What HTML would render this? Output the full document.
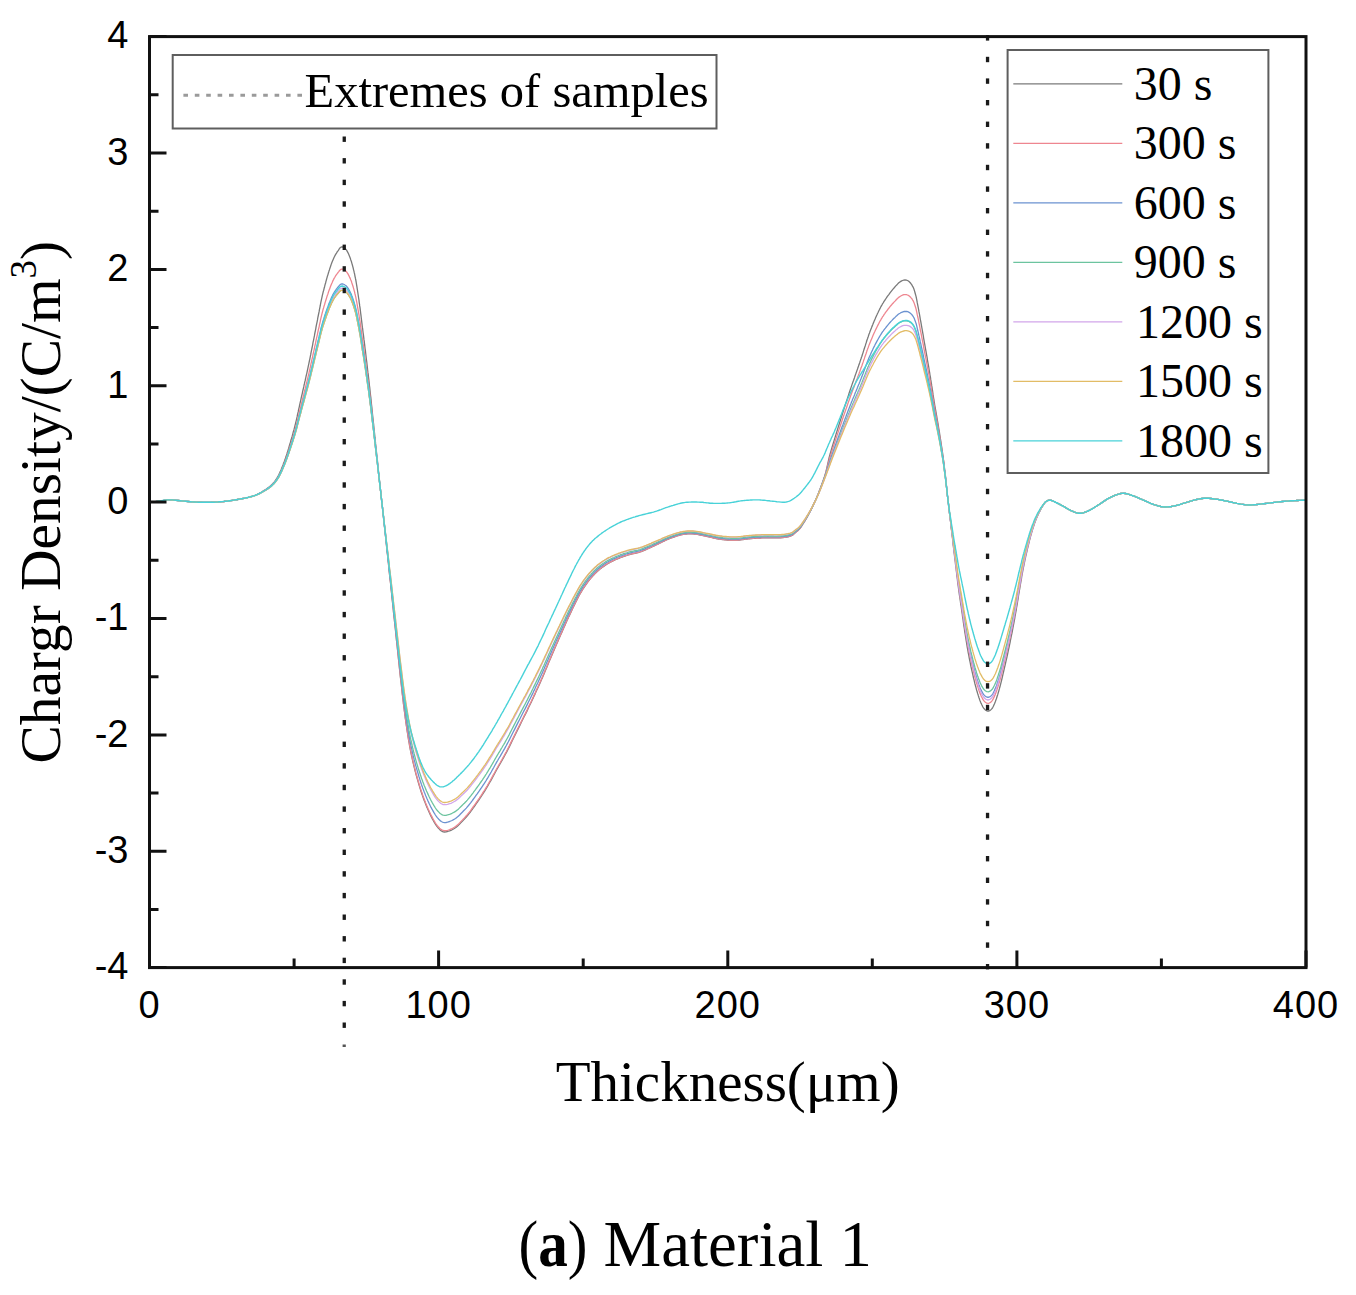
<!DOCTYPE html>
<html><head><meta charset="utf-8"><title>Charge density chart</title>
<style>html,body{margin:0;padding:0;background:#fff;width:1356px;height:1295px;overflow:hidden}
body{position:relative;font-family:"Liberation Serif",serif}</style></head>
<body>
<svg width="1356" height="1295" viewBox="0 0 1356 1295" style="position:absolute;left:0;top:0"><g fill="none" stroke-linejoin="round" stroke-linecap="round"><path d="M150.5 502.4L152.1 502.2L153.7 501.9L155.3 501.7L156.9 501.4L158.4 501.2L160.0 501.0L161.4 500.8L162.9 500.6L164.2 500.3L165.7 500.1L167.1 500.0L168.6 499.9L170.4 499.9L172.3 500.0L174.2 500.1L176.1 500.3L178.1 500.5L180.0 500.7L182.0 500.9L184.0 501.1L186.1 501.3L188.1 501.5L190.1 501.7L192.2 501.9L194.3 502.0L196.5 502.1L198.6 502.2L200.8 502.2L202.9 502.3L205.0 502.3L206.8 502.3L208.6 502.3L210.4 502.3L212.2 502.2L214.0 502.2L215.8 502.1L217.8 502.0L219.8 501.8L221.9 501.7L223.9 501.5L226.0 501.2L228.0 501.0L229.9 500.7L231.8 500.4L233.8 500.1L235.7 499.8L237.5 499.5L239.4 499.1L241.2 498.8L243.0 498.4L244.9 498.1L246.6 497.7L248.4 497.3L250.0 496.8L251.3 496.5L252.5 496.1L253.7 495.7L254.9 495.3L256.0 494.9L257.1 494.4L258.1 493.9L259.1 493.4L260.1 492.8L261.1 492.3L262.1 491.7L263.0 491.1L263.9 490.6L264.7 490.1L265.6 489.5L266.4 489.0L267.2 488.4L268.0 487.9L268.7 487.3L269.4 486.8L270.1 486.2L270.7 485.7L271.4 485.1L272.0 484.4L272.7 483.7L273.4 482.9L274.1 482.1L274.7 481.3L275.4 480.4L276.0 479.5L276.6 478.6L277.2 477.7L277.8 476.7L278.3 475.7L278.9 474.6L279.5 473.4L279.9 472.4L280.4 471.4L280.8 470.4L281.3 469.3L281.8 468.1L282.2 466.9L282.7 465.7L283.2 464.5L283.6 463.2L284.1 462.0L284.6 460.7L285.0 459.5L285.5 458.1L285.9 456.8L286.4 455.4L286.9 454.0L287.3 452.5L287.8 451.1L288.2 449.7L288.7 448.2L289.1 446.7L289.5 445.3L290.0 443.8L290.4 442.3L290.8 440.8L291.3 439.3L291.7 437.7L292.2 436.2L292.6 434.6L293.0 433.1L293.4 431.5L293.9 429.9L294.3 428.4L294.7 426.8L295.1 425.2L295.5 423.6L295.9 421.9L296.3 420.3L296.7 418.6L297.1 416.9L297.4 415.2L297.8 413.5L298.2 411.9L298.5 410.2L298.9 408.5L299.3 406.8L299.6 405.1L300.0 403.4L300.4 401.7L300.8 400.1L301.1 398.4L301.5 396.7L301.9 395.0L302.3 393.3L302.6 391.7L303.0 390.0L303.4 388.3L303.8 386.7L304.1 385.0L304.5 383.4L304.8 381.9L305.2 380.5L305.5 379.0L305.8 377.6L306.1 376.2L306.4 374.8L306.8 373.3L307.1 371.9L307.4 370.5L307.7 369.1L308.0 367.7L308.3 366.2L308.6 364.8L308.9 363.4L309.2 361.9L309.5 360.5L309.8 359.1L310.1 357.6L310.4 356.2L310.7 354.7L310.9 353.3L311.2 351.8L311.5 350.4L311.8 349.0L312.1 347.5L312.4 346.1L312.7 344.6L312.9 343.2L313.2 341.7L313.5 340.3L313.8 338.8L314.1 337.4L314.4 335.9L314.6 334.5L314.9 333.0L315.2 331.5L315.5 330.1L315.8 328.6L316.0 327.2L316.3 325.7L316.6 324.2L316.9 322.8L317.2 321.3L317.5 319.9L317.7 318.4L318.0 316.9L318.3 315.5L318.6 314.0L318.9 312.6L319.2 311.2L319.4 309.8L319.7 308.3L320.0 306.9L320.3 305.5L320.5 304.1L320.8 302.6L321.1 301.2L321.4 299.8L321.7 298.4L322.0 297.1L322.3 295.7L322.6 294.4L322.9 293.1L323.2 291.8L323.6 290.5L323.9 289.3L324.2 288.0L324.6 286.7L324.9 285.4L325.2 284.2L325.6 283.0L325.9 281.7L326.2 280.6L326.5 279.5L326.8 278.4L327.1 277.3L327.4 276.2L327.8 275.1L328.1 274.1L328.4 273.0L328.7 272.0L329.0 270.9L329.4 269.9L329.7 268.9L330.0 268.0L330.3 267.1L330.6 266.2L331.2 264.4L331.8 262.7L332.5 261.0L333.2 259.4L333.8 258.0L334.4 256.7L335.1 255.4L335.8 254.2L336.5 253.1L337.1 252.0L337.8 251.1L338.5 250.1L339.1 249.1L339.8 248.2L340.4 247.5L341.5 246.9L343.0 247.0L344.2 247.7L344.9 248.3L345.7 249.1L346.4 249.9L347.1 251.1L347.8 252.4L348.5 253.8L349.1 255.3L349.7 256.8L350.3 258.3L350.8 259.9L351.4 261.5L351.8 263.1L352.3 264.8L352.8 266.6L353.3 268.5L353.5 269.6L353.8 270.7L354.1 271.8L354.3 272.9L354.6 274.0L354.8 275.1L355.0 276.3L355.3 277.5L355.5 278.7L355.8 280.0L356.0 281.2L356.3 283.0L356.6 284.8L356.9 286.6L357.2 288.6L357.5 290.5L357.8 292.5L358.1 294.5L358.4 296.5L358.7 298.5L359.0 300.4L359.2 302.3L359.5 304.2L359.7 305.9L360.0 307.6L360.2 309.2L360.4 310.9L360.6 312.5L360.8 314.1L361.0 315.7L361.2 317.4L361.4 319.0L361.6 320.6L361.8 322.3L362.0 323.9L362.2 325.7L362.4 327.4L362.7 329.2L362.9 331.0L363.1 332.8L363.4 334.5L363.6 336.3L363.8 338.1L364.0 339.9L364.3 341.7L364.5 343.5L364.7 345.2L364.9 347.0L365.1 348.8L365.4 350.6L365.6 352.5L365.8 354.3L366.0 356.1L366.2 357.9L366.4 359.7L366.7 361.5L366.9 363.3L367.1 365.1L367.3 366.9L367.5 368.7L367.7 370.6L367.9 372.4L368.2 374.2L368.4 376.0L368.6 377.8L368.8 379.6L369.0 381.4L369.2 383.3L369.4 385.3L369.7 387.3L369.9 389.3L370.2 392.2L370.5 395.1L370.9 398.2L371.2 401.3L371.5 404.5L371.9 407.7L372.2 411.0L372.5 414.3L372.9 417.5L373.2 420.8L373.6 424.0L373.9 427.2L374.2 430.5L374.6 433.8L374.9 437.2L375.3 440.5L375.6 443.9L376.0 447.3L376.3 450.6L376.7 453.9L377.0 457.1L377.4 460.3L377.7 463.4L378.0 466.4L378.3 468.9L378.5 471.3L378.8 473.7L379.0 476.1L379.3 478.4L379.5 480.7L379.8 483.0L380.0 485.2L380.3 487.5L380.5 489.8L380.8 492.0L381.0 494.3L381.2 496.6L381.5 498.9L381.7 501.2L382.0 503.4L382.2 505.7L382.5 508.0L382.7 510.2L383.0 512.5L383.2 514.8L383.5 517.2L383.7 519.6L384.0 522.0L384.3 524.9L384.6 527.9L385.0 530.9L385.3 534.0L385.6 537.1L386.0 540.3L386.3 543.4L386.6 546.6L387.0 549.8L387.3 553.1L387.7 556.3L388.0 559.5L388.4 562.9L388.7 566.3L389.1 569.7L389.4 573.2L389.8 576.7L390.2 580.1L390.6 583.6L390.9 587.1L391.3 590.6L391.7 594.2L392.0 597.7L392.4 601.2L392.8 604.8L393.2 608.4L393.5 612.0L393.9 615.6L394.3 619.3L394.7 622.9L395.1 626.6L395.5 630.2L395.8 633.9L396.2 637.5L396.6 641.1L397.0 644.8L397.4 648.5L397.8 652.2L398.2 656.1L398.6 660.0L399.0 663.8L399.4 667.7L399.8 671.4L400.2 675.1L400.6 678.7L401.0 682.1L401.4 685.4L401.7 688.4L401.9 690.3L402.1 692.1L402.3 693.8L402.5 695.5L402.7 697.2L402.9 698.7L403.1 700.3L403.3 701.8L403.4 703.3L403.6 704.8L403.8 706.3L404.0 707.9L404.2 709.2L404.3 710.5L404.5 711.8L404.7 713.1L404.8 714.4L405.0 715.7L405.2 716.9L405.3 718.2L405.5 719.4L405.7 720.7L405.8 721.9L406.0 723.1L406.2 724.3L406.3 725.4L406.5 726.5L406.7 727.6L406.8 728.7L407.0 729.8L407.2 730.9L407.3 732.0L407.5 733.1L407.7 734.2L407.8 735.2L408.0 736.3L408.3 738.2L408.6 740.2L409.0 742.1L409.3 744.0L409.6 745.9L410.0 747.9L410.2 749.0L410.4 750.2L410.7 751.4L410.9 752.5L411.2 753.8L411.4 755.0L411.7 756.2L412.0 757.4L412.2 758.6L412.5 759.8L412.7 760.9L413.0 762.1L413.2 763.1L413.5 764.2L413.7 765.2L414.0 766.2L414.2 767.2L414.5 768.3L414.7 769.3L415.0 770.3L415.2 771.3L415.5 772.2L415.7 773.2L416.0 774.2L416.5 776.0L417.0 777.8L417.5 779.5L418.0 781.3L418.5 783.0L419.0 784.7L419.5 786.3L419.9 787.9L420.4 789.4L420.9 791.0L421.4 792.5L422.0 794.2L422.4 795.2L422.7 796.3L423.1 797.4L423.5 798.5L423.9 799.6L424.3 800.7L424.8 801.8L425.2 802.9L425.6 804.1L426.1 805.2L426.5 806.3L427.0 807.4L427.5 808.4L427.9 809.5L428.4 810.6L428.9 811.7L429.4 812.8L429.9 813.9L430.4 815.0L430.9 816.1L431.5 817.1L432.0 818.1L432.5 819.1L433.0 820.0L433.8 821.5L434.6 822.8L435.4 824.2L436.2 825.4L437.1 826.6L438.0 827.7L438.8 828.6L439.6 829.4L440.5 830.2L441.4 830.9L442.3 831.4L443.2 831.8L444.6 832.0L446.0 831.8L447.5 831.5L448.5 831.2L449.6 830.9L450.8 830.4L452.0 829.8L453.1 829.2L454.3 828.5L455.5 827.8L456.5 827.0L457.6 826.1L458.6 825.1L459.6 824.1L460.5 823.1L461.5 822.1L462.5 821.1L463.4 820.1L464.4 819.1L465.3 818.1L466.3 817.0L467.3 815.9L468.5 814.4L469.2 813.4L470.0 812.5L470.8 811.4L471.5 810.4L472.3 809.3L473.1 808.2L473.9 807.1L474.7 806.0L475.5 804.8L476.2 803.7L477.0 802.6L477.8 801.5L478.6 800.3L479.4 799.2L480.1 798.0L480.9 796.9L481.7 795.7L482.5 794.5L483.2 793.3L484.0 792.1L484.8 790.9L485.5 789.7L486.3 788.4L487.1 787.0L487.9 785.6L488.7 784.2L489.5 782.8L490.4 781.3L491.2 779.9L492.0 778.4L492.8 776.9L493.6 775.5L494.4 774.0L495.2 772.5L496.0 771.0L496.8 769.5L497.7 768.0L498.5 766.5L499.4 765.0L500.3 763.5L501.1 762.0L502.0 760.5L502.8 759.0L503.7 757.4L504.6 755.8L505.4 754.2L506.3 752.6L507.3 750.7L508.3 748.8L509.3 746.9L510.2 744.9L511.2 742.9L512.2 740.8L513.2 738.8L514.2 736.7L515.2 734.7L516.2 732.7L517.2 730.6L518.2 728.6L519.2 726.6L520.2 724.6L521.2 722.5L522.2 720.5L523.2 718.5L524.2 716.5L525.3 714.4L526.3 712.4L527.3 710.4L528.2 708.3L529.2 706.3L530.2 704.3L531.2 702.2L532.1 700.2L533.1 698.2L534.0 696.1L535.0 694.1L535.9 692.1L536.8 690.0L537.8 688.0L538.7 685.9L539.6 683.9L540.5 681.9L541.4 679.8L542.3 677.9L543.1 675.9L544.0 673.9L544.8 671.9L545.6 670.0L546.5 668.0L547.3 666.0L548.1 664.1L548.9 662.1L549.8 660.1L550.6 658.2L551.4 656.3L552.2 654.4L553.0 652.5L553.8 650.7L554.6 648.8L555.4 647.0L556.2 645.1L557.0 643.3L557.8 641.4L558.6 639.6L559.4 637.8L560.2 636.0L561.0 634.1L561.8 632.4L562.6 630.6L563.3 628.9L564.1 627.1L564.9 625.4L565.6 623.6L566.4 621.9L567.2 620.1L568.0 618.4L568.8 616.6L569.7 614.9L570.5 613.1L571.4 611.2L572.3 609.3L573.2 607.3L574.2 605.4L575.1 603.4L576.1 601.5L577.1 599.5L578.0 597.6L579.0 595.7L580.0 593.9L581.1 592.1L582.1 590.4L583.0 589.0L583.9 587.6L584.9 586.2L585.8 584.8L586.8 583.5L587.7 582.2L588.7 580.9L589.7 579.6L590.7 578.4L591.7 577.2L592.7 576.1L593.7 575.0L594.6 574.0L595.6 573.1L596.5 572.2L597.4 571.3L598.4 570.4L599.4 569.6L600.3 568.8L601.3 568.1L602.3 567.3L603.3 566.6L604.3 565.9L605.3 565.2L606.2 564.6L607.2 564.0L608.1 563.4L609.1 562.9L610.1 562.3L611.0 561.8L612.0 561.3L613.0 560.9L614.0 560.4L614.9 559.9L615.9 559.5L616.9 559.1L617.9 558.7L618.8 558.3L619.8 557.9L620.7 557.5L621.7 557.1L622.7 556.8L623.6 556.4L624.6 556.1L625.6 555.8L626.6 555.5L627.5 555.2L628.5 554.9L629.5 554.6L631.3 554.1L633.2 553.7L635.1 553.3L637.0 552.9L638.0 552.6L639.0 552.3L640.0 552.0L641.2 551.6L642.4 551.1L643.6 550.7L644.8 550.1L646.0 549.6L647.3 549.0L648.5 548.5L649.7 547.9L651.0 547.3L652.2 546.7L653.5 546.2L654.7 545.6L655.9 545.0L657.2 544.4L658.4 543.8L659.6 543.2L660.9 542.6L662.1 542.0L663.3 541.4L664.5 540.8L665.8 540.2L667.0 539.7L668.3 539.1L669.5 538.6L670.7 538.2L672.0 537.7L673.2 537.3L674.5 536.8L675.7 536.4L677.0 536.0L678.2 535.6L679.5 535.3L680.7 534.9L681.9 534.7L683.1 534.4L684.2 534.2L686.0 534.0L687.8 533.8L689.5 533.8L691.1 533.8L692.9 533.9L694.6 534.0L696.5 534.2L698.4 534.6L700.4 535.0L701.4 535.2L702.3 535.4L703.3 535.7L704.4 535.9L705.4 536.1L706.4 536.3L707.6 536.6L708.8 536.8L710.0 537.1L711.2 537.4L712.4 537.7L713.6 538.0L714.9 538.2L716.1 538.5L717.4 538.8L718.6 539.0L719.9 539.2L721.1 539.4L722.3 539.5L723.6 539.7L724.8 539.8L726.0 539.9L727.3 540.0L728.5 540.1L729.7 540.2L731.0 540.2L732.2 540.2L733.4 540.2L734.7 540.2L735.9 540.2L737.1 540.2L738.4 540.1L739.6 540.0L740.8 539.8L742.0 539.7L743.2 539.5L744.5 539.4L745.7 539.2L746.9 539.0L748.1 538.9L749.4 538.8L750.6 538.6L751.8 538.5L753.1 538.4L754.3 538.4L755.5 538.3L756.8 538.2L758.0 538.1L759.2 538.1L760.5 538.0L761.7 537.9L762.9 537.9L764.2 537.8L765.4 537.8L766.6 537.8L767.9 537.8L769.2 537.8L770.5 537.8L771.8 537.8L773.1 537.8L774.4 537.9L775.6 537.9L776.8 537.9L779.1 537.8L780.8 537.8L782.0 537.7L783.2 537.5L784.3 537.4L785.4 537.2L786.5 537.1L787.9 536.8L789.2 536.5L790.4 536.1L791.5 535.7L792.6 535.1L793.5 534.4L794.3 533.6L795.2 532.8L796.1 532.0L797.1 531.3L798.0 530.5L798.6 529.9L799.3 529.2L799.9 528.5L800.5 527.7L801.1 526.9L801.7 526.0L802.3 525.0L802.9 524.0L803.6 523.0L804.2 522.0L804.9 520.9L805.5 519.9L806.1 518.8L806.7 517.8L807.3 516.7L808.0 515.5L808.6 514.4L809.2 513.2L809.9 512.0L810.5 510.8L811.1 509.6L811.7 508.4L812.3 507.2L812.9 506.0L813.4 504.8L814.0 503.6L814.5 502.4L815.1 501.2L815.6 500.1L816.1 498.9L816.6 497.7L817.1 496.6L817.6 495.4L818.1 494.2L818.6 493.0L819.0 491.8L819.5 490.6L820.0 489.4L820.5 488.0L821.0 486.7L821.5 485.3L822.0 483.9L822.5 482.5L823.0 481.1L823.5 479.7L824.0 478.2L824.5 476.7L825.0 475.1L825.5 473.3L826.0 471.4L826.5 469.3L827.0 467.1L827.5 464.9L828.0 462.6L828.5 460.4L829.0 458.2L829.5 456.2L830.0 454.3L830.5 452.6L831.0 450.8L831.5 449.1L832.0 447.4L832.5 445.8L833.0 444.1L833.5 442.5L834.0 440.9L834.5 439.2L835.0 437.6L835.5 436.0L836.0 434.4L836.5 432.7L837.0 431.1L837.5 429.5L838.0 427.9L838.5 426.3L839.0 424.7L839.5 423.1L840.0 421.5L840.5 420.0L841.0 418.4L841.5 416.8L842.0 415.2L842.5 413.6L843.0 412.1L843.5 410.5L844.0 408.9L844.5 407.4L845.0 405.8L845.5 404.3L846.0 402.7L846.5 401.2L847.0 399.7L847.5 398.1L848.0 396.6L848.5 395.1L849.0 393.5L849.5 392.0L850.0 390.5L850.5 389.0L851.0 387.6L851.5 386.1L852.0 384.6L852.5 383.2L853.0 381.7L853.6 380.3L854.1 378.8L854.6 377.4L855.0 376.0L855.5 374.6L856.0 373.3L856.4 372.1L856.8 371.0L857.2 369.9L857.6 368.8L857.9 367.8L858.3 366.7L858.7 365.6L859.1 364.6L859.4 363.5L859.8 362.5L860.1 361.4L860.5 360.3L860.8 359.3L861.2 358.3L861.5 357.3L861.9 356.2L862.2 355.2L862.5 354.2L862.9 353.1L863.2 352.1L863.5 351.1L863.8 350.1L864.2 349.1L864.5 348.0L864.8 347.0L865.2 346.0L865.5 344.9L865.8 343.9L866.2 342.8L866.5 341.8L866.8 340.8L867.1 339.7L867.5 338.7L867.8 337.7L868.2 336.7L868.5 335.7L868.8 334.8L869.1 333.9L869.5 333.0L869.8 332.1L870.1 331.2L870.8 329.5L871.5 327.8L871.8 326.9L872.2 326.1L872.5 325.2L872.9 324.3L873.2 323.4L873.6 322.6L873.9 321.7L874.3 320.8L874.7 319.9L875.1 319.0L875.4 318.2L875.8 317.3L876.2 316.4L876.6 315.5L877.0 314.7L877.4 313.8L877.8 313.0L878.2 312.2L878.6 311.3L879.0 310.5L879.4 309.7L879.8 308.9L880.2 308.1L880.6 307.2L881.1 306.4L881.5 305.6L882.0 304.8L882.5 303.9L883.1 303.0L883.6 302.1L884.2 301.2L884.8 300.3L885.4 299.4L886.0 298.5L886.6 297.6L887.2 296.7L887.8 295.9L888.4 295.1L889.0 294.3L890.0 292.9L891.0 291.6L892.0 290.3L893.0 289.1L894.0 288.0L895.0 286.8L895.8 285.9L896.7 285.0L897.5 284.1L898.3 283.3L899.1 282.6L900.0 281.9L900.8 281.4L901.7 280.9L902.5 280.5L903.8 280.1L905.0 279.9L906.4 280.1L907.4 280.5L908.4 281.0L909.3 281.8L910.0 282.5L910.7 283.3L911.3 284.1L912.0 285.1L912.5 286.1L913.1 287.1L913.6 288.3L914.1 289.6L914.5 290.9L914.9 292.3L915.3 293.7L915.7 295.1L916.1 296.6L916.4 298.0L916.7 299.6L917.0 301.2L917.3 302.9L917.8 305.3L918.1 306.8L918.4 308.5L918.7 310.2L919.0 311.9L919.4 313.8L919.7 315.6L920.0 317.4L920.3 319.3L920.7 321.1L921.0 322.9L921.3 324.7L921.6 326.4L921.9 328.0L922.2 329.7L922.5 331.4L922.8 333.1L923.1 334.7L923.4 336.4L923.6 338.1L923.9 339.7L924.2 341.4L924.5 343.1L924.8 344.7L925.1 346.4L925.4 348.1L925.7 349.8L926.0 351.4L926.3 353.1L926.6 354.8L926.9 356.4L927.2 358.1L927.4 359.8L927.7 361.4L928.0 363.1L928.3 364.7L928.6 366.4L928.9 368.0L929.1 369.6L929.4 371.3L929.7 372.9L929.9 374.5L930.2 376.1L930.5 377.7L930.7 379.4L931.0 381.0L931.2 382.6L931.5 384.2L931.7 385.7L932.0 387.3L932.2 388.8L932.5 390.3L932.7 391.9L932.9 393.4L933.1 394.9L933.4 396.5L933.6 398.0L933.9 399.6L934.1 401.3L934.4 402.9L934.7 405.0L935.1 407.2L935.5 409.4L935.9 411.6L936.3 413.9L936.7 416.2L937.1 418.5L937.5 420.8L937.9 423.1L938.3 425.4L938.6 427.6L939.0 429.8L939.4 432.1L939.7 434.3L940.1 436.5L940.4 438.7L940.8 441.0L941.1 443.2L941.4 445.4L941.8 447.6L942.1 449.7L942.4 451.9L942.7 454.0L943.0 456.1L943.3 458.0L943.5 459.9L943.8 461.7L944.0 463.6L944.2 465.4L944.4 467.2L944.6 469.0L944.9 470.9L945.1 472.7L945.3 474.5L945.5 476.3L945.7 478.2L945.9 480.1L946.1 482.1L946.3 484.0L946.5 486.0L946.7 488.0L946.9 489.9L947.1 491.9L947.3 493.9L947.5 495.9L947.8 497.9L948.0 499.9L948.2 502.0L948.5 504.2L948.7 506.5L949.0 508.8L949.3 511.2L949.5 513.5L949.8 515.9L950.1 518.3L950.4 520.6L950.7 523.0L950.9 525.4L951.2 527.8L951.5 530.2L951.8 532.6L952.1 535.1L952.4 537.6L952.7 540.0L953.0 542.5L953.2 545.0L953.5 547.5L953.8 549.9L954.1 552.4L954.4 554.8L954.7 557.3L955.0 559.7L955.3 561.9L955.5 564.1L955.8 566.3L956.1 568.5L956.3 570.7L956.6 572.9L956.8 575.1L957.1 577.2L957.4 579.4L957.6 581.6L957.9 583.8L958.2 586.0L958.5 588.2L958.8 590.4L959.1 592.6L959.4 594.9L959.8 597.1L960.1 599.3L960.4 601.5L960.7 603.8L961.1 606.0L961.4 608.1L961.7 610.3L962.0 612.4L962.3 614.3L962.5 616.2L962.8 618.1L963.1 619.9L963.3 621.8L963.6 623.6L963.8 625.4L964.1 627.2L964.4 629.0L964.6 630.8L964.9 632.7L965.2 634.5L965.5 636.4L965.8 638.2L966.1 640.1L966.4 642.0L966.7 643.8L967.0 645.7L967.3 647.6L967.7 649.4L968.0 651.3L968.3 653.1L968.7 654.9L969.0 656.7L969.3 658.3L969.6 660.0L970.0 661.6L970.3 663.2L970.6 664.8L970.9 666.4L971.3 668.0L971.6 669.5L972.0 671.1L972.3 672.6L972.7 674.1L973.0 675.6L973.3 677.0L973.6 678.4L974.0 679.7L974.3 681.1L974.6 682.4L974.9 683.7L975.3 685.0L975.6 686.3L976.0 687.6L976.3 688.8L976.6 690.1L977.0 691.3L977.3 692.3L977.6 693.4L978.0 694.4L978.3 695.5L978.6 696.5L978.9 697.5L979.3 698.5L979.6 699.5L979.9 700.4L980.3 701.3L980.6 702.2L981.3 703.6L981.8 704.8L982.4 705.9L982.9 707.0L983.5 707.9L984.2 708.8L984.8 709.4L985.6 710.1L986.5 710.7L987.4 711.1L988.9 711.0L989.8 710.6L990.7 709.9L991.5 709.1L992.2 708.3L992.8 707.3L993.4 706.2L993.9 705.0L994.5 703.7L995.0 702.4L995.4 701.5L995.7 700.6L996.0 699.7L996.4 698.8L996.7 697.8L997.0 696.8L997.3 695.8L997.7 694.7L998.0 693.6L998.3 692.5L998.7 691.3L999.0 690.1L999.5 688.4L1000.0 686.5L1000.5 684.6L1001.0 682.6L1001.5 680.6L1002.0 678.5L1002.5 676.3L1003.0 674.2L1003.5 672.0L1004.0 669.8L1004.5 667.7L1005.0 665.6L1005.5 663.3L1006.0 661.0L1006.6 658.7L1007.1 656.4L1007.6 654.0L1008.1 651.7L1008.6 649.3L1009.1 647.0L1009.6 644.6L1010.1 642.3L1010.5 640.0L1011.0 637.7L1011.4 635.5L1011.9 633.4L1012.3 631.3L1012.7 629.1L1013.1 627.0L1013.5 624.9L1013.9 622.8L1014.3 620.7L1014.7 618.6L1015.0 616.4L1015.4 614.3L1015.8 612.2L1016.2 610.1L1016.5 607.9L1016.9 605.8L1017.3 603.6L1017.6 601.5L1018.0 599.3L1018.3 597.2L1018.6 595.1L1019.0 593.0L1019.3 590.9L1019.7 588.9L1020.0 586.9L1020.3 585.1L1020.6 583.4L1020.9 581.7L1021.2 580.0L1021.5 578.3L1021.7 576.7L1022.0 575.0L1022.3 573.4L1022.6 571.8L1022.9 570.2L1023.2 568.7L1023.5 567.1L1023.8 565.8L1024.0 564.4L1024.3 563.1L1024.6 561.9L1024.8 560.6L1025.1 559.4L1025.4 558.1L1025.6 556.9L1025.9 555.6L1026.2 554.3L1026.5 553.1L1026.8 551.8L1027.1 550.4L1027.4 549.0L1027.8 547.6L1028.1 546.1L1028.5 544.7L1028.8 543.3L1029.2 541.8L1029.5 540.4L1029.9 539.0L1030.3 537.6L1030.6 536.2L1031.0 534.9L1031.4 533.6L1031.7 532.4L1032.1 531.2L1032.4 530.0L1032.8 528.8L1033.2 527.6L1033.6 526.4L1033.9 525.2L1034.3 524.1L1034.7 523.0L1035.1 521.9L1035.5 520.8L1035.8 519.9L1036.2 519.0L1036.5 518.2L1036.9 517.3L1037.6 515.7L1038.3 514.1L1039.1 512.5L1039.8 511.1L1040.4 509.9L1041.0 508.7L1041.6 507.6L1042.3 506.6L1042.9 505.6L1043.5 504.6L1044.2 503.6L1044.9 502.6L1045.7 501.8L1046.5 501.2L1047.4 500.7L1048.3 500.4L1049.6 500.2L1051.2 500.3L1052.1 500.6L1053.1 501.1L1054.0 501.5L1055.0 502.0L1056.0 502.5L1057.1 503.0L1058.3 503.6L1059.4 504.2L1060.6 504.8L1061.8 505.5L1063.0 506.1L1064.3 506.8L1065.6 507.6L1066.9 508.4L1068.3 509.2L1069.6 509.9L1071.0 510.6L1072.4 511.2L1073.8 511.8L1075.3 512.4L1076.7 512.8L1078.2 513.2L1079.6 513.3L1081.0 513.2L1082.4 513.0L1083.8 512.6L1085.2 512.1L1086.6 511.6L1088.0 511.0L1089.7 510.2L1090.5 509.8L1091.3 509.3L1092.1 508.8L1093.0 508.3L1093.8 507.8L1094.7 507.3L1095.5 506.7L1096.4 506.2L1097.2 505.6L1098.1 505.1L1099.1 504.5L1100.0 503.9L1101.0 503.2L1102.0 502.6L1102.9 501.9L1103.9 501.2L1104.9 500.6L1105.9 499.9L1106.9 499.3L1107.9 498.7L1109.0 498.1L1110.0 497.6L1111.0 497.1L1112.1 496.6L1113.2 496.1L1114.3 495.7L1115.4 495.2L1116.5 494.8L1117.6 494.4L1118.7 494.1L1119.7 493.8L1120.8 493.5L1121.9 493.4L1123.8 493.3L1125.5 493.5L1127.2 493.8L1128.8 494.3L1130.5 494.9L1132.2 495.5L1133.9 496.1L1134.8 496.4L1135.7 496.8L1136.5 497.1L1137.4 497.5L1138.3 497.9L1139.2 498.3L1140.1 498.7L1141.0 499.1L1141.8 499.4L1142.7 499.8L1143.6 500.2L1144.5 500.6L1145.3 501.0L1146.2 501.3L1147.1 501.7L1147.9 502.1L1148.8 502.5L1149.7 502.9L1150.5 503.3L1151.4 503.6L1152.3 504.0L1154.0 504.6L1155.7 505.1L1157.4 505.7L1159.1 506.1L1160.8 506.5L1162.5 506.8L1164.2 507.0L1166.0 507.0L1167.8 506.9L1169.6 506.7L1171.4 506.5L1173.2 506.1L1175.0 505.8L1176.7 505.4L1178.3 505.0L1180.0 504.5L1181.6 503.9L1183.3 503.4L1184.9 502.9L1186.6 502.4L1188.2 501.9L1189.9 501.3L1191.6 500.8L1193.3 500.3L1195.0 499.9L1196.7 499.5L1198.5 499.1L1200.2 498.8L1202.0 498.5L1203.7 498.3L1205.5 498.2L1207.2 498.2L1209.0 498.3L1210.8 498.5L1212.5 498.7L1214.3 499.0L1216.0 499.2L1217.7 499.4L1219.4 499.7L1221.1 500.0L1222.8 500.3L1224.5 500.7L1226.2 501.0L1228.0 501.4L1229.8 501.8L1231.5 502.2L1233.3 502.6L1235.2 503.0L1237.0 503.4L1238.9 503.7L1240.9 504.1L1242.8 504.4L1244.8 504.7L1246.8 504.9L1248.9 505.0L1251.2 505.0L1252.3 504.9L1253.5 504.8L1254.7 504.7L1255.9 504.6L1257.0 504.5L1258.2 504.4L1259.4 504.2L1260.6 504.1L1261.8 503.9L1263.0 503.8L1264.2 503.7L1265.5 503.5L1266.7 503.4L1267.9 503.2L1269.2 503.1L1270.4 502.9L1271.7 502.7L1272.9 502.6L1274.2 502.4L1275.4 502.3L1276.6 502.1L1277.8 502.0L1278.9 501.9L1280.0 501.8L1281.1 501.7L1282.2 501.5L1284.4 501.3L1286.6 501.1L1288.8 501.0L1291.0 500.8L1292.2 500.7L1293.3 500.7L1294.5 500.6L1295.6 500.6L1296.8 500.5L1298.0 500.5L1299.1 500.4L1300.3 500.4L1301.5 500.3L1302.7 500.3L1303.8 500.2L1305.0 500.2" stroke="#7a7a7a" stroke-width="1.3"/><path d="M150.5 502.4L152.1 502.2L153.7 501.9L155.3 501.7L156.9 501.4L158.4 501.2L160.0 501.0L161.4 500.8L162.9 500.6L164.2 500.3L165.7 500.1L167.1 500.0L168.6 499.9L170.4 499.9L172.3 500.0L174.2 500.1L176.1 500.3L178.1 500.5L180.0 500.7L182.0 500.9L184.0 501.1L186.1 501.3L188.1 501.5L190.1 501.7L192.2 501.9L194.3 502.0L196.5 502.1L198.6 502.2L200.8 502.2L202.9 502.3L205.0 502.3L206.8 502.3L208.6 502.3L210.4 502.3L212.2 502.2L214.0 502.2L215.8 502.1L217.8 502.0L219.8 501.8L221.9 501.7L223.9 501.5L226.0 501.2L228.0 501.0L229.9 500.7L231.8 500.5L233.8 500.2L235.7 499.8L237.5 499.5L239.4 499.2L241.2 498.8L243.0 498.5L244.9 498.1L246.6 497.7L248.4 497.3L250.0 496.9L251.3 496.6L252.5 496.2L253.7 495.8L254.9 495.4L256.0 495.0L257.1 494.5L258.1 494.1L259.1 493.6L260.1 493.1L261.1 492.5L262.1 492.0L263.0 491.4L263.9 490.9L264.7 490.4L265.6 489.9L266.4 489.4L267.2 488.8L268.0 488.3L268.7 487.8L269.7 487.0L270.7 486.2L271.4 485.6L272.0 485.0L272.7 484.3L273.4 483.6L274.1 482.8L274.7 482.0L275.4 481.2L276.0 480.4L276.6 479.5L277.2 478.6L277.8 477.7L278.3 476.7L278.9 475.7L279.5 474.6L279.9 473.7L280.4 472.7L280.8 471.7L281.3 470.7L281.8 469.6L282.2 468.5L282.7 467.3L283.2 466.2L283.6 465.0L284.1 463.8L284.6 462.7L285.0 461.5L285.5 460.2L285.9 458.9L286.4 457.6L286.9 456.3L287.3 455.0L287.8 453.7L288.2 452.3L288.7 451.0L289.1 449.6L289.5 448.2L290.0 446.9L290.4 445.5L290.8 444.1L291.3 442.7L291.7 441.2L292.2 439.8L292.6 438.4L293.0 436.9L293.4 435.5L293.9 434.0L294.3 432.6L294.7 431.1L295.1 429.6L295.5 428.1L295.9 426.6L296.3 425.1L296.7 423.6L297.1 422.0L297.4 420.5L297.8 418.9L298.2 417.4L298.5 415.8L298.9 414.2L299.3 412.7L299.6 411.1L300.0 409.6L300.4 408.1L300.8 406.5L301.1 405.0L301.5 403.5L301.9 401.9L302.3 400.4L302.6 398.9L303.0 397.4L303.4 395.9L303.8 394.4L304.1 392.9L304.5 391.4L304.8 390.1L305.2 388.7L305.5 387.4L305.8 386.1L306.1 384.8L306.4 383.6L306.8 382.3L307.1 381.0L307.4 379.7L307.7 378.4L308.0 377.1L308.3 375.8L308.6 374.6L308.9 373.3L309.2 372.0L309.5 370.7L309.8 369.4L310.1 368.1L310.4 366.8L310.7 365.5L310.9 364.2L311.2 362.9L311.5 361.5L311.8 360.2L312.1 358.9L312.4 357.6L312.7 356.3L312.9 355.0L313.2 353.7L313.5 352.4L313.8 351.1L314.1 349.8L314.4 348.5L314.6 347.2L314.9 345.9L315.2 344.6L315.5 343.3L315.8 342.0L316.0 340.7L316.3 339.3L316.6 338.0L316.9 336.7L317.2 335.4L317.5 334.1L317.7 332.8L318.0 331.5L318.3 330.2L318.6 328.9L318.9 327.6L319.2 326.3L319.4 325.0L319.7 323.8L320.0 322.5L320.3 321.2L320.5 319.9L320.8 318.7L321.1 317.4L321.4 316.2L321.7 314.9L322.0 313.7L322.3 312.5L322.6 311.3L322.9 310.2L323.2 309.0L323.6 307.9L323.9 306.7L324.2 305.6L324.6 304.5L324.9 303.3L325.2 302.2L325.6 301.1L325.9 300.0L326.2 299.1L326.5 298.1L326.8 297.1L327.1 296.1L327.4 295.2L327.8 294.2L328.1 293.3L328.4 292.3L328.7 291.4L329.0 290.5L329.4 289.6L329.7 288.7L330.3 287.1L330.9 285.5L331.5 283.9L332.2 282.4L332.8 280.9L333.5 279.6L334.1 278.4L334.8 277.3L335.4 276.2L336.1 275.2L336.8 274.2L337.5 273.3L338.1 272.4L338.8 271.6L339.4 270.7L340.1 270.0L340.8 269.4L341.9 269.1L343.0 269.2L344.2 269.8L344.9 270.3L345.7 270.9L346.4 271.6L347.1 272.6L347.8 273.7L348.5 274.9L349.1 276.1L349.7 277.4L350.3 278.6L350.8 280.0L351.4 281.3L351.8 282.7L352.3 284.2L352.8 285.7L353.3 287.3L353.8 289.2L354.3 291.1L354.6 292.0L354.8 293.0L355.0 294.0L355.3 295.0L355.5 296.1L355.8 297.2L356.0 298.3L356.3 299.8L356.6 301.3L356.9 303.0L357.2 304.7L357.5 306.4L357.8 308.1L358.1 309.9L358.4 311.6L358.7 313.4L359.0 315.1L359.2 316.8L359.5 318.4L359.7 319.9L360.0 321.4L360.2 322.9L360.4 324.4L360.6 325.8L360.8 327.3L361.0 328.7L361.2 330.1L361.4 331.6L361.6 333.0L361.8 334.5L362.0 336.0L362.2 337.6L362.4 339.1L362.7 340.7L362.9 342.3L363.1 343.9L363.4 345.5L363.6 347.1L363.8 348.7L364.0 350.3L364.3 351.9L364.5 353.5L364.7 355.1L364.9 356.7L365.1 358.4L365.4 360.0L365.6 361.6L365.8 363.3L366.0 364.9L366.2 366.5L366.4 368.2L366.7 369.8L366.9 371.4L367.1 373.1L367.3 374.7L367.5 376.4L367.7 378.1L367.9 379.7L368.2 381.4L368.4 383.0L368.6 384.7L368.8 386.3L369.0 388.0L369.2 389.8L369.4 391.6L369.7 393.4L369.9 395.3L370.2 397.9L370.5 400.7L370.9 403.5L371.2 406.4L371.5 409.3L371.9 412.3L372.2 415.4L372.5 418.4L372.9 421.5L373.2 424.6L373.6 427.6L373.9 430.6L374.2 433.7L374.6 436.8L374.9 440.0L375.3 443.2L375.6 446.3L376.0 449.5L376.3 452.7L376.7 455.8L377.0 458.9L377.4 461.9L377.7 464.9L378.0 467.7L378.3 470.1L378.5 472.5L378.8 474.8L379.0 477.0L379.3 479.2L379.5 481.4L379.8 483.6L380.0 485.8L380.3 488.0L380.5 490.1L380.8 492.3L381.0 494.5L381.2 496.8L381.5 499.0L381.7 501.2L382.0 503.4L382.2 505.6L382.5 507.9L382.7 510.1L383.0 512.4L383.2 514.7L383.5 517.0L383.7 519.4L384.0 521.9L384.3 524.8L384.6 527.8L385.0 530.8L385.3 533.9L385.6 537.0L386.0 540.1L386.3 543.3L386.6 546.5L387.0 549.7L387.3 552.9L387.7 556.1L388.0 559.3L388.4 562.7L388.7 566.1L389.1 569.5L389.4 572.9L389.8 576.4L390.2 579.8L390.6 583.3L390.9 586.8L391.3 590.3L391.7 593.8L392.0 597.3L392.4 600.8L392.8 604.4L393.2 608.0L393.5 611.6L393.9 615.2L394.3 618.8L394.7 622.5L395.1 626.1L395.5 629.7L395.8 633.4L396.2 637.0L396.6 640.6L397.0 644.2L397.4 647.9L397.8 651.7L398.2 655.5L398.6 659.4L399.0 663.2L399.4 667.0L399.8 670.8L400.2 674.5L400.6 678.0L401.0 681.4L401.4 684.7L401.7 687.7L401.9 689.6L402.1 691.4L402.3 693.1L402.5 694.8L402.7 696.4L402.9 698.0L403.1 699.5L403.3 701.1L403.4 702.6L403.6 704.1L403.8 705.6L404.0 707.1L404.2 708.4L404.3 709.7L404.5 711.0L404.7 712.3L404.8 713.6L405.0 714.9L405.2 716.1L405.3 717.4L405.5 718.6L405.7 719.8L405.8 721.1L406.0 722.3L406.2 723.4L406.3 724.5L406.5 725.7L406.7 726.8L406.8 727.9L407.0 729.0L407.2 730.0L407.3 731.1L407.5 732.2L407.7 733.3L407.8 734.3L408.0 735.4L408.3 737.4L408.6 739.3L409.0 741.1L409.3 743.0L409.6 745.0L410.0 746.9L410.2 748.1L410.4 749.2L410.7 750.4L410.9 751.6L411.2 752.8L411.4 754.0L411.7 755.2L412.0 756.4L412.2 757.6L412.5 758.8L412.7 760.0L413.0 761.1L413.2 762.1L413.5 763.2L413.7 764.2L414.0 765.2L414.2 766.2L414.5 767.3L414.7 768.3L415.0 769.2L415.2 770.2L415.5 771.2L415.7 772.2L416.0 773.2L416.5 775.0L417.0 776.7L417.5 778.5L418.0 780.2L418.5 781.9L419.0 783.7L419.5 785.2L419.9 786.8L420.4 788.3L420.9 789.9L421.4 791.4L422.0 793.1L422.4 794.1L422.7 795.2L423.1 796.2L423.5 797.3L423.9 798.4L424.3 799.6L424.8 800.7L425.2 801.8L425.6 802.9L426.1 804.0L426.5 805.1L427.0 806.2L427.5 807.3L427.9 808.4L428.4 809.5L428.9 810.6L429.4 811.7L429.9 812.7L430.4 813.8L430.9 814.9L431.5 815.9L432.0 816.9L432.5 817.9L433.0 818.8L433.8 820.2L434.6 821.6L435.4 823.0L436.2 824.2L437.1 825.4L438.0 826.5L438.8 827.3L439.6 828.2L440.5 829.0L441.4 829.6L442.3 830.2L443.2 830.5L444.6 830.7L446.0 830.6L447.5 830.3L448.5 830.0L449.6 829.6L450.8 829.1L452.0 828.6L453.1 828.0L454.3 827.3L455.5 826.5L456.5 825.7L457.6 824.8L458.6 823.9L459.6 822.9L460.5 821.9L461.5 820.9L462.5 819.9L463.4 818.9L464.4 817.9L465.3 816.9L466.3 815.8L467.3 814.7L468.5 813.2L469.2 812.3L470.0 811.3L470.8 810.3L471.5 809.2L472.3 808.1L473.1 807.0L473.9 805.9L474.7 804.8L475.5 803.7L476.2 802.6L477.0 801.5L477.8 800.3L478.6 799.2L479.4 798.1L480.1 796.9L480.9 795.8L481.7 794.6L482.5 793.4L483.2 792.2L484.0 791.0L484.8 789.8L485.5 788.6L486.3 787.3L487.1 786.0L487.9 784.6L488.7 783.2L489.5 781.7L490.4 780.3L491.2 778.8L492.0 777.4L492.8 775.9L493.6 774.4L494.4 773.0L495.2 771.5L496.0 770.0L496.8 768.5L497.7 767.0L498.5 765.5L499.4 764.0L500.3 762.5L501.1 761.0L502.0 759.5L502.8 758.0L503.7 756.5L504.6 754.9L505.4 753.3L506.3 751.7L507.3 749.8L508.3 747.9L509.3 745.9L510.2 743.9L511.2 741.9L512.2 739.9L513.2 737.9L514.2 735.9L515.2 733.8L516.2 731.8L517.2 729.7L518.2 727.7L519.2 725.7L520.2 723.7L521.2 721.7L522.2 719.7L523.2 717.7L524.2 715.6L525.3 713.6L526.3 711.6L527.3 709.6L528.2 707.6L529.2 705.5L530.2 703.5L531.2 701.5L532.1 699.5L533.1 697.4L534.0 695.4L535.0 693.4L535.9 691.3L536.8 689.3L537.8 687.3L538.7 685.2L539.6 683.2L540.5 681.2L541.4 679.2L542.3 677.2L543.1 675.2L544.0 673.3L544.8 671.3L545.6 669.3L546.5 667.4L547.3 665.4L548.1 663.4L548.9 661.5L549.8 659.5L550.6 657.6L551.4 655.7L552.2 653.8L553.0 652.0L553.8 650.1L554.6 648.3L555.4 646.4L556.2 644.6L557.0 642.7L557.8 640.9L558.6 639.1L559.4 637.3L560.2 635.5L561.0 633.6L561.8 631.9L562.6 630.1L563.3 628.4L564.1 626.6L564.9 624.9L565.6 623.1L566.4 621.4L567.2 619.7L568.0 617.9L568.8 616.2L569.7 614.4L570.5 612.7L571.4 610.8L572.3 608.9L573.2 606.9L574.2 605.0L575.1 603.0L576.1 601.1L577.1 599.2L578.0 597.3L579.0 595.4L580.0 593.6L581.1 591.8L582.1 590.1L583.0 588.7L583.9 587.3L584.9 585.9L585.8 584.5L586.8 583.2L587.7 581.9L588.7 580.6L589.7 579.3L590.7 578.1L591.7 576.9L592.7 575.8L593.7 574.7L594.6 573.7L595.6 572.8L596.5 571.9L597.4 571.0L598.4 570.2L599.4 569.4L600.3 568.6L601.3 567.8L602.3 567.1L603.3 566.3L604.3 565.6L605.3 564.9L606.2 564.3L607.2 563.7L608.1 563.2L609.1 562.6L610.1 562.1L611.0 561.6L612.0 561.1L613.0 560.6L614.0 560.2L614.9 559.7L615.9 559.3L616.9 558.9L617.9 558.4L618.8 558.0L619.8 557.7L620.7 557.3L621.7 556.9L622.7 556.6L623.6 556.2L624.6 555.9L625.6 555.6L626.6 555.3L627.5 555.0L628.5 554.7L629.5 554.4L631.3 553.9L633.2 553.5L635.1 553.1L637.0 552.7L638.0 552.4L639.0 552.1L640.0 551.8L641.2 551.4L642.4 551.0L643.6 550.5L644.8 550.0L646.0 549.4L647.3 548.9L648.5 548.3L649.7 547.7L651.0 547.1L652.2 546.6L653.5 546.0L654.7 545.4L655.9 544.9L657.2 544.3L658.4 543.7L659.6 543.1L660.9 542.4L662.1 541.8L663.3 541.2L664.5 540.6L665.8 540.1L667.0 539.5L668.3 539.0L669.5 538.5L670.7 538.0L672.0 537.6L673.2 537.1L674.5 536.7L675.7 536.3L677.0 535.9L678.2 535.5L679.5 535.1L680.7 534.8L681.9 534.5L683.1 534.3L684.2 534.1L686.0 533.9L687.8 533.7L689.5 533.7L691.1 533.7L692.9 533.8L694.6 533.9L696.5 534.1L698.4 534.4L700.4 534.9L701.4 535.1L702.3 535.3L703.3 535.5L704.4 535.8L705.4 536.0L706.4 536.2L707.6 536.4L708.8 536.7L710.0 537.0L711.2 537.3L712.4 537.5L713.6 537.8L714.9 538.1L716.1 538.4L717.4 538.6L718.6 538.8L719.9 539.1L721.1 539.2L722.3 539.4L723.6 539.5L724.8 539.7L726.0 539.8L727.3 539.9L728.5 539.9L729.7 540.0L731.0 540.1L732.2 540.1L733.4 540.1L734.7 540.1L735.9 540.1L737.1 540.0L738.4 539.9L739.6 539.8L740.8 539.7L742.0 539.6L743.2 539.4L744.5 539.2L745.7 539.1L746.9 538.9L748.1 538.7L749.4 538.6L750.6 538.5L751.8 538.4L753.1 538.3L754.3 538.2L755.5 538.1L756.8 538.1L758.0 538.0L759.2 537.9L760.5 537.9L761.7 537.8L762.9 537.7L764.2 537.7L765.4 537.7L766.6 537.6L767.9 537.6L769.2 537.6L770.5 537.7L771.8 537.7L773.1 537.7L774.4 537.7L775.6 537.7L776.8 537.7L779.1 537.7L780.8 537.6L782.0 537.5L783.2 537.4L784.3 537.3L785.4 537.1L786.5 536.9L787.9 536.6L789.2 536.3L790.4 536.0L791.5 535.5L792.6 535.0L793.5 534.2L794.3 533.5L795.2 532.7L796.1 531.9L797.1 531.2L798.0 530.4L798.6 529.8L799.3 529.1L799.9 528.4L800.5 527.6L801.1 526.8L801.7 525.9L802.3 524.9L802.9 524.0L803.6 522.9L804.2 521.9L804.9 520.9L805.5 519.8L806.1 518.8L806.7 517.7L807.3 516.6L808.0 515.5L808.6 514.3L809.2 513.2L809.9 512.0L810.5 510.8L811.1 509.6L811.7 508.4L812.3 507.2L812.9 506.0L813.4 504.8L814.0 503.6L814.5 502.4L815.1 501.2L815.6 500.1L816.1 498.9L816.6 497.8L817.1 496.6L817.6 495.4L818.1 494.2L818.6 493.1L819.0 491.9L819.5 490.6L820.0 489.4L820.5 488.1L821.0 486.7L821.5 485.3L822.0 484.0L822.5 482.6L823.0 481.2L823.5 479.7L824.0 478.3L824.5 476.9L825.0 475.3L825.5 473.7L826.0 472.0L826.5 470.2L827.0 468.3L827.5 466.5L828.0 464.5L828.5 462.6L829.0 460.8L829.5 459.0L830.0 457.3L830.5 455.7L831.0 454.1L831.5 452.5L832.0 450.9L832.5 449.3L833.0 447.8L833.5 446.2L834.0 444.7L834.5 443.2L835.0 441.7L835.5 440.2L836.0 438.6L836.5 437.1L837.0 435.6L837.5 434.1L838.0 432.6L838.5 431.1L839.0 429.6L839.5 428.1L840.0 426.7L840.5 425.2L841.0 423.7L841.5 422.2L842.0 420.7L842.5 419.3L843.0 417.8L843.5 416.3L844.0 414.9L844.5 413.4L845.0 412.0L845.5 410.5L846.0 409.1L846.5 407.7L847.0 406.2L847.5 404.8L848.0 403.3L848.5 401.9L849.0 400.5L849.5 399.1L850.0 397.7L850.5 396.3L851.0 394.9L851.5 393.6L852.0 392.2L852.5 390.8L853.0 389.5L853.6 388.1L854.1 386.8L854.6 385.4L855.0 384.1L855.5 382.9L856.0 381.6L856.4 380.5L856.8 379.5L857.2 378.5L857.6 377.4L857.9 376.4L858.3 375.5L858.7 374.5L859.1 373.5L859.4 372.5L859.8 371.5L860.1 370.5L860.5 369.5L860.8 368.6L861.2 367.6L861.5 366.7L861.9 365.7L862.2 364.7L862.5 363.8L862.9 362.8L863.2 361.9L863.5 360.9L863.8 360.0L864.2 359.0L864.5 358.1L864.8 357.1L865.2 356.1L865.5 355.2L865.8 354.2L866.2 353.2L866.5 352.2L866.8 351.3L867.1 350.3L867.5 349.4L867.8 348.4L868.2 347.5L868.5 346.6L869.1 344.9L869.8 343.2L870.5 341.6L871.1 340.0L871.8 338.4L872.5 336.8L873.2 335.1L873.9 333.5L874.7 331.8L875.4 330.2L876.2 328.6L877.0 327.0L877.8 325.4L878.6 323.9L879.4 322.3L880.2 320.8L881.1 319.3L881.5 318.5L882.0 317.8L882.5 316.9L883.1 316.1L883.6 315.3L884.2 314.4L884.8 313.6L885.4 312.7L886.0 311.9L886.6 311.1L887.2 310.3L887.8 309.5L888.4 308.7L889.0 308.0L890.0 306.7L891.0 305.5L892.0 304.3L893.0 303.2L894.0 302.1L895.0 301.1L895.8 300.2L896.7 299.3L897.5 298.5L898.3 297.8L899.1 297.1L900.0 296.5L900.8 296.0L901.7 295.5L902.5 295.2L903.8 294.7L905.0 294.6L906.4 294.7L907.4 295.0L908.4 295.4L909.3 296.1L910.0 296.7L910.7 297.3L911.3 298.1L912.0 298.9L912.5 299.8L913.1 300.7L913.6 301.8L914.1 302.9L914.5 304.1L914.9 305.3L915.3 306.5L915.7 307.8L916.1 309.1L916.4 310.5L916.7 311.8L917.0 313.3L917.3 314.9L917.8 317.0L918.1 318.4L918.4 319.9L918.7 321.5L919.0 323.1L919.4 324.8L919.7 326.4L920.0 328.1L920.3 329.8L920.7 331.5L921.0 333.1L921.3 334.7L921.6 336.3L921.9 337.8L922.2 339.3L922.5 340.9L922.8 342.4L923.1 343.9L923.4 345.4L923.6 347.0L923.9 348.5L924.2 350.0L924.5 351.5L924.8 353.1L925.1 354.6L925.4 356.1L925.7 357.7L926.0 359.2L926.3 360.8L926.6 362.3L926.9 363.8L927.2 365.3L927.4 366.9L927.7 368.4L928.0 369.9L928.3 371.4L928.6 373.0L928.9 374.5L929.1 376.0L929.4 377.5L929.7 379.0L929.9 380.5L930.2 382.0L930.5 383.5L930.7 385.0L931.0 386.5L931.2 388.0L931.5 389.5L931.7 390.9L932.0 392.4L932.2 393.8L932.5 395.2L932.7 396.7L932.9 398.1L933.1 399.5L933.4 401.0L933.6 402.4L933.9 403.9L934.1 405.5L934.4 407.0L934.7 409.0L935.1 411.0L935.5 413.1L935.9 415.2L936.3 417.3L936.7 419.5L937.1 421.7L937.5 423.8L937.9 426.0L938.3 428.2L938.6 430.3L939.0 432.4L939.4 434.5L939.7 436.6L940.1 438.8L940.4 440.9L940.8 443.0L941.1 445.1L941.4 447.2L941.8 449.3L942.1 451.4L942.4 453.4L942.7 455.5L943.0 457.5L943.3 459.3L943.5 461.1L943.8 462.9L944.0 464.7L944.2 466.5L944.4 468.2L944.6 470.0L944.9 471.7L945.1 473.5L945.3 475.3L945.5 477.0L945.7 478.8L945.9 480.7L946.1 482.6L946.3 484.5L946.5 486.4L946.7 488.3L946.9 490.3L947.1 492.2L947.3 494.1L947.5 496.1L947.8 498.0L948.0 500.0L948.2 502.0L948.5 504.2L948.7 506.4L949.0 508.6L949.3 510.9L949.5 513.2L949.8 515.5L950.1 517.8L950.4 520.1L950.7 522.4L950.9 524.7L951.2 527.0L951.5 529.3L951.8 531.7L952.1 534.0L952.4 536.4L952.7 538.8L953.0 541.2L953.2 543.6L953.5 546.0L953.8 548.4L954.1 550.8L954.4 553.1L954.7 555.5L955.0 557.8L955.3 560.0L955.5 562.1L955.8 564.2L956.1 566.4L956.3 568.5L956.6 570.6L956.8 572.7L957.1 574.8L957.4 576.9L957.6 578.9L957.9 581.1L958.2 583.2L958.5 585.3L958.8 587.4L959.1 589.6L959.4 591.7L959.8 593.9L960.1 596.0L960.4 598.2L960.7 600.3L961.1 602.4L961.4 604.5L961.7 606.6L962.0 608.6L962.3 610.5L962.5 612.3L962.8 614.1L963.1 615.9L963.3 617.6L963.6 619.4L963.8 621.1L964.1 622.9L964.4 624.6L964.6 626.4L964.9 628.1L965.2 629.9L965.5 631.7L965.8 633.5L966.1 635.3L966.4 637.1L966.7 638.9L967.0 640.6L967.3 642.4L967.7 644.2L968.0 646.0L968.3 647.7L968.7 649.5L969.0 651.2L969.3 652.8L969.6 654.3L970.0 655.9L970.3 657.4L970.6 659.0L970.9 660.5L971.3 662.0L971.6 663.5L972.0 665.0L972.3 666.5L972.7 667.9L973.0 669.4L973.3 670.7L973.6 672.0L974.0 673.3L974.3 674.5L974.6 675.8L974.9 677.1L975.3 678.3L975.6 679.6L976.0 680.8L976.3 682.0L976.6 683.2L977.0 684.3L977.3 685.3L977.6 686.3L978.0 687.4L978.3 688.4L978.6 689.3L978.9 690.3L979.3 691.3L979.6 692.2L979.9 693.1L980.3 693.9L981.0 695.6L981.5 696.7L982.1 697.8L982.7 698.9L983.2 699.9L983.8 700.7L984.5 701.4L985.3 702.2L986.2 702.8L987.1 703.2L988.3 703.4L989.5 703.0L990.4 702.4L991.2 701.7L991.8 701.1L992.5 700.2L993.1 699.2L993.6 698.1L994.2 696.9L994.7 695.6L995.4 694.2L995.7 693.3L996.0 692.4L996.4 691.5L996.7 690.6L997.0 689.6L997.3 688.6L997.7 687.6L998.0 686.6L998.3 685.5L998.7 684.4L999.0 683.2L999.5 681.6L1000.0 679.8L1000.5 678.0L1001.0 676.1L1001.5 674.1L1002.0 672.1L1002.5 670.0L1003.0 668.0L1003.5 665.9L1004.0 663.8L1004.5 661.7L1005.0 659.7L1005.5 657.5L1006.0 655.3L1006.6 653.1L1007.1 650.9L1007.6 648.6L1008.1 646.4L1008.6 644.1L1009.1 641.9L1009.6 639.6L1010.1 637.4L1010.5 635.2L1011.0 633.0L1011.4 630.9L1011.9 628.9L1012.3 626.8L1012.7 624.8L1013.1 622.7L1013.5 620.7L1013.9 618.7L1014.3 616.6L1014.7 614.6L1015.0 612.6L1015.4 610.5L1015.8 608.5L1016.2 606.5L1016.5 604.4L1016.9 602.3L1017.3 600.3L1017.6 598.2L1018.0 596.1L1018.3 594.1L1018.6 592.0L1019.0 590.0L1019.3 588.0L1019.7 586.0L1020.0 584.1L1020.3 582.4L1020.6 580.8L1020.9 579.1L1021.2 577.5L1021.5 575.9L1021.7 574.3L1022.0 572.7L1022.3 571.1L1022.6 569.6L1022.9 568.1L1023.2 566.5L1023.5 565.1L1023.8 563.8L1024.0 562.5L1024.3 561.2L1024.6 560.0L1024.8 558.8L1025.1 557.6L1025.4 556.4L1025.6 555.2L1025.9 554.0L1026.2 552.7L1026.5 551.5L1026.8 550.3L1027.1 548.9L1027.4 547.6L1027.8 546.2L1028.1 544.8L1028.5 543.4L1028.8 542.0L1029.2 540.7L1029.5 539.3L1029.9 537.9L1030.3 536.6L1030.6 535.2L1031.0 533.9L1031.4 532.7L1031.7 531.5L1032.1 530.3L1032.4 529.2L1032.8 528.0L1033.2 526.8L1033.6 525.7L1033.9 524.6L1034.3 523.5L1034.7 522.4L1035.1 521.3L1035.5 520.3L1035.8 519.4L1036.5 517.7L1037.3 516.1L1038.0 514.5L1038.7 513.0L1039.4 511.6L1040.1 510.3L1040.7 509.1L1041.3 508.0L1041.9 507.0L1042.6 506.0L1043.2 505.0L1043.7 504.2L1044.5 503.2L1045.2 502.3L1045.9 501.6L1046.8 501.0L1047.7 500.6L1048.6 500.3L1050.0 500.2L1051.2 500.3L1052.1 500.6L1053.1 501.1L1054.0 501.5L1055.0 502.0L1056.0 502.5L1057.1 503.0L1058.3 503.6L1059.4 504.2L1060.6 504.8L1061.8 505.5L1063.0 506.1L1064.3 506.8L1065.6 507.6L1066.9 508.4L1068.3 509.2L1069.6 509.9L1071.0 510.6L1072.4 511.2L1073.8 511.8L1075.3 512.4L1076.7 512.8L1078.2 513.2L1079.6 513.3L1081.0 513.2L1082.4 513.0L1083.8 512.6L1085.2 512.1L1086.6 511.6L1088.0 511.0L1089.7 510.2L1090.5 509.8L1091.3 509.3L1092.1 508.8L1093.0 508.3L1093.8 507.8L1094.7 507.3L1095.5 506.7L1096.4 506.2L1097.2 505.6L1098.1 505.1L1099.1 504.5L1100.0 503.9L1101.0 503.2L1102.0 502.6L1102.9 501.9L1103.9 501.2L1104.9 500.6L1105.9 499.9L1106.9 499.3L1107.9 498.7L1109.0 498.1L1110.0 497.6L1111.0 497.1L1112.1 496.6L1113.2 496.1L1114.3 495.7L1115.4 495.2L1116.5 494.8L1117.6 494.4L1118.7 494.1L1119.7 493.8L1120.8 493.5L1121.9 493.4L1123.8 493.3L1125.5 493.5L1127.2 493.8L1128.8 494.3L1130.5 494.9L1132.2 495.5L1133.9 496.1L1134.8 496.4L1135.7 496.8L1136.5 497.1L1137.4 497.5L1138.3 497.9L1139.2 498.3L1140.1 498.7L1141.0 499.1L1141.8 499.4L1142.7 499.8L1143.6 500.2L1144.5 500.6L1145.3 501.0L1146.2 501.3L1147.1 501.7L1147.9 502.1L1148.8 502.5L1149.7 502.9L1150.5 503.3L1151.4 503.6L1152.3 504.0L1154.0 504.6L1155.7 505.1L1157.4 505.7L1159.1 506.1L1160.8 506.5L1162.5 506.8L1164.2 507.0L1166.0 507.0L1167.8 506.9L1169.6 506.7L1171.4 506.5L1173.2 506.1L1175.0 505.8L1176.7 505.4L1178.3 505.0L1180.0 504.5L1181.6 503.9L1183.3 503.4L1184.9 502.9L1186.6 502.4L1188.2 501.9L1189.9 501.3L1191.6 500.8L1193.3 500.3L1195.0 499.9L1196.7 499.5L1198.5 499.1L1200.2 498.8L1202.0 498.5L1203.7 498.3L1205.5 498.2L1207.2 498.2L1209.0 498.3L1210.8 498.5L1212.5 498.7L1214.3 499.0L1216.0 499.2L1217.7 499.4L1219.4 499.7L1221.1 500.0L1222.8 500.3L1224.5 500.7L1226.2 501.0L1228.0 501.4L1229.8 501.8L1231.5 502.2L1233.3 502.6L1235.2 503.0L1237.0 503.4L1238.9 503.7L1240.9 504.1L1242.8 504.4L1244.8 504.7L1246.8 504.9L1248.9 505.0L1251.2 505.0L1252.3 504.9L1253.5 504.8L1254.7 504.7L1255.9 504.6L1257.0 504.5L1258.2 504.4L1259.4 504.2L1260.6 504.1L1261.8 503.9L1263.0 503.8L1264.2 503.7L1265.5 503.5L1266.7 503.4L1267.9 503.2L1269.2 503.1L1270.4 502.9L1271.7 502.7L1272.9 502.6L1274.2 502.4L1275.4 502.3L1276.6 502.1L1277.8 502.0L1278.9 501.9L1280.0 501.8L1281.1 501.7L1282.2 501.5L1284.4 501.3L1286.6 501.1L1288.8 501.0L1291.0 500.8L1292.2 500.7L1293.3 500.7L1294.5 500.6L1295.6 500.6L1296.8 500.5L1298.0 500.5L1299.1 500.4L1300.3 500.4L1301.5 500.3L1302.7 500.3L1303.8 500.2L1305.0 500.2" stroke="#ee8690" stroke-width="1.3"/><path d="M150.5 502.4L152.1 502.2L153.7 501.9L155.3 501.7L156.9 501.4L158.4 501.2L160.0 501.0L161.4 500.8L162.9 500.6L164.2 500.3L165.7 500.1L167.1 500.0L168.6 499.9L170.4 499.9L172.3 500.0L174.2 500.1L176.1 500.3L178.1 500.5L180.0 500.7L182.0 500.9L184.0 501.1L186.1 501.3L188.1 501.5L190.1 501.7L192.2 501.9L194.3 502.0L196.5 502.1L198.6 502.2L200.8 502.2L202.9 502.3L205.0 502.3L206.8 502.3L208.6 502.3L210.4 502.3L212.2 502.2L214.0 502.2L215.8 502.1L217.8 502.0L219.8 501.8L221.9 501.7L223.9 501.5L226.0 501.2L228.0 501.0L229.9 500.7L231.8 500.5L233.8 500.2L235.7 499.9L237.5 499.5L239.4 499.2L241.2 498.9L243.0 498.5L244.9 498.2L246.6 497.8L248.4 497.4L250.0 497.0L251.3 496.6L252.5 496.3L253.7 495.9L254.9 495.5L256.0 495.1L257.1 494.7L258.1 494.2L259.1 493.7L260.1 493.2L261.1 492.7L262.1 492.1L263.0 491.6L263.9 491.1L264.7 490.6L265.6 490.1L266.4 489.6L267.2 489.1L268.0 488.6L268.7 488.1L269.7 487.3L270.7 486.6L271.7 485.7L272.3 485.1L273.0 484.4L273.7 483.7L274.4 482.9L275.1 482.2L275.7 481.4L276.3 480.5L276.9 479.7L277.5 478.8L278.1 477.9L278.6 477.0L279.2 475.9L279.9 474.5L280.4 473.6L280.8 472.6L281.3 471.6L281.8 470.6L282.2 469.5L282.7 468.4L283.2 467.3L283.6 466.2L284.1 465.1L284.6 463.9L285.0 462.8L285.5 461.6L285.9 460.4L286.4 459.2L286.9 457.9L287.3 456.6L287.8 455.4L288.2 454.1L288.7 452.8L289.1 451.5L289.5 450.2L290.0 448.9L290.4 447.6L290.8 446.3L291.3 444.9L291.7 443.6L292.2 442.2L292.6 440.8L293.0 439.5L293.4 438.1L293.9 436.7L294.3 435.4L294.7 434.0L295.1 432.6L295.5 431.2L295.9 429.8L296.3 428.3L296.7 426.9L297.1 425.4L297.4 424.0L297.8 422.5L298.2 421.0L298.5 419.6L298.9 418.1L299.3 416.6L299.6 415.2L300.0 413.7L300.4 412.3L300.8 410.9L301.1 409.4L301.5 408.0L301.9 406.6L302.3 405.1L302.6 403.7L303.0 402.3L303.4 400.9L303.8 399.5L304.1 398.1L304.5 396.7L304.8 395.5L305.2 394.2L305.5 393.0L305.8 391.8L306.1 390.6L306.4 389.4L306.8 388.2L307.1 387.0L307.4 385.8L307.7 384.7L308.0 383.5L308.3 382.3L308.6 381.0L308.9 379.8L309.2 378.6L309.5 377.4L309.8 376.2L310.1 375.0L310.4 373.8L310.7 372.6L310.9 371.4L311.2 370.2L311.5 369.0L311.8 367.8L312.1 366.6L312.4 365.4L312.7 364.2L312.9 362.9L313.2 361.7L313.5 360.5L313.8 359.3L314.1 358.1L314.4 356.9L314.6 355.7L314.9 354.5L315.2 353.3L315.5 352.1L315.8 350.9L316.0 349.6L316.3 348.4L316.6 347.2L316.9 346.0L317.2 344.8L317.5 343.6L317.7 342.4L318.0 341.2L318.3 340.0L318.6 338.8L318.9 337.6L319.2 336.4L319.4 335.2L319.7 334.0L320.0 332.9L320.3 331.7L320.5 330.5L320.8 329.3L321.1 328.2L321.4 327.0L321.7 325.9L322.0 324.8L322.3 323.7L322.6 322.6L322.9 321.5L323.2 320.5L323.6 319.4L323.9 318.4L324.2 317.3L324.6 316.3L324.9 315.3L325.2 314.3L325.6 313.3L325.9 312.3L326.2 311.4L326.5 310.5L326.8 309.6L327.1 308.7L327.8 306.9L328.4 305.2L329.0 303.5L329.7 301.9L330.3 300.4L330.9 298.9L331.5 297.5L332.2 296.1L332.8 294.8L333.5 293.5L334.1 292.5L334.8 291.4L335.4 290.5L336.1 289.5L336.8 288.6L337.5 287.8L338.1 287.0L338.8 286.2L339.4 285.4L340.1 284.7L340.8 284.2L341.9 283.9L343.0 284.0L344.2 284.5L344.9 285.0L345.7 285.5L346.4 286.1L347.1 286.9L347.8 287.9L348.5 288.9L349.1 290.0L349.7 291.1L350.3 292.2L350.8 293.4L351.4 294.6L351.8 295.8L352.3 297.1L352.8 298.4L353.3 299.9L353.8 301.5L354.3 303.2L354.8 304.9L355.3 306.7L355.8 308.6L356.0 309.6L356.3 311.0L356.6 312.4L356.9 313.9L357.2 315.4L357.5 317.0L357.8 318.5L358.1 320.1L358.4 321.7L358.7 323.3L359.0 324.9L359.2 326.4L359.5 327.9L359.7 329.3L360.0 330.7L360.2 332.0L360.4 333.4L360.6 334.7L360.8 336.0L361.0 337.3L361.2 338.7L361.4 340.0L361.6 341.3L361.8 342.7L362.0 344.0L362.2 345.5L362.4 346.9L362.7 348.4L362.9 349.9L363.1 351.3L363.4 352.8L363.6 354.3L363.8 355.8L364.0 357.2L364.3 358.7L364.5 360.2L364.7 361.7L364.9 363.2L365.1 364.7L365.4 366.2L365.6 367.7L365.8 369.3L366.0 370.8L366.2 372.3L366.4 373.8L366.7 375.3L366.9 376.9L367.1 378.4L367.3 380.0L367.5 381.5L367.7 383.1L367.9 384.6L368.2 386.2L368.4 387.7L368.6 389.3L368.8 390.8L369.0 392.4L369.2 394.1L369.4 395.8L369.7 397.5L369.9 399.3L370.2 401.8L370.5 404.3L370.9 407.0L371.2 409.8L371.5 412.6L371.9 415.4L372.2 418.3L372.5 421.2L372.9 424.2L373.2 427.1L373.6 430.0L373.9 432.8L374.2 435.8L374.6 438.8L374.9 441.8L375.3 444.9L375.6 448.0L376.0 451.0L376.3 454.1L376.7 457.1L377.0 460.1L377.4 463.0L377.7 465.8L378.0 468.6L378.3 470.9L378.5 473.2L378.8 475.4L379.0 477.6L379.3 479.8L379.5 481.9L379.8 484.0L380.0 486.2L380.3 488.3L380.5 490.4L380.8 492.5L381.0 494.7L381.2 496.9L381.5 499.1L381.7 501.2L382.0 503.4L382.2 505.6L382.5 507.7L382.7 509.9L383.0 512.1L383.2 514.4L383.5 516.7L383.7 519.0L384.0 521.4L384.3 524.2L384.6 527.1L385.0 530.1L385.3 533.1L385.6 536.1L386.0 539.2L386.3 542.3L386.6 545.4L387.0 548.5L387.3 551.6L387.7 554.7L388.0 557.9L388.4 561.2L388.7 564.5L389.1 567.8L389.4 571.2L389.8 574.5L390.2 577.9L390.6 581.3L390.9 584.7L391.3 588.1L391.7 591.5L392.0 595.0L392.4 598.4L392.8 601.9L393.2 605.4L393.5 608.9L393.9 612.4L394.3 615.9L394.7 619.5L395.1 623.0L395.5 626.6L395.8 630.1L396.2 633.6L396.6 637.2L397.0 640.7L397.4 644.3L397.8 648.0L398.2 651.7L398.6 655.5L399.0 659.2L399.4 662.9L399.8 666.6L400.2 670.2L400.6 673.7L401.0 677.0L401.4 680.1L401.7 683.1L401.9 684.9L402.1 686.7L402.3 688.4L402.5 690.0L402.7 691.6L402.9 693.1L403.1 694.7L403.3 696.1L403.4 697.6L403.6 699.1L403.8 700.5L404.0 702.0L404.2 703.3L404.3 704.6L404.5 705.9L404.7 707.1L404.8 708.4L405.0 709.6L405.2 710.8L405.3 712.0L405.5 713.2L405.7 714.4L405.8 715.6L406.0 716.8L406.2 717.9L406.3 719.0L406.5 720.1L406.7 721.2L406.8 722.3L407.0 723.3L407.2 724.4L407.3 725.5L407.5 726.5L407.7 727.5L407.8 728.6L408.0 729.6L408.3 731.5L408.6 733.4L409.0 735.2L409.3 737.1L409.6 738.9L410.0 740.9L410.2 742.0L410.4 743.1L410.7 744.3L410.9 745.4L411.2 746.6L411.4 747.8L411.7 748.9L412.0 750.1L412.2 751.3L412.5 752.4L412.7 753.6L413.0 754.7L413.2 755.7L413.5 756.7L413.7 757.7L414.0 758.7L414.2 759.7L414.5 760.7L414.7 761.7L415.0 762.6L415.2 763.6L415.5 764.5L415.7 765.5L416.0 766.4L416.5 768.2L417.0 769.9L417.5 771.6L418.0 773.3L418.5 775.0L419.0 776.7L419.5 778.2L419.9 779.7L420.4 781.2L420.9 782.7L421.4 784.3L422.0 785.9L422.4 786.9L422.7 787.9L423.1 788.9L423.5 790.0L423.9 791.1L424.3 792.2L424.8 793.3L425.2 794.4L425.6 795.5L426.1 796.5L426.5 797.6L427.0 798.7L427.5 799.7L427.9 800.8L428.4 801.9L428.9 802.9L429.4 804.0L429.9 805.0L430.4 806.1L430.9 807.1L431.5 808.1L432.0 809.1L432.5 810.0L433.0 810.9L433.8 812.4L434.6 813.7L435.4 815.0L436.2 816.2L437.1 817.4L438.0 818.4L438.8 819.3L439.6 820.1L440.5 820.9L441.4 821.5L442.3 822.0L443.2 822.4L444.6 822.6L446.0 822.5L447.5 822.1L448.5 821.8L449.6 821.5L450.8 821.0L452.0 820.5L453.1 819.9L454.3 819.2L455.5 818.5L456.5 817.7L457.6 816.8L458.6 815.9L459.6 815.0L460.5 814.0L461.5 813.0L462.5 812.0L463.4 811.0L464.4 810.1L465.3 809.1L466.3 808.1L467.3 806.9L468.5 805.5L469.2 804.6L470.0 803.6L470.8 802.6L471.5 801.6L472.3 800.6L473.1 799.5L473.9 798.4L474.7 797.3L475.5 796.2L476.2 795.1L477.0 794.1L477.8 793.0L478.6 791.8L479.4 790.7L480.1 789.6L480.9 788.5L481.7 787.3L482.5 786.2L483.2 785.0L484.0 783.9L484.8 782.7L485.5 781.5L486.3 780.3L487.1 778.9L487.9 777.6L488.7 776.2L489.5 774.8L490.4 773.4L491.2 772.0L492.0 770.5L492.8 769.1L493.6 767.7L494.4 766.2L495.2 764.8L496.0 763.4L496.8 761.9L497.7 760.5L498.5 759.0L499.4 757.5L500.3 756.1L501.1 754.6L502.0 753.1L502.8 751.7L503.7 750.1L504.6 748.6L505.4 747.1L506.3 745.5L507.3 743.6L508.3 741.8L509.3 739.9L510.2 738.0L511.2 736.0L512.2 734.0L513.2 732.0L514.2 730.1L515.2 728.1L516.2 726.1L517.2 724.1L518.2 722.1L519.2 720.2L520.2 718.2L521.2 716.3L522.2 714.3L523.2 712.3L524.2 710.4L525.3 708.4L526.3 706.4L527.3 704.4L528.2 702.5L529.2 700.5L530.2 698.5L531.2 696.5L532.1 694.6L533.1 692.6L534.0 690.6L535.0 688.6L535.9 686.6L536.8 684.7L537.8 682.7L538.7 680.7L539.6 678.7L540.5 676.8L541.4 674.8L542.3 672.9L543.1 670.9L544.0 669.0L544.8 667.1L545.6 665.2L546.5 663.3L547.3 661.3L548.1 659.4L548.9 657.5L549.8 655.6L550.6 653.7L551.4 651.9L552.2 650.0L553.0 648.2L553.8 646.4L554.6 644.6L555.4 642.8L556.2 641.0L557.0 639.3L557.8 637.5L558.6 635.7L559.4 633.9L560.2 632.2L561.0 630.4L561.8 628.7L562.6 626.9L563.3 625.2L564.1 623.5L564.9 621.8L565.6 620.1L566.4 618.5L567.2 616.8L568.0 615.1L568.8 613.4L569.7 611.6L570.5 609.9L571.4 608.1L572.3 606.2L573.2 604.3L574.2 602.4L575.1 600.5L576.1 598.6L577.1 596.8L578.0 594.9L579.0 593.1L580.0 591.3L581.1 589.6L582.1 587.9L583.0 586.5L583.9 585.1L584.9 583.8L585.8 582.5L586.8 581.2L587.7 579.9L588.7 578.6L589.7 577.4L590.7 576.2L591.7 575.1L592.7 574.0L593.7 572.9L594.6 572.0L595.6 571.1L596.5 570.2L597.4 569.3L598.4 568.5L599.4 567.7L600.3 566.9L601.3 566.2L602.3 565.4L603.3 564.7L604.3 564.0L605.3 563.4L606.2 562.8L607.2 562.2L608.1 561.7L609.1 561.1L610.1 560.6L611.0 560.1L612.0 559.6L613.0 559.2L614.0 558.7L614.9 558.3L615.9 557.9L616.9 557.4L617.9 557.0L618.8 556.7L619.8 556.3L620.7 555.9L621.7 555.6L622.7 555.2L623.6 554.9L624.6 554.6L625.6 554.2L626.6 553.9L627.5 553.6L628.5 553.4L629.5 553.1L631.3 552.6L633.2 552.2L635.1 551.8L637.0 551.4L638.0 551.2L639.0 550.9L640.0 550.6L641.2 550.2L642.4 549.7L643.6 549.3L644.8 548.8L646.0 548.2L647.3 547.7L648.5 547.1L649.7 546.6L651.0 546.0L652.2 545.5L653.5 544.9L654.7 544.3L655.9 543.8L657.2 543.2L658.4 542.6L659.6 542.0L660.9 541.4L662.1 540.9L663.3 540.3L664.5 539.7L665.8 539.1L667.0 538.6L668.3 538.1L669.5 537.6L670.7 537.1L672.0 536.7L673.2 536.3L674.5 535.8L675.7 535.4L677.0 535.0L678.2 534.7L679.5 534.3L680.7 534.0L681.9 533.7L683.1 533.5L684.2 533.3L686.0 533.1L687.8 532.9L689.5 532.9L691.1 532.9L692.9 533.0L694.6 533.1L696.5 533.3L698.4 533.6L700.4 534.0L702.3 534.5L703.3 534.7L704.4 534.9L705.4 535.1L706.4 535.3L707.6 535.6L708.8 535.8L710.0 536.1L711.2 536.4L712.4 536.7L713.6 536.9L714.9 537.2L716.1 537.5L717.4 537.7L718.6 537.9L719.9 538.1L721.1 538.3L722.3 538.5L723.6 538.6L724.8 538.7L726.0 538.8L727.3 538.9L728.5 539.0L729.7 539.1L731.0 539.1L732.2 539.1L733.4 539.2L734.7 539.2L735.9 539.1L737.1 539.1L738.4 539.0L739.6 538.9L740.8 538.8L742.0 538.6L743.2 538.5L744.5 538.3L745.7 538.1L746.9 538.0L748.1 537.8L749.4 537.7L750.6 537.6L751.8 537.5L753.1 537.4L754.3 537.3L755.5 537.2L756.8 537.2L758.0 537.1L759.2 537.0L760.5 537.0L761.7 536.9L762.9 536.9L764.2 536.8L765.4 536.8L766.6 536.8L767.9 536.7L769.2 536.8L770.5 536.8L771.8 536.8L773.1 536.8L774.4 536.8L775.6 536.9L776.8 536.9L779.1 536.8L780.8 536.7L782.0 536.6L783.2 536.5L784.3 536.4L785.4 536.2L786.5 536.1L787.9 535.8L789.2 535.5L790.4 535.2L791.5 534.7L792.6 534.1L793.5 533.5L794.3 532.7L795.2 531.9L796.1 531.2L797.1 530.5L798.0 529.7L798.6 529.1L799.3 528.4L799.9 527.7L800.5 527.0L801.1 526.2L801.7 525.3L802.3 524.4L802.9 523.4L803.6 522.4L804.2 521.4L804.9 520.4L805.5 519.4L806.1 518.3L806.7 517.3L807.3 516.3L808.0 515.2L808.6 514.0L809.2 512.9L809.9 511.7L810.5 510.6L811.1 509.4L811.7 508.2L812.3 507.0L812.9 505.9L813.4 504.7L814.0 503.5L814.5 502.4L815.1 501.3L815.6 500.1L816.1 499.0L816.6 497.9L817.1 496.7L817.6 495.6L818.1 494.4L818.6 493.3L819.0 492.1L819.5 490.9L820.0 489.7L820.5 488.4L821.0 487.1L821.5 485.8L822.0 484.4L822.5 483.0L823.0 481.7L823.5 480.3L824.0 478.9L824.5 477.5L825.0 476.1L825.5 474.6L826.0 473.2L826.5 471.6L827.0 470.1L827.5 468.5L828.0 466.9L828.5 465.4L829.0 463.8L829.5 462.2L830.0 460.7L830.5 459.2L831.0 457.7L831.5 456.3L832.0 454.8L832.5 453.4L833.0 452.0L833.5 450.5L834.0 449.1L834.5 447.7L835.0 446.3L835.5 444.9L836.0 443.5L836.5 442.2L837.0 440.8L837.5 439.4L838.0 438.0L838.5 436.6L839.0 435.3L839.5 433.9L840.0 432.5L840.5 431.2L841.0 429.8L841.5 428.4L842.0 427.1L842.5 425.7L843.0 424.4L843.5 423.0L844.0 421.7L844.5 420.4L845.0 419.0L845.5 417.7L846.0 416.4L846.5 415.1L847.0 413.7L847.5 412.4L848.0 411.1L848.5 409.8L849.0 408.5L849.5 407.2L850.0 405.9L850.5 404.6L851.0 403.4L851.5 402.1L852.0 400.9L852.5 399.6L853.0 398.4L853.6 397.1L854.1 395.9L854.6 394.7L855.0 393.5L855.5 392.3L856.0 391.2L856.4 390.2L856.8 389.2L857.2 388.3L857.6 387.3L857.9 386.4L858.3 385.5L858.7 384.6L859.1 383.7L859.4 382.8L859.8 381.9L860.1 381.0L860.5 380.1L860.8 379.2L861.2 378.3L861.5 377.4L861.9 376.6L862.2 375.7L862.5 374.8L862.9 373.9L863.2 373.1L863.5 372.2L863.8 371.3L864.2 370.4L864.5 369.6L864.8 368.7L865.2 367.8L865.5 366.9L865.8 366.0L866.2 365.1L866.5 364.2L866.8 363.3L867.1 362.5L867.5 361.6L867.8 360.7L868.5 359.0L869.1 357.5L869.8 356.0L870.5 354.5L871.1 353.0L871.8 351.5L872.5 350.1L873.2 348.6L873.9 347.1L874.7 345.6L875.4 344.1L876.2 342.6L877.0 341.1L877.8 339.7L878.6 338.3L879.4 336.9L880.2 335.5L881.1 334.1L882.0 332.7L882.5 331.9L883.1 331.1L883.6 330.4L884.2 329.6L884.8 328.8L885.4 328.1L886.0 327.3L886.6 326.5L887.2 325.8L887.8 325.1L888.4 324.4L889.0 323.7L890.0 322.5L891.0 321.4L892.0 320.4L893.0 319.3L894.0 318.3L895.0 317.4L895.8 316.6L896.7 315.8L897.5 315.0L898.3 314.3L899.1 313.7L900.0 313.2L900.8 312.7L901.7 312.3L902.9 311.8L904.2 311.5L905.3 311.4L906.7 311.5L907.7 311.7L908.7 312.1L909.7 312.7L910.7 313.5L911.3 314.1L912.0 314.8L912.5 315.5L913.1 316.3L913.6 317.2L914.1 318.1L914.5 319.1L914.9 320.2L915.3 321.3L915.7 322.4L916.1 323.5L916.4 324.7L916.7 325.9L917.0 327.2L917.3 328.6L917.8 330.5L918.1 331.8L918.4 333.1L918.7 334.5L919.0 335.9L919.4 337.4L919.7 338.9L920.0 340.4L920.3 341.9L920.7 343.4L921.0 344.8L921.3 346.3L921.6 347.6L921.9 349.0L922.2 350.4L922.5 351.7L922.8 353.1L923.1 354.5L923.4 355.8L923.6 357.2L923.9 358.5L924.2 359.9L924.5 361.3L924.8 362.6L925.1 364.0L925.4 365.4L925.7 366.8L926.0 368.2L926.3 369.5L926.6 370.9L926.9 372.3L927.2 373.7L927.4 375.1L927.7 376.4L928.0 377.8L928.3 379.2L928.6 380.5L928.9 381.9L929.1 383.3L929.4 384.7L929.7 386.0L929.9 387.4L930.2 388.8L930.5 390.1L930.7 391.5L931.0 392.9L931.2 394.2L931.5 395.6L931.7 396.9L932.0 398.3L932.2 399.6L932.5 400.9L932.7 402.2L932.9 403.5L933.1 404.8L933.4 406.2L933.6 407.5L933.9 408.9L934.1 410.3L934.4 411.8L934.7 413.6L935.1 415.4L935.5 417.4L935.9 419.3L936.3 421.3L936.7 423.3L937.1 425.3L937.5 427.3L937.9 429.4L938.3 431.4L938.6 433.4L939.0 435.4L939.4 437.3L939.7 439.3L940.1 441.3L940.4 443.3L940.8 445.3L941.1 447.3L941.4 449.3L941.8 451.3L942.1 453.3L942.4 455.2L942.7 457.2L943.0 459.1L943.3 460.9L943.5 462.6L943.8 464.3L944.0 466.0L944.2 467.7L944.4 469.4L944.6 471.1L944.9 472.7L945.1 474.4L945.3 476.1L945.5 477.8L945.7 479.6L945.9 481.4L946.1 483.2L946.3 485.1L946.5 486.9L946.7 488.8L946.9 490.6L947.1 492.5L947.3 494.3L947.5 496.2L947.8 498.1L948.0 500.1L948.2 502.0L948.5 504.1L948.7 506.3L949.0 508.5L949.3 510.7L949.5 512.9L949.8 515.1L950.1 517.4L950.4 519.6L950.7 521.9L950.9 524.1L951.2 526.4L951.5 528.6L951.8 530.9L952.1 533.2L952.4 535.5L952.7 537.9L953.0 540.2L953.2 542.5L953.5 544.9L953.8 547.2L954.1 549.5L954.4 551.8L954.7 554.1L955.0 556.3L955.3 558.4L955.5 560.5L955.8 562.6L956.1 564.6L956.3 566.7L956.6 568.7L956.8 570.8L957.1 572.8L957.4 574.8L957.6 576.9L957.9 578.9L958.2 581.0L958.5 583.0L958.8 585.1L959.1 587.2L959.4 589.3L959.8 591.4L960.1 593.5L960.4 595.5L960.7 597.6L961.1 599.7L961.4 601.7L961.7 603.7L962.0 605.7L962.3 607.5L962.5 609.2L962.8 611.0L963.1 612.7L963.3 614.4L963.6 616.1L963.8 617.8L964.1 619.5L964.4 621.2L964.6 622.9L964.9 624.6L965.2 626.3L965.5 628.0L965.8 629.7L966.1 631.5L966.4 633.2L966.7 635.0L967.0 636.7L967.3 638.4L967.7 640.2L968.0 641.9L968.3 643.6L968.7 645.2L969.0 646.9L969.3 648.4L969.6 649.9L970.0 651.4L970.3 652.9L970.6 654.4L970.9 655.9L971.3 657.3L971.6 658.8L972.0 660.2L972.3 661.6L972.7 663.1L973.0 664.4L973.3 665.7L973.6 667.0L974.0 668.2L974.3 669.5L974.6 670.7L974.9 671.9L975.3 673.1L975.6 674.3L976.0 675.5L976.3 676.6L976.6 677.8L977.0 678.9L977.3 679.9L977.6 680.9L978.0 681.8L978.3 682.8L978.6 683.7L978.9 684.7L979.3 685.6L979.6 686.5L979.9 687.4L980.6 689.0L981.3 690.3L981.8 691.4L982.4 692.5L982.9 693.4L983.5 694.3L984.2 695.1L985.0 695.9L985.9 696.6L986.8 697.0L988.0 697.3L989.2 697.0L990.1 696.6L991.0 695.9L991.8 695.1L992.5 694.2L993.1 693.3L993.6 692.2L994.2 691.0L994.7 689.8L995.4 688.4L996.0 686.8L996.4 685.9L996.7 685.0L997.0 684.0L997.3 683.1L997.7 682.1L998.0 681.1L998.3 680.0L998.7 679.0L999.0 677.9L999.5 676.3L1000.0 674.6L1000.5 672.8L1001.0 670.9L1001.5 669.0L1002.0 667.1L1002.5 665.1L1003.0 663.1L1003.5 661.1L1004.0 659.1L1004.5 657.1L1005.0 655.1L1005.5 653.0L1006.0 650.9L1006.6 648.8L1007.1 646.6L1007.6 644.5L1008.1 642.3L1008.6 640.1L1009.1 637.9L1009.6 635.7L1010.1 633.6L1010.5 631.4L1011.0 629.3L1011.4 627.3L1011.9 625.3L1012.3 623.3L1012.7 621.4L1013.1 619.4L1013.5 617.4L1013.9 615.5L1014.3 613.5L1014.7 611.5L1015.0 609.6L1015.4 607.6L1015.8 605.6L1016.2 603.6L1016.5 601.6L1016.9 599.6L1017.3 597.6L1017.6 595.6L1018.0 593.6L1018.3 591.6L1018.6 589.6L1019.0 587.7L1019.3 585.7L1019.7 583.8L1020.0 582.0L1020.3 580.3L1020.6 578.7L1020.9 577.1L1021.2 575.5L1021.5 574.0L1021.7 572.4L1022.0 570.9L1022.3 569.4L1022.6 567.9L1022.9 566.4L1023.2 564.9L1023.5 563.5L1023.8 562.2L1024.0 561.0L1024.3 559.7L1024.6 558.5L1024.8 557.4L1025.1 556.2L1025.4 555.0L1025.6 553.8L1025.9 552.7L1026.2 551.5L1026.5 550.3L1026.8 549.1L1027.1 547.8L1027.4 546.4L1027.8 545.1L1028.1 543.8L1028.5 542.4L1028.8 541.1L1029.2 539.7L1029.5 538.4L1029.9 537.1L1030.3 535.7L1030.6 534.4L1031.0 533.2L1031.4 532.0L1031.7 530.8L1032.1 529.7L1032.4 528.5L1032.8 527.4L1033.2 526.3L1033.6 525.2L1033.9 524.1L1034.3 523.0L1034.7 521.9L1035.1 520.9L1035.5 519.9L1036.2 518.2L1036.9 516.6L1037.6 515.0L1038.3 513.5L1039.1 512.1L1039.8 510.7L1040.4 509.5L1041.0 508.4L1041.6 507.4L1042.3 506.4L1042.9 505.4L1043.5 504.5L1044.2 503.5L1044.9 502.6L1045.7 501.8L1046.5 501.2L1047.4 500.7L1048.3 500.4L1049.6 500.2L1051.2 500.3L1052.1 500.6L1053.1 501.1L1054.0 501.5L1055.0 502.0L1056.0 502.5L1057.1 503.0L1058.3 503.6L1059.4 504.2L1060.6 504.8L1061.8 505.5L1063.0 506.1L1064.3 506.8L1065.6 507.6L1066.9 508.4L1068.3 509.2L1069.6 509.9L1071.0 510.6L1072.4 511.2L1073.8 511.8L1075.3 512.4L1076.7 512.8L1078.2 513.2L1079.6 513.3L1081.0 513.2L1082.4 513.0L1083.8 512.6L1085.2 512.1L1086.6 511.6L1088.0 511.0L1089.7 510.2L1090.5 509.8L1091.3 509.3L1092.1 508.8L1093.0 508.3L1093.8 507.8L1094.7 507.3L1095.5 506.7L1096.4 506.2L1097.2 505.6L1098.1 505.1L1099.1 504.5L1100.0 503.9L1101.0 503.2L1102.0 502.6L1102.9 501.9L1103.9 501.2L1104.9 500.6L1105.9 499.9L1106.9 499.3L1107.9 498.7L1109.0 498.1L1110.0 497.6L1111.0 497.1L1112.1 496.6L1113.2 496.1L1114.3 495.7L1115.4 495.2L1116.5 494.8L1117.6 494.4L1118.7 494.1L1119.7 493.8L1120.8 493.5L1121.9 493.4L1123.8 493.3L1125.5 493.5L1127.2 493.8L1128.8 494.3L1130.5 494.9L1132.2 495.5L1133.9 496.1L1134.8 496.4L1135.7 496.8L1136.5 497.1L1137.4 497.5L1138.3 497.9L1139.2 498.3L1140.1 498.7L1141.0 499.1L1141.8 499.4L1142.7 499.8L1143.6 500.2L1144.5 500.6L1145.3 501.0L1146.2 501.3L1147.1 501.7L1147.9 502.1L1148.8 502.5L1149.7 502.9L1150.5 503.3L1151.4 503.6L1152.3 504.0L1154.0 504.6L1155.7 505.1L1157.4 505.7L1159.1 506.1L1160.8 506.5L1162.5 506.8L1164.2 507.0L1166.0 507.0L1167.8 506.9L1169.6 506.7L1171.4 506.5L1173.2 506.1L1175.0 505.8L1176.7 505.4L1178.3 505.0L1180.0 504.5L1181.6 503.9L1183.3 503.4L1184.9 502.9L1186.6 502.4L1188.2 501.9L1189.9 501.3L1191.6 500.8L1193.3 500.3L1195.0 499.9L1196.7 499.5L1198.5 499.1L1200.2 498.8L1202.0 498.5L1203.7 498.3L1205.5 498.2L1207.2 498.2L1209.0 498.3L1210.8 498.5L1212.5 498.7L1214.3 499.0L1216.0 499.2L1217.7 499.4L1219.4 499.7L1221.1 500.0L1222.8 500.3L1224.5 500.7L1226.2 501.0L1228.0 501.4L1229.8 501.8L1231.5 502.2L1233.3 502.6L1235.2 503.0L1237.0 503.4L1238.9 503.7L1240.9 504.1L1242.8 504.4L1244.8 504.7L1246.8 504.9L1248.9 505.0L1251.2 505.0L1252.3 504.9L1253.5 504.8L1254.7 504.7L1255.9 504.6L1257.0 504.5L1258.2 504.4L1259.4 504.2L1260.6 504.1L1261.8 503.9L1263.0 503.8L1264.2 503.7L1265.5 503.5L1266.7 503.4L1267.9 503.2L1269.2 503.1L1270.4 502.9L1271.7 502.7L1272.9 502.6L1274.2 502.4L1275.4 502.3L1276.6 502.1L1277.8 502.0L1278.9 501.9L1280.0 501.8L1281.1 501.7L1282.2 501.5L1284.4 501.3L1286.6 501.1L1288.8 501.0L1291.0 500.8L1292.2 500.7L1293.3 500.7L1294.5 500.6L1295.6 500.6L1296.8 500.5L1298.0 500.5L1299.1 500.4L1300.3 500.4L1301.5 500.3L1302.7 500.3L1303.8 500.2L1305.0 500.2" stroke="#6b92d0" stroke-width="1.3"/><path d="M150.5 502.4L152.1 502.2L153.7 501.9L155.3 501.7L156.9 501.4L158.4 501.2L160.0 501.0L161.4 500.8L162.9 500.6L164.2 500.3L165.7 500.1L167.1 500.0L168.6 499.9L170.4 499.9L172.3 500.0L174.2 500.1L176.1 500.3L178.1 500.5L180.0 500.7L182.0 500.9L184.0 501.1L186.1 501.3L188.1 501.5L190.1 501.7L192.2 501.9L194.3 502.0L196.5 502.1L198.6 502.2L200.8 502.2L202.9 502.3L205.0 502.3L206.8 502.3L208.6 502.3L210.4 502.3L212.2 502.2L214.0 502.2L215.8 502.1L217.8 502.0L219.8 501.8L221.9 501.7L223.9 501.5L226.0 501.2L228.0 501.0L229.9 500.7L231.8 500.5L233.8 500.2L235.7 499.9L237.5 499.5L239.4 499.2L241.2 498.9L243.0 498.5L244.9 498.2L246.6 497.8L248.4 497.4L250.0 497.0L251.3 496.7L252.5 496.3L253.7 495.9L254.9 495.6L256.0 495.1L257.1 494.7L258.1 494.2L259.1 493.8L260.1 493.3L261.1 492.7L262.1 492.2L263.0 491.7L263.9 491.2L264.7 490.7L265.6 490.2L266.4 489.7L267.2 489.2L268.0 488.7L269.1 488.0L270.1 487.2L271.0 486.4L272.0 485.6L272.7 484.9L273.4 484.2L274.1 483.5L274.7 482.8L275.4 482.0L276.0 481.2L276.6 480.4L277.2 479.5L277.8 478.7L278.3 477.8L278.9 476.8L279.5 475.7L279.9 474.9L280.4 474.0L280.8 473.0L281.3 472.0L281.8 471.0L282.2 470.0L282.7 468.9L283.2 467.8L283.6 466.7L284.1 465.6L284.6 464.5L285.0 463.4L285.5 462.2L285.9 461.0L286.4 459.8L286.9 458.6L287.3 457.3L287.8 456.1L288.2 454.8L288.7 453.6L289.1 452.3L289.5 451.0L290.0 449.8L290.4 448.5L290.8 447.2L291.3 445.9L291.7 444.6L292.2 443.2L292.6 441.9L293.0 440.6L293.4 439.2L293.9 437.9L294.3 436.6L294.7 435.2L295.1 433.9L295.5 432.5L295.9 431.1L296.3 429.7L296.7 428.3L297.1 426.9L297.4 425.4L297.8 424.0L298.2 422.6L298.5 421.2L298.9 419.7L299.3 418.3L299.6 416.9L300.0 415.5L300.4 414.1L300.8 412.7L301.1 411.3L301.5 409.9L301.9 408.5L302.3 407.1L302.6 405.8L303.0 404.4L303.4 403.0L303.8 401.7L304.1 400.3L304.5 399.0L304.8 397.8L305.2 396.6L305.5 395.4L305.8 394.2L306.1 393.1L306.4 391.9L306.8 390.8L307.1 389.6L307.4 388.5L307.7 387.3L308.0 386.2L308.3 385.0L308.6 383.8L308.9 382.7L309.2 381.5L309.5 380.3L309.8 379.2L310.1 378.0L310.4 376.8L310.7 375.7L310.9 374.5L311.2 373.3L311.5 372.2L311.8 371.0L312.1 369.8L312.4 368.7L312.7 367.5L312.9 366.3L313.2 365.2L313.5 364.0L313.8 362.8L314.1 361.7L314.4 360.5L314.6 359.3L314.9 358.2L315.2 357.0L315.5 355.8L315.8 354.7L316.0 353.5L316.3 352.3L316.6 351.2L316.9 350.0L317.2 348.8L317.5 347.6L317.7 346.5L318.0 345.3L318.3 344.2L318.6 343.0L318.9 341.9L319.2 340.7L319.4 339.6L319.7 338.4L320.0 337.3L320.3 336.2L320.5 335.0L320.8 333.9L321.1 332.8L321.4 331.7L321.7 330.6L322.0 329.5L322.3 328.5L322.6 327.4L322.9 326.4L323.2 325.4L323.6 324.4L323.9 323.4L324.2 322.4L324.6 321.4L324.9 320.4L325.2 319.4L325.6 318.5L325.9 317.5L326.5 315.8L327.1 314.0L327.8 312.4L328.4 310.7L329.0 309.1L329.7 307.5L330.3 306.1L330.9 304.7L331.5 303.3L332.2 302.0L332.8 300.7L333.5 299.5L334.1 298.5L334.8 297.5L335.4 296.6L336.1 295.7L336.8 294.8L337.5 294.0L338.1 293.3L338.8 292.5L339.4 291.7L340.1 291.1L341.1 290.4L342.2 290.3L343.4 290.5L344.6 291.0L345.3 291.5L346.4 292.3L347.1 293.1L347.8 294.0L348.5 294.9L349.1 296.0L349.7 297.0L350.3 298.0L350.8 299.1L351.4 300.3L351.8 301.4L352.3 302.6L352.8 303.9L353.3 305.3L353.8 306.8L354.3 308.4L354.8 310.0L355.3 311.7L355.8 313.6L356.3 315.8L356.6 317.1L356.9 318.5L357.2 320.0L357.5 321.5L357.8 323.0L358.1 324.5L358.4 326.1L358.7 327.6L359.0 329.1L359.2 330.6L359.5 332.0L359.7 333.3L360.0 334.6L360.2 335.9L360.4 337.2L360.6 338.5L360.8 339.8L361.0 341.0L361.2 342.3L361.4 343.6L361.6 344.9L361.8 346.2L362.0 347.5L362.2 348.9L362.4 350.3L362.7 351.7L362.9 353.1L363.1 354.5L363.4 355.9L363.6 357.4L363.8 358.8L364.0 360.2L364.3 361.6L364.5 363.1L364.7 364.5L364.9 366.0L365.1 367.4L365.4 368.9L365.6 370.4L365.8 371.8L366.0 373.3L366.2 374.8L366.4 376.2L366.7 377.7L366.9 379.2L367.1 380.7L367.3 382.2L367.5 383.7L367.7 385.2L367.9 386.7L368.2 388.2L368.4 389.7L368.6 391.2L368.8 392.8L369.0 394.3L369.2 395.9L369.4 397.6L369.7 399.2L369.9 401.0L370.2 403.4L370.5 405.9L370.9 408.5L371.2 411.2L371.5 414.0L371.9 416.8L372.2 419.6L372.5 422.4L372.9 425.3L373.2 428.2L373.6 431.0L373.9 433.8L374.2 436.7L374.6 439.7L374.9 442.6L375.3 445.6L375.6 448.7L376.0 451.7L376.3 454.7L376.7 457.6L377.0 460.6L377.4 463.4L377.7 466.3L378.0 469.0L378.3 471.3L378.5 473.5L378.8 475.7L379.0 477.9L379.3 480.0L379.5 482.1L379.8 484.2L380.0 486.3L380.3 488.4L380.5 490.5L380.8 492.7L381.0 494.8L381.2 497.0L381.5 499.1L381.7 501.2L382.0 503.4L382.2 505.5L382.5 507.6L382.7 509.8L383.0 512.0L383.2 514.2L383.5 516.4L383.7 518.7L384.0 521.0L384.3 523.8L384.6 526.6L385.0 529.5L385.3 532.4L385.6 535.4L386.0 538.3L386.3 541.4L386.6 544.4L387.0 547.4L387.3 550.5L387.7 553.5L388.0 556.6L388.4 559.8L388.7 563.1L389.1 566.3L389.4 569.6L389.8 572.9L390.2 576.2L390.6 579.5L390.9 582.9L391.3 586.2L391.7 589.5L392.0 592.9L392.4 596.2L392.8 599.6L393.2 603.0L393.5 606.5L393.9 609.9L394.3 613.4L394.7 616.8L395.1 620.3L395.5 623.8L395.8 627.2L396.2 630.7L396.6 634.1L397.0 637.6L397.4 641.1L397.8 644.7L398.2 648.3L398.6 652.0L399.0 655.7L399.4 659.3L399.8 662.9L400.2 666.4L400.6 669.8L401.0 673.1L401.4 676.1L401.7 679.0L401.9 680.8L402.1 682.5L402.3 684.2L402.5 685.8L402.7 687.3L402.9 688.9L403.1 690.3L403.3 691.8L403.4 693.2L403.6 694.6L403.8 696.1L404.0 697.5L404.2 698.8L404.3 700.0L404.5 701.3L404.7 702.5L404.8 703.7L405.0 704.9L405.2 706.1L405.3 707.3L405.5 708.5L405.7 709.7L405.8 710.8L406.0 712.0L406.2 713.1L406.3 714.1L406.5 715.2L406.7 716.3L406.8 717.3L407.0 718.4L407.2 719.4L407.5 721.5L407.8 723.5L408.2 725.4L408.5 727.3L408.8 729.1L409.1 730.9L409.5 732.7L409.8 734.5L410.2 736.6L410.4 737.7L410.7 738.8L410.9 739.9L411.2 741.1L411.4 742.2L411.7 743.4L412.0 744.5L412.2 745.7L412.5 746.8L412.7 747.9L413.0 749.0L413.2 750.0L413.5 751.0L413.7 752.0L414.0 752.9L414.2 753.9L414.5 754.9L414.7 755.8L415.2 757.7L415.7 759.6L416.2 761.4L416.7 763.1L417.2 764.7L417.7 766.4L418.2 768.1L418.7 769.7L419.2 771.3L419.7 772.8L420.2 774.2L420.7 775.7L421.2 777.2L421.7 778.7L422.4 780.5L422.7 781.5L423.1 782.5L423.5 783.5L423.9 784.6L424.3 785.7L424.8 786.7L425.2 787.8L425.6 788.9L426.1 789.9L426.5 791.0L427.0 792.0L427.5 793.0L427.9 794.1L428.4 795.1L428.9 796.2L429.4 797.2L429.9 798.2L430.4 799.3L430.9 800.3L431.5 801.2L432.0 802.2L432.5 803.1L433.0 804.0L433.8 805.4L434.6 806.7L435.4 808.0L436.2 809.2L437.1 810.3L438.0 811.3L438.8 812.1L439.6 812.9L440.5 813.7L441.4 814.3L442.3 814.9L443.2 815.2L444.6 815.4L446.0 815.3L447.5 814.9L448.5 814.6L449.6 814.3L450.8 813.9L452.0 813.3L453.1 812.7L454.3 812.1L455.5 811.4L456.5 810.6L457.6 809.8L458.6 808.9L459.6 807.9L460.5 807.0L461.5 806.0L462.5 805.0L463.4 804.1L464.4 803.2L465.3 802.2L466.3 801.2L467.3 800.1L468.5 798.7L469.2 797.8L470.0 796.8L470.8 795.9L471.5 794.9L472.3 793.8L473.1 792.8L473.9 791.7L474.7 790.7L475.5 789.6L476.2 788.5L477.0 787.5L477.8 786.4L478.6 785.3L479.4 784.2L480.1 783.1L480.9 782.0L481.7 780.9L482.5 779.8L483.2 778.7L484.0 777.5L484.8 776.4L485.5 775.2L486.3 774.0L487.1 772.7L487.9 771.4L488.7 770.0L489.5 768.7L490.4 767.3L491.2 765.9L492.0 764.5L492.8 763.1L493.6 761.7L494.4 760.3L495.2 758.9L496.0 757.5L496.8 756.1L497.7 754.6L498.5 753.2L499.4 751.8L500.3 750.4L501.1 748.9L502.0 747.5L502.8 746.0L503.7 744.6L504.6 743.1L505.4 741.6L506.3 740.0L507.3 738.2L508.3 736.4L509.3 734.5L510.2 732.6L511.2 730.7L512.2 728.8L513.2 726.9L514.2 724.9L515.2 723.0L516.2 721.0L517.2 719.1L518.2 717.2L519.2 715.3L520.2 713.4L521.2 711.4L522.2 709.5L523.2 707.6L524.2 705.7L525.3 703.7L526.3 701.8L527.3 699.9L528.2 698.0L529.2 696.0L530.2 694.1L531.2 692.2L532.1 690.2L533.1 688.3L534.0 686.4L535.0 684.4L535.9 682.5L536.8 680.6L537.8 678.6L538.7 676.7L539.6 674.8L540.5 672.8L541.4 670.9L542.3 669.0L543.1 667.1L544.0 665.3L544.8 663.4L545.6 661.5L546.5 659.6L547.3 657.8L548.1 655.9L548.9 654.0L549.8 652.2L550.6 650.3L551.4 648.5L552.2 646.7L553.0 645.0L553.8 643.2L554.6 641.4L555.4 639.7L556.2 637.9L557.0 636.2L557.8 634.4L558.6 632.7L559.4 631.0L560.2 629.2L561.0 627.5L561.8 625.8L562.6 624.1L563.3 622.5L564.1 620.8L564.9 619.2L565.6 617.5L566.4 615.8L567.2 614.2L568.0 612.5L568.8 610.9L569.7 609.2L570.5 607.5L571.4 605.7L572.3 603.9L573.2 602.0L574.2 600.2L575.1 598.3L576.1 596.5L577.1 594.6L578.0 592.8L579.0 591.0L580.0 589.3L581.1 587.6L582.1 586.0L583.0 584.6L583.9 583.3L584.9 581.9L585.8 580.6L586.8 579.4L587.7 578.1L588.7 576.9L589.7 575.7L590.7 574.6L591.7 573.4L592.7 572.4L593.7 571.3L594.6 570.4L595.6 569.5L596.5 568.6L597.4 567.8L598.4 567.0L599.4 566.2L600.3 565.5L601.3 564.7L602.3 564.0L603.3 563.3L604.3 562.7L605.3 562.0L606.2 561.4L607.2 560.9L608.1 560.3L609.1 559.8L610.1 559.3L611.0 558.8L612.0 558.4L613.0 557.9L614.0 557.5L614.9 557.0L615.9 556.6L616.9 556.2L617.9 555.8L618.8 555.4L619.8 555.1L620.7 554.7L621.7 554.4L622.7 554.0L623.6 553.7L624.6 553.4L625.6 553.1L626.6 552.8L627.5 552.5L628.5 552.2L629.5 551.9L631.3 551.5L633.2 551.1L635.1 550.7L637.0 550.3L638.0 550.1L639.0 549.8L640.0 549.5L641.2 549.1L642.4 548.7L643.6 548.2L644.8 547.7L646.0 547.2L647.3 546.7L648.5 546.1L649.7 545.6L651.0 545.0L652.2 544.5L653.5 543.9L654.7 543.4L655.9 542.9L657.2 542.3L658.4 541.7L659.6 541.1L660.9 540.6L662.1 540.0L663.3 539.4L664.5 538.8L665.8 538.3L667.0 537.8L668.3 537.3L669.5 536.8L670.7 536.4L672.0 535.9L673.2 535.5L674.5 535.1L675.7 534.7L677.0 534.3L678.2 533.9L679.5 533.6L680.7 533.3L681.9 533.0L683.1 532.8L684.2 532.6L686.0 532.4L687.8 532.2L689.5 532.2L691.1 532.2L692.9 532.3L694.6 532.4L696.5 532.6L698.4 532.9L700.4 533.3L702.3 533.7L703.3 534.0L704.4 534.2L705.4 534.4L706.4 534.6L707.6 534.8L708.8 535.1L710.0 535.3L711.2 535.6L712.4 535.9L713.6 536.2L714.9 536.4L716.1 536.7L717.4 536.9L718.6 537.1L719.9 537.3L721.1 537.5L722.3 537.6L723.6 537.8L724.8 537.9L726.0 538.0L727.3 538.1L728.5 538.2L729.7 538.2L731.0 538.3L732.2 538.3L733.4 538.3L734.7 538.3L735.9 538.3L737.1 538.3L738.4 538.2L739.6 538.1L740.8 537.9L742.0 537.8L743.2 537.6L744.5 537.5L745.7 537.3L746.9 537.2L748.1 537.0L749.4 536.9L750.6 536.8L751.8 536.7L753.1 536.6L754.3 536.5L755.5 536.5L756.8 536.4L758.0 536.3L759.2 536.2L760.5 536.2L761.7 536.1L762.9 536.1L764.2 536.0L765.4 536.0L766.6 536.0L767.9 536.0L769.2 536.0L770.5 536.0L771.8 536.0L773.1 536.0L774.4 536.1L775.6 536.1L776.8 536.1L779.1 536.0L780.8 536.0L782.0 535.9L783.2 535.8L784.3 535.6L785.4 535.5L786.5 535.3L787.9 535.0L789.2 534.7L790.4 534.4L791.5 534.0L792.6 533.4L793.5 532.7L794.3 532.0L795.2 531.2L796.1 530.5L797.1 529.8L798.0 529.1L798.6 528.5L799.3 527.8L799.9 527.1L800.5 526.4L801.1 525.6L801.7 524.8L802.3 523.9L802.9 522.9L803.6 522.0L804.2 521.0L804.9 520.0L805.5 519.0L806.1 518.0L806.7 517.0L807.3 515.9L808.0 514.9L808.6 513.8L809.2 512.6L809.9 511.5L810.5 510.4L811.1 509.2L811.7 508.1L812.3 506.9L812.9 505.8L813.4 504.6L814.0 503.5L814.5 502.4L815.1 501.3L815.6 500.2L816.1 499.1L816.6 498.0L817.1 496.8L817.6 495.7L818.1 494.6L818.6 493.5L819.0 492.3L819.5 491.2L820.0 490.0L820.5 488.7L821.0 487.4L821.5 486.1L822.0 484.8L822.5 483.5L823.0 482.1L823.5 480.8L824.0 479.4L824.5 478.1L825.0 476.7L825.5 475.4L826.0 474.0L826.5 472.6L827.0 471.2L827.5 469.8L828.0 468.4L828.5 466.9L829.0 465.5L829.5 464.1L830.0 462.6L830.5 461.2L831.0 459.8L831.5 458.4L832.0 457.0L832.5 455.6L833.0 454.3L833.5 453.0L834.0 451.6L834.5 450.3L835.0 448.9L835.5 447.6L836.0 446.3L836.5 445.0L837.0 443.6L837.5 442.3L838.0 441.0L838.5 439.7L839.0 438.4L839.5 437.1L840.0 435.8L840.5 434.5L841.0 433.2L841.5 431.9L842.0 430.6L842.5 429.3L843.0 428.1L843.5 426.8L844.0 425.5L844.5 424.2L845.0 423.0L845.5 421.7L846.0 420.5L846.5 419.2L847.0 417.9L847.5 416.7L848.0 415.4L848.5 414.2L849.0 413.0L849.5 411.7L850.0 410.5L850.5 409.3L851.0 408.1L851.5 406.9L852.0 405.7L852.5 404.5L853.0 403.3L853.6 402.2L854.1 401.0L854.6 399.8L855.0 398.7L855.5 397.6L856.0 396.5L856.4 395.6L856.8 394.7L857.2 393.8L857.6 392.9L857.9 392.0L858.3 391.1L858.7 390.3L859.1 389.4L859.4 388.6L859.8 387.7L860.1 386.9L860.5 386.0L861.2 384.3L861.9 382.7L862.5 381.0L863.2 379.3L863.8 377.7L864.5 376.0L865.2 374.3L865.8 372.6L866.5 370.9L867.1 369.3L867.8 367.6L868.5 366.0L869.1 364.5L869.8 363.1L870.5 361.7L871.1 360.3L871.8 358.9L872.5 357.5L873.2 356.1L873.9 354.6L874.7 353.2L875.4 351.8L876.2 350.4L877.0 349.0L877.8 347.6L878.6 346.3L879.4 345.0L880.2 343.6L881.1 342.3L882.0 341.0L882.5 340.3L883.1 339.6L883.6 338.8L884.2 338.1L884.8 337.4L885.4 336.6L886.0 335.9L886.6 335.2L887.2 334.5L887.8 333.8L888.4 333.1L889.0 332.5L890.0 331.4L891.0 330.3L892.0 329.3L893.0 328.3L894.0 327.4L895.0 326.5L895.8 325.7L896.7 325.0L897.5 324.3L898.3 323.6L899.1 323.0L900.0 322.5L900.8 322.1L901.7 321.7L902.9 321.2L904.2 320.9L905.3 320.8L906.7 320.8L908.0 321.1L909.0 321.5L910.0 322.1L911.0 322.8L912.0 323.7L912.5 324.3L913.1 325.0L913.6 325.8L914.1 326.7L914.5 327.6L914.9 328.5L915.3 329.5L915.7 330.5L916.1 331.6L916.4 332.7L916.7 333.8L917.0 335.0L917.3 336.3L917.8 338.1L918.1 339.3L918.4 340.5L918.7 341.8L919.0 343.1L919.4 344.5L919.7 345.9L920.0 347.2L920.3 348.6L920.7 350.0L921.0 351.4L921.3 352.7L921.6 354.0L921.9 355.3L922.2 356.5L922.5 357.8L922.8 359.1L923.1 360.4L923.4 361.6L923.6 362.9L923.9 364.2L924.2 365.4L924.5 366.7L924.8 368.0L925.1 369.3L925.4 370.6L925.7 371.9L926.0 373.2L926.3 374.4L926.6 375.7L926.9 377.0L927.2 378.3L927.4 379.6L927.7 380.9L928.0 382.2L928.3 383.5L928.6 384.8L928.9 386.1L929.1 387.4L929.4 388.7L929.7 390.0L929.9 391.2L930.2 392.5L930.5 393.8L930.7 395.1L931.0 396.4L931.2 397.7L931.5 399.0L931.7 400.3L932.0 401.5L932.2 402.8L932.5 404.0L932.7 405.3L932.9 406.5L933.1 407.8L933.4 409.1L933.6 410.3L933.9 411.7L934.1 413.0L934.4 414.4L934.7 416.1L935.1 417.9L935.5 419.7L935.9 421.6L936.3 423.5L936.7 425.4L937.1 427.3L937.5 429.3L937.9 431.2L938.3 433.2L938.6 435.1L939.0 437.0L939.4 438.9L939.7 440.8L940.1 442.8L940.4 444.7L940.8 446.6L941.1 448.6L941.4 450.5L941.8 452.4L942.1 454.4L942.4 456.3L942.7 458.1L943.0 460.0L943.3 461.7L943.5 463.4L943.8 465.1L944.0 466.7L944.2 468.4L944.4 470.0L944.6 471.7L944.9 473.3L945.1 475.0L945.3 476.6L945.5 478.3L945.7 480.0L945.9 481.8L946.1 483.6L946.3 485.4L946.5 487.2L946.7 489.0L946.9 490.8L947.1 492.7L947.3 494.5L947.5 496.3L947.8 498.2L948.0 500.1L948.2 502.0L948.5 504.1L948.7 506.2L949.0 508.3L949.3 510.5L949.5 512.7L949.8 514.8L950.1 517.0L950.4 519.2L950.7 521.4L950.9 523.6L951.2 525.8L951.5 528.0L951.8 530.2L952.1 532.5L952.4 534.8L952.7 537.0L953.0 539.3L953.2 541.6L953.5 543.8L953.8 546.1L954.1 548.4L954.4 550.6L954.7 552.8L955.0 555.0L955.3 557.0L955.5 559.1L955.8 561.1L956.1 563.1L956.3 565.1L956.6 567.1L956.8 569.1L957.1 571.1L957.4 573.0L957.6 575.0L957.9 577.0L958.2 579.0L958.5 581.0L958.8 583.0L959.1 585.1L959.4 587.1L959.8 589.1L960.1 591.1L960.4 593.2L960.7 595.2L961.1 597.2L961.4 599.1L961.7 601.1L962.0 603.0L962.3 604.7L962.5 606.4L962.8 608.1L963.1 609.8L963.3 611.5L963.6 613.1L963.8 614.8L964.1 616.4L964.4 618.0L964.6 619.7L964.9 621.3L965.2 623.0L965.5 624.7L965.8 626.4L966.1 628.0L966.4 629.7L966.7 631.4L967.0 633.1L967.3 634.8L967.7 636.5L968.0 638.1L968.3 639.8L968.7 641.4L969.0 643.0L969.3 644.5L969.6 645.9L970.0 647.4L970.3 648.8L970.6 650.3L970.9 651.7L971.3 653.1L971.6 654.5L972.0 655.9L972.3 657.3L972.7 658.6L973.0 660.0L973.3 661.2L973.6 662.4L974.0 663.7L974.3 664.9L974.6 666.0L974.9 667.2L975.3 668.4L975.6 669.5L976.0 670.7L976.3 671.8L976.6 672.9L977.0 674.0L977.3 674.9L977.6 675.9L978.0 676.8L978.3 677.8L978.6 678.7L978.9 679.6L979.3 680.5L979.6 681.3L980.3 683.0L981.0 684.5L981.5 685.6L982.1 686.6L982.7 687.6L983.2 688.5L983.8 689.3L984.5 690.0L985.3 690.7L986.2 691.3L987.1 691.7L988.3 691.8L989.5 691.4L990.4 690.9L991.2 690.2L992.2 689.3L992.8 688.4L993.4 687.4L993.9 686.3L994.5 685.2L995.0 684.0L995.7 682.4L996.4 680.7L996.7 679.9L997.0 679.0L997.3 678.0L997.7 677.1L998.0 676.1L998.3 675.1L998.7 674.1L999.0 673.0L999.5 671.4L1000.0 669.8L1000.5 668.1L1001.0 666.3L1001.5 664.5L1002.0 662.6L1002.5 660.7L1003.0 658.7L1003.5 656.8L1004.0 654.8L1004.5 652.9L1005.0 651.0L1005.5 649.0L1006.0 646.9L1006.6 644.8L1007.1 642.8L1007.6 640.7L1008.1 638.5L1008.6 636.4L1009.1 634.3L1009.6 632.2L1010.1 630.1L1010.5 628.1L1011.0 626.0L1011.4 624.1L1011.9 622.1L1012.3 620.2L1012.7 618.3L1013.1 616.4L1013.5 614.4L1013.9 612.5L1014.3 610.6L1014.7 608.7L1015.0 606.8L1015.4 604.9L1015.8 603.0L1016.2 601.1L1016.5 599.1L1016.9 597.2L1017.3 595.2L1017.6 593.3L1018.0 591.3L1018.3 589.4L1018.6 587.5L1019.0 585.6L1019.3 583.7L1019.7 581.8L1020.0 580.0L1020.3 578.4L1020.6 576.8L1020.9 575.3L1021.2 573.7L1021.5 572.2L1021.7 570.7L1022.0 569.2L1022.3 567.7L1022.6 566.3L1022.9 564.8L1023.2 563.4L1023.5 562.0L1023.8 560.8L1024.0 559.6L1024.3 558.4L1024.6 557.2L1024.8 556.1L1025.1 554.9L1025.4 553.8L1025.6 552.6L1025.9 551.5L1026.2 550.3L1026.5 549.2L1026.8 548.0L1027.1 546.7L1027.4 545.4L1027.8 544.1L1028.1 542.8L1028.5 541.5L1028.8 540.2L1029.2 538.9L1029.5 537.6L1029.9 536.3L1030.3 535.0L1030.6 533.7L1031.0 532.5L1031.4 531.4L1031.7 530.2L1032.1 529.1L1032.4 528.0L1032.8 526.9L1033.2 525.8L1033.6 524.7L1033.9 523.6L1034.3 522.5L1034.7 521.5L1035.1 520.5L1035.5 519.5L1036.2 517.9L1036.9 516.3L1037.6 514.8L1038.3 513.3L1039.1 511.9L1039.8 510.5L1040.4 509.4L1041.0 508.3L1041.6 507.3L1042.3 506.3L1042.9 505.4L1043.5 504.5L1044.2 503.5L1044.9 502.6L1045.7 501.8L1046.5 501.2L1047.4 500.7L1048.3 500.4L1049.6 500.2L1051.2 500.3L1052.1 500.6L1053.1 501.1L1054.0 501.5L1055.0 502.0L1056.0 502.5L1057.1 503.0L1058.3 503.6L1059.4 504.2L1060.6 504.8L1061.8 505.5L1063.0 506.1L1064.3 506.8L1065.6 507.6L1066.9 508.4L1068.3 509.2L1069.6 509.9L1071.0 510.6L1072.4 511.2L1073.8 511.8L1075.3 512.4L1076.7 512.8L1078.2 513.2L1079.6 513.3L1081.0 513.2L1082.4 513.0L1083.8 512.6L1085.2 512.1L1086.6 511.6L1088.0 511.0L1089.7 510.2L1090.5 509.8L1091.3 509.3L1092.1 508.8L1093.0 508.3L1093.8 507.8L1094.7 507.3L1095.5 506.7L1096.4 506.2L1097.2 505.6L1098.1 505.1L1099.1 504.5L1100.0 503.9L1101.0 503.2L1102.0 502.6L1102.9 501.9L1103.9 501.2L1104.9 500.6L1105.9 499.9L1106.9 499.3L1107.9 498.7L1109.0 498.1L1110.0 497.6L1111.0 497.1L1112.1 496.6L1113.2 496.1L1114.3 495.7L1115.4 495.2L1116.5 494.8L1117.6 494.4L1118.7 494.1L1119.7 493.8L1120.8 493.5L1121.9 493.4L1123.8 493.3L1125.5 493.5L1127.2 493.8L1128.8 494.3L1130.5 494.9L1132.2 495.5L1133.9 496.1L1134.8 496.4L1135.7 496.8L1136.5 497.1L1137.4 497.5L1138.3 497.9L1139.2 498.3L1140.1 498.7L1141.0 499.1L1141.8 499.4L1142.7 499.8L1143.6 500.2L1144.5 500.6L1145.3 501.0L1146.2 501.3L1147.1 501.7L1147.9 502.1L1148.8 502.5L1149.7 502.9L1150.5 503.3L1151.4 503.6L1152.3 504.0L1154.0 504.6L1155.7 505.1L1157.4 505.7L1159.1 506.1L1160.8 506.5L1162.5 506.8L1164.2 507.0L1166.0 507.0L1167.8 506.9L1169.6 506.7L1171.4 506.5L1173.2 506.1L1175.0 505.8L1176.7 505.4L1178.3 505.0L1180.0 504.5L1181.6 503.9L1183.3 503.4L1184.9 502.9L1186.6 502.4L1188.2 501.9L1189.9 501.3L1191.6 500.8L1193.3 500.3L1195.0 499.9L1196.7 499.5L1198.5 499.1L1200.2 498.8L1202.0 498.5L1203.7 498.3L1205.5 498.2L1207.2 498.2L1209.0 498.3L1210.8 498.5L1212.5 498.7L1214.3 499.0L1216.0 499.2L1217.7 499.4L1219.4 499.7L1221.1 500.0L1222.8 500.3L1224.5 500.7L1226.2 501.0L1228.0 501.4L1229.8 501.8L1231.5 502.2L1233.3 502.6L1235.2 503.0L1237.0 503.4L1238.9 503.7L1240.9 504.1L1242.8 504.4L1244.8 504.7L1246.8 504.9L1248.9 505.0L1251.2 505.0L1252.3 504.9L1253.5 504.8L1254.7 504.7L1255.9 504.6L1257.0 504.5L1258.2 504.4L1259.4 504.2L1260.6 504.1L1261.8 503.9L1263.0 503.8L1264.2 503.7L1265.5 503.5L1266.7 503.4L1267.9 503.2L1269.2 503.1L1270.4 502.9L1271.7 502.7L1272.9 502.6L1274.2 502.4L1275.4 502.3L1276.6 502.1L1277.8 502.0L1278.9 501.9L1280.0 501.8L1281.1 501.7L1282.2 501.5L1284.4 501.3L1286.6 501.1L1288.8 501.0L1291.0 500.8L1292.2 500.7L1293.3 500.7L1294.5 500.6L1295.6 500.6L1296.8 500.5L1298.0 500.5L1299.1 500.4L1300.3 500.4L1301.5 500.3L1302.7 500.3L1303.8 500.2L1305.0 500.2" stroke="#6cc49f" stroke-width="1.3"/><path d="M150.5 502.4L152.1 502.2L153.7 501.9L155.3 501.7L156.9 501.4L158.4 501.2L160.0 501.0L161.4 500.8L162.9 500.6L164.2 500.3L165.7 500.1L167.1 500.0L168.6 499.9L170.4 499.9L172.3 500.0L174.2 500.1L176.1 500.3L178.1 500.5L180.0 500.7L182.0 500.9L184.0 501.1L186.1 501.3L188.1 501.5L190.1 501.7L192.2 501.9L194.3 502.0L196.5 502.1L198.6 502.2L200.8 502.2L202.9 502.3L205.0 502.3L206.8 502.3L208.6 502.3L210.4 502.3L212.2 502.2L214.0 502.2L215.8 502.1L217.8 502.0L219.8 501.8L221.9 501.7L223.9 501.5L226.0 501.2L228.0 501.0L229.9 500.7L231.8 500.5L233.8 500.2L235.7 499.9L237.5 499.5L239.4 499.2L241.2 498.9L243.0 498.5L244.9 498.2L246.6 497.8L248.4 497.4L250.0 497.0L251.3 496.6L252.5 496.3L253.7 495.9L254.9 495.5L256.0 495.1L257.1 494.7L258.1 494.2L259.1 493.7L260.1 493.2L261.1 492.7L262.1 492.2L263.0 491.7L263.9 491.2L264.7 490.7L265.6 490.2L266.4 489.7L267.2 489.2L268.0 488.7L269.1 487.9L270.1 487.2L271.0 486.4L271.7 485.8L272.3 485.2L273.0 484.5L273.7 483.8L274.4 483.1L275.1 482.3L275.7 481.5L276.3 480.7L276.9 479.9L277.5 479.0L278.1 478.1L278.6 477.2L279.2 476.1L279.9 474.7L280.4 473.8L280.8 472.9L281.3 471.9L281.8 470.9L282.2 469.8L282.7 468.7L283.2 467.6L283.6 466.5L284.1 465.4L284.6 464.3L285.0 463.2L285.5 462.0L285.9 460.8L286.4 459.6L286.9 458.4L287.3 457.1L287.8 455.8L288.2 454.6L288.7 453.3L289.1 452.0L289.5 450.8L290.0 449.5L290.4 448.2L290.8 446.9L291.3 445.6L291.7 444.2L292.2 442.9L292.6 441.6L293.0 440.2L293.4 438.9L293.9 437.5L294.3 436.2L294.7 434.8L295.1 433.4L295.5 432.1L295.9 430.7L296.3 429.2L296.7 427.8L297.1 426.4L297.4 424.9L297.8 423.5L298.2 422.1L298.5 420.6L298.9 419.2L299.3 417.8L299.6 416.3L300.0 414.9L300.4 413.5L300.8 412.1L301.1 410.7L301.5 409.3L301.9 407.9L302.3 406.5L302.6 405.1L303.0 403.7L303.4 402.3L303.8 400.9L304.1 399.6L304.5 398.2L304.8 397.0L305.2 395.8L305.5 394.6L305.8 393.4L306.1 392.3L306.4 391.1L306.8 389.9L307.1 388.8L307.4 387.6L307.7 386.4L308.0 385.3L308.3 384.1L308.6 382.9L308.9 381.7L309.2 380.5L309.5 379.4L309.8 378.2L310.1 377.0L310.4 375.8L310.7 374.6L310.9 373.5L311.2 372.3L311.5 371.1L311.8 369.9L312.1 368.7L312.4 367.6L312.7 366.4L312.9 365.2L313.2 364.0L313.5 362.8L313.8 361.7L314.1 360.5L314.4 359.3L314.6 358.1L314.9 356.9L315.2 355.8L315.5 354.6L315.8 353.4L316.0 352.2L316.3 351.0L316.6 349.8L316.9 348.7L317.2 347.5L317.5 346.3L317.7 345.1L318.0 343.9L318.3 342.8L318.6 341.6L318.9 340.4L319.2 339.3L319.4 338.1L319.7 337.0L320.0 335.8L320.3 334.7L320.5 333.5L320.8 332.4L321.1 331.3L321.4 330.1L321.7 329.0L322.0 327.9L322.3 326.9L322.6 325.8L322.9 324.8L323.2 323.8L323.6 322.7L323.9 321.7L324.2 320.7L324.6 319.7L324.9 318.7L325.2 317.7L325.6 316.7L325.9 315.8L326.5 314.0L327.1 312.3L327.8 310.5L328.4 308.9L329.0 307.2L329.7 305.6L330.3 304.2L330.9 302.8L331.5 301.4L332.2 300.0L332.8 298.7L333.5 297.5L334.1 296.5L334.8 295.5L335.4 294.5L336.1 293.6L336.8 292.8L337.5 291.9L338.1 291.2L338.8 290.4L339.4 289.6L340.1 289.0L341.1 288.3L342.2 288.1L343.4 288.4L344.6 288.9L345.3 289.4L346.0 289.9L346.8 290.6L347.5 291.5L348.2 292.4L348.8 293.4L349.4 294.5L350.0 295.5L350.6 296.7L351.1 297.8L351.6 299.0L352.1 300.2L352.5 301.4L353.0 302.7L353.5 304.2L354.1 305.8L354.6 307.5L355.0 309.2L355.5 311.0L356.0 312.9L356.3 314.2L356.6 315.6L356.9 317.0L357.2 318.5L357.5 320.0L357.8 321.5L358.1 323.1L358.4 324.6L358.7 326.2L359.0 327.7L359.2 329.2L359.5 330.6L359.7 332.0L360.0 333.3L360.2 334.6L360.4 335.9L360.6 337.2L360.8 338.5L361.0 339.8L361.2 341.1L361.4 342.4L361.6 343.7L361.8 345.0L362.0 346.3L362.2 347.8L362.4 349.2L362.7 350.6L362.9 352.0L363.1 353.4L363.4 354.9L363.6 356.3L363.8 357.8L364.0 359.2L364.3 360.7L364.5 362.1L364.7 363.6L364.9 365.0L365.1 366.5L365.4 368.0L365.6 369.5L365.8 371.0L366.0 372.5L366.2 373.9L366.4 375.4L366.7 376.9L366.9 378.4L367.1 379.9L367.3 381.5L367.5 383.0L367.7 384.5L367.9 386.0L368.2 387.5L368.4 389.1L368.6 390.6L368.8 392.1L369.0 393.7L369.2 395.3L369.4 397.0L369.7 398.7L369.9 400.4L370.2 402.9L370.5 405.4L370.9 408.0L371.2 410.7L371.5 413.5L371.9 416.3L372.2 419.2L372.5 422.0L372.9 424.9L373.2 427.8L373.6 430.7L373.9 433.5L374.2 436.4L374.6 439.4L374.9 442.4L375.3 445.4L375.6 448.4L376.0 451.4L376.3 454.5L376.7 457.4L377.0 460.4L377.4 463.3L377.7 466.1L378.0 468.9L378.3 471.2L378.5 473.4L378.8 475.6L379.0 477.8L379.3 479.9L379.5 482.1L379.8 484.2L380.0 486.3L380.3 488.4L380.5 490.5L380.8 492.7L381.0 494.8L381.2 497.0L381.5 499.1L381.7 501.3L382.0 503.4L382.2 505.4L382.5 507.5L382.7 509.6L383.0 511.7L383.2 513.9L383.5 516.0L383.7 518.2L384.0 520.4L384.3 523.1L384.6 525.8L385.0 528.6L385.3 531.4L385.6 534.2L386.0 537.1L386.3 540.0L386.6 543.0L387.0 545.9L387.3 548.8L387.7 551.8L388.0 554.7L388.4 557.9L388.7 561.0L389.1 564.1L389.4 567.3L389.8 570.5L390.2 573.7L390.6 576.9L390.9 580.1L391.3 583.3L391.7 586.6L392.0 589.8L392.4 593.0L392.8 596.3L393.2 599.6L393.5 602.9L393.9 606.3L394.3 609.6L394.7 612.9L395.1 616.3L395.5 619.6L395.8 623.0L396.2 626.3L396.6 629.7L397.0 633.0L397.4 636.4L397.8 639.8L398.2 643.4L398.6 646.9L399.0 650.5L399.4 654.0L399.8 657.4L400.2 660.8L400.6 664.1L401.0 667.2L401.4 670.2L401.7 673.0L401.9 674.7L402.1 676.4L402.3 678.0L402.5 679.6L402.7 681.0L402.9 682.5L403.1 683.9L403.3 685.3L403.4 686.7L403.6 688.1L403.8 689.5L404.0 690.9L404.2 692.1L404.3 693.3L404.5 694.5L404.7 695.7L404.8 696.9L405.0 698.0L405.2 699.2L405.3 700.3L405.5 701.5L405.7 702.6L405.8 703.7L406.0 704.9L406.2 705.9L406.5 708.0L406.8 710.0L407.2 712.0L407.5 714.0L407.8 716.0L408.2 717.8L408.5 719.6L408.8 721.4L409.1 723.1L409.5 724.9L409.8 726.6L410.2 728.6L410.4 729.7L410.7 730.8L410.9 731.9L411.2 733.0L411.4 734.1L411.7 735.2L412.0 736.3L412.2 737.4L412.5 738.5L412.7 739.6L413.0 740.6L413.2 741.6L413.7 743.5L414.2 745.3L414.7 747.2L415.2 749.0L415.7 750.8L416.2 752.5L416.7 754.2L417.2 755.8L417.7 757.4L418.2 759.0L418.7 760.6L419.2 762.1L419.7 763.6L420.2 765.0L420.7 766.4L421.2 767.8L421.7 769.3L422.4 771.0L422.7 772.0L423.1 773.0L423.5 774.0L423.9 775.0L424.3 776.0L424.8 777.1L425.2 778.1L425.6 779.1L426.1 780.1L426.5 781.1L427.0 782.1L427.5 783.1L427.9 784.1L428.4 785.1L428.9 786.2L429.4 787.2L429.9 788.2L430.4 789.2L430.9 790.1L431.5 791.1L432.0 792.0L432.5 792.9L433.0 793.7L433.8 795.1L434.6 796.3L435.4 797.6L436.2 798.7L437.1 799.8L438.0 800.8L438.8 801.6L439.6 802.4L440.5 803.1L441.4 803.7L442.3 804.2L443.2 804.6L444.6 804.7L446.0 804.6L447.5 804.3L448.5 804.0L449.6 803.7L450.8 803.3L452.0 802.8L453.1 802.2L454.3 801.5L455.5 800.9L456.5 800.1L457.6 799.3L458.6 798.4L459.6 797.5L460.5 796.6L461.5 795.6L462.5 794.7L463.4 793.8L464.4 792.9L465.3 792.0L466.3 791.0L467.3 790.0L468.5 788.6L469.2 787.7L470.0 786.8L470.8 785.9L471.5 784.9L472.3 783.9L473.1 782.9L473.9 781.9L474.7 780.9L475.5 779.8L476.2 778.8L477.0 777.8L477.8 776.7L478.6 775.7L479.4 774.6L480.1 773.6L480.9 772.5L481.7 771.4L482.5 770.4L483.2 769.3L484.0 768.2L484.8 767.0L485.5 765.9L486.3 764.8L487.1 763.5L487.9 762.2L488.7 760.9L489.5 759.6L490.4 758.3L491.2 756.9L492.0 755.6L492.8 754.2L493.6 752.9L494.4 751.5L495.2 750.2L496.0 748.8L496.8 747.4L497.7 746.1L498.5 744.7L499.4 743.3L500.3 741.9L501.1 740.6L502.0 739.2L502.8 737.8L503.7 736.3L504.6 734.9L505.4 733.4L506.3 731.9L507.3 730.2L508.3 728.4L509.3 726.6L510.2 724.8L511.2 723.0L512.2 721.1L513.2 719.2L514.2 717.4L515.2 715.5L516.2 713.6L517.2 711.7L518.2 709.9L519.2 708.0L520.2 706.2L521.2 704.3L522.2 702.5L523.2 700.6L524.2 698.8L525.3 696.9L526.3 695.0L527.3 693.2L528.2 691.3L529.2 689.4L530.2 687.6L531.2 685.7L532.1 683.8L533.1 682.0L534.0 680.1L535.0 678.2L535.9 676.4L536.8 674.5L537.8 672.6L538.7 670.8L539.6 668.9L540.5 667.0L541.4 665.2L542.3 663.3L543.1 661.5L544.0 659.7L544.8 657.9L545.6 656.1L546.5 654.3L547.3 652.5L548.1 650.7L548.9 648.9L549.8 647.1L550.6 645.3L551.4 643.5L552.2 641.8L553.0 640.1L553.8 638.4L554.6 636.7L555.4 635.0L556.2 633.3L557.0 631.6L557.8 629.9L558.6 628.3L559.4 626.6L560.2 624.9L561.0 623.2L561.8 621.6L562.6 620.0L563.3 618.4L564.1 616.8L564.9 615.2L565.6 613.6L566.4 612.0L567.2 610.4L568.0 608.8L568.8 607.2L569.7 605.5L570.5 603.9L571.4 602.2L572.3 600.4L573.2 598.6L574.2 596.8L575.1 595.1L576.1 593.3L577.1 591.5L578.0 589.7L579.0 588.0L580.0 586.3L581.1 584.7L582.1 583.1L583.0 581.8L583.9 580.5L584.9 579.2L585.8 578.0L586.8 576.7L587.7 575.5L588.7 574.4L589.7 573.2L590.7 572.1L591.7 571.0L592.7 570.0L593.7 568.9L594.6 568.1L595.6 567.2L596.5 566.4L597.4 565.6L598.4 564.8L599.4 564.0L600.3 563.3L601.3 562.6L602.3 561.9L603.3 561.2L604.3 560.6L605.3 560.0L606.2 559.4L607.2 558.9L608.1 558.3L609.1 557.8L610.1 557.4L611.0 556.9L612.0 556.4L613.0 556.0L614.0 555.6L614.9 555.2L615.9 554.8L616.9 554.4L617.9 554.0L618.8 553.6L619.8 553.3L620.7 552.9L621.7 552.6L622.7 552.3L623.6 551.9L624.6 551.6L625.6 551.3L626.6 551.1L627.5 550.8L628.5 550.5L629.5 550.2L631.3 549.8L633.2 549.4L635.1 549.1L637.0 548.7L638.0 548.4L639.0 548.2L640.0 547.9L641.2 547.5L642.4 547.1L643.6 546.6L644.8 546.2L646.0 545.7L647.3 545.2L648.5 544.6L649.7 544.1L651.0 543.6L652.2 543.0L653.5 542.5L654.7 542.0L655.9 541.5L657.2 540.9L658.4 540.4L659.6 539.8L660.9 539.3L662.1 538.7L663.3 538.1L664.5 537.6L665.8 537.1L667.0 536.6L668.3 536.1L669.5 535.6L670.7 535.2L672.0 534.8L673.2 534.4L674.5 534.0L675.7 533.6L677.0 533.2L678.2 532.8L679.5 532.5L680.7 532.2L681.9 532.0L683.1 531.7L684.2 531.6L686.0 531.3L687.8 531.2L689.5 531.2L691.1 531.2L692.9 531.2L694.6 531.4L696.5 531.6L698.4 531.9L700.4 532.3L702.3 532.7L703.3 532.9L704.4 533.1L705.4 533.3L706.4 533.5L707.6 533.7L708.8 534.0L710.0 534.2L711.2 534.5L712.4 534.7L713.6 535.0L714.9 535.3L716.1 535.5L717.4 535.7L718.6 535.9L719.9 536.1L721.1 536.3L722.3 536.4L723.6 536.6L724.8 536.7L726.0 536.8L727.3 536.9L728.5 536.9L729.7 537.0L731.0 537.1L732.2 537.1L733.4 537.1L734.7 537.1L735.9 537.1L737.1 537.0L738.4 536.9L739.6 536.8L740.8 536.7L742.0 536.6L743.2 536.4L744.5 536.3L745.7 536.1L746.9 536.0L748.1 535.8L749.4 535.7L750.6 535.6L751.8 535.5L753.1 535.4L754.3 535.4L755.5 535.3L756.8 535.2L758.0 535.1L759.2 535.1L760.5 535.0L761.7 535.0L762.9 534.9L764.2 534.9L765.4 534.8L766.6 534.8L767.9 534.8L769.2 534.8L770.5 534.8L771.8 534.9L773.1 534.9L774.4 534.9L775.6 534.9L776.8 534.9L779.1 534.9L780.8 534.8L782.0 534.7L783.2 534.6L784.3 534.5L785.4 534.3L786.5 534.2L787.9 533.9L789.2 533.6L790.4 533.3L791.5 532.9L792.6 532.4L793.5 531.7L794.3 531.0L795.2 530.3L796.1 529.5L797.1 528.9L798.0 528.2L798.6 527.6L799.3 526.9L800.5 525.6L801.1 524.8L801.7 524.0L802.3 523.1L802.9 522.2L803.6 521.3L804.2 520.3L804.9 519.4L805.5 518.4L806.1 517.4L806.7 516.5L807.3 515.5L808.0 514.4L808.6 513.4L809.2 512.3L809.9 511.2L810.5 510.1L811.1 509.0L811.7 507.9L812.3 506.8L812.9 505.7L813.4 504.6L814.0 503.5L814.5 502.4L815.1 501.3L815.6 500.2L816.1 499.2L816.6 498.1L817.1 497.0L817.6 495.9L818.1 494.9L818.6 493.8L819.0 492.7L819.5 491.5L820.0 490.4L820.5 489.2L821.0 487.9L821.5 486.7L822.0 485.4L822.5 484.1L823.0 482.8L823.5 481.5L824.0 480.2L824.5 478.9L825.0 477.6L825.5 476.2L826.0 474.9L826.5 473.5L827.0 472.1L827.5 470.7L828.0 469.2L828.5 467.8L829.0 466.4L829.5 465.0L830.0 463.6L830.5 462.2L831.0 460.8L831.5 459.4L832.0 458.1L832.5 456.7L833.0 455.4L833.5 454.1L834.0 452.8L834.5 451.5L835.0 450.2L835.5 448.9L836.0 447.6L836.5 446.3L837.0 445.0L837.5 443.7L838.0 442.4L838.5 441.2L839.0 439.9L839.5 438.6L840.0 437.4L840.5 436.1L841.0 434.9L841.5 433.6L842.0 432.3L842.5 431.1L843.0 429.8L843.5 428.6L844.0 427.3L844.5 426.1L845.0 424.9L845.5 423.6L846.0 422.4L846.5 421.2L847.0 420.0L847.5 418.7L848.0 417.5L848.5 416.3L849.0 415.1L849.5 413.9L850.0 412.7L850.5 411.5L851.0 410.4L851.5 409.2L852.0 408.1L852.5 406.9L853.0 405.7L853.6 404.6L854.1 403.5L854.6 402.3L855.0 401.2L855.5 400.1L856.0 399.1L856.4 398.2L856.8 397.3L857.2 396.4L857.6 395.5L857.9 394.7L858.3 393.8L858.7 393.0L859.1 392.2L859.8 390.5L860.5 388.8L861.2 387.2L861.9 385.6L862.5 384.0L863.2 382.3L863.8 380.7L864.5 379.1L865.2 377.5L865.8 375.8L866.5 374.2L867.1 372.5L867.8 370.9L868.5 369.4L869.1 367.9L869.8 366.5L870.5 365.2L871.1 363.8L871.8 362.4L872.5 361.1L873.2 359.7L873.9 358.3L874.7 356.9L875.4 355.5L876.2 354.1L877.0 352.8L877.8 351.5L878.6 350.2L879.4 348.9L880.2 347.6L881.1 346.3L882.0 345.0L882.5 344.3L883.1 343.6L883.6 342.9L884.2 342.2L884.8 341.5L885.4 340.8L886.0 340.0L886.6 339.4L887.2 338.7L887.8 338.0L888.4 337.4L889.0 336.7L890.0 335.7L891.0 334.6L892.0 333.6L893.0 332.7L894.0 331.8L895.0 330.9L895.8 330.1L896.7 329.4L897.5 328.7L898.3 328.1L899.1 327.5L900.0 327.0L900.8 326.6L901.7 326.2L902.9 325.7L904.2 325.4L905.3 325.3L906.7 325.3L908.0 325.6L909.0 325.9L910.0 326.4L911.0 327.1L912.0 327.9L912.8 328.8L913.4 329.5L913.8 330.3L914.3 331.2L914.7 332.1L915.1 333.0L915.5 333.9L915.9 335.0L916.2 336.0L916.5 337.1L916.8 338.2L917.2 339.4L917.5 340.7L917.8 341.7L918.1 342.8L918.4 344.0L918.7 345.3L919.0 346.5L919.4 347.9L919.7 349.2L920.0 350.5L920.3 351.9L920.7 353.2L921.0 354.5L921.3 355.8L921.6 357.0L921.9 358.3L922.2 359.5L922.5 360.7L922.8 362.0L923.1 363.2L923.4 364.4L923.6 365.6L923.9 366.9L924.2 368.1L924.5 369.3L924.8 370.6L925.1 371.8L925.4 373.1L925.7 374.3L926.0 375.6L926.3 376.8L926.6 378.1L926.9 379.3L927.2 380.6L927.4 381.8L927.7 383.1L928.0 384.3L928.3 385.6L928.6 386.8L928.9 388.1L929.1 389.3L929.4 390.6L929.7 391.8L929.9 393.1L930.2 394.4L930.5 395.6L930.7 396.9L931.0 398.1L931.2 399.4L931.5 400.6L931.7 401.9L932.0 403.1L932.2 404.3L932.5 405.5L932.7 406.8L932.9 408.0L933.1 409.2L933.4 410.4L933.6 411.7L933.9 413.0L934.1 414.3L934.4 415.7L934.7 417.4L935.1 419.1L935.5 420.9L935.9 422.7L936.3 424.6L936.7 426.4L937.1 428.3L937.5 430.2L937.9 432.1L938.3 434.0L938.6 435.9L939.0 437.8L939.4 439.7L939.7 441.6L940.1 443.5L940.4 445.4L940.8 447.3L941.1 449.2L941.4 451.1L941.8 453.0L942.1 454.9L942.4 456.7L942.7 458.6L943.0 460.4L943.3 462.1L943.5 463.8L943.8 465.4L944.0 467.1L944.2 468.7L944.4 470.3L944.6 472.0L944.9 473.6L945.1 475.2L945.3 476.9L945.5 478.5L945.7 480.2L945.9 481.9L946.1 483.7L946.3 485.5L946.5 487.2L946.7 489.0L946.9 490.8L947.1 492.6L947.3 494.5L947.5 496.3L947.8 498.2L948.0 500.1L948.2 502.0L948.5 504.1L948.7 506.3L949.0 508.5L949.3 510.7L949.5 512.9L949.8 515.2L950.1 517.5L950.4 519.8L950.7 522.1L950.9 524.4L951.2 526.7L951.5 528.9L951.8 531.3L952.1 533.6L952.4 535.9L952.7 538.3L953.0 540.7L953.2 543.0L953.5 545.4L953.8 547.7L954.1 550.1L954.4 552.4L954.7 554.7L955.0 557.0L955.3 559.1L955.5 561.2L955.8 563.3L956.1 565.4L956.3 567.5L956.6 569.5L956.8 571.6L957.1 573.7L957.4 575.7L957.6 577.8L957.9 579.9L958.2 581.9L958.5 584.0L958.8 586.1L959.1 588.2L959.4 590.4L959.8 592.5L960.1 594.6L960.4 596.7L960.7 598.8L961.1 600.9L961.4 602.9L961.7 605.0L962.0 607.0L962.3 608.8L962.5 610.6L962.8 612.3L963.1 614.1L963.3 615.8L963.6 617.5L963.8 619.2L964.1 621.0L964.4 622.7L964.6 624.4L964.9 626.1L965.2 627.9L965.5 629.6L965.8 631.4L966.1 633.1L966.4 634.9L966.7 636.7L967.0 638.4L967.3 640.2L967.7 641.9L968.0 643.7L968.3 645.4L968.7 647.1L969.0 648.8L969.3 650.3L969.6 651.9L970.0 653.4L970.3 654.9L970.6 656.4L970.9 657.9L971.3 659.4L971.6 660.8L972.0 662.3L972.3 663.7L972.7 665.2L973.0 666.6L973.3 667.9L973.6 669.2L974.0 670.4L974.3 671.7L974.6 672.9L974.9 674.2L975.3 675.4L975.6 676.6L976.0 677.8L976.3 679.0L976.6 680.1L977.0 681.3L977.3 682.3L977.6 683.3L978.0 684.2L978.3 685.2L978.6 686.2L978.9 687.1L979.3 688.1L979.6 689.0L979.9 689.9L980.6 691.5L981.3 692.9L981.8 694.0L982.4 695.1L982.9 696.0L983.5 696.9L984.2 697.7L985.0 698.6L985.9 699.2L986.8 699.7L988.0 700.0L989.2 699.7L990.1 699.2L991.0 698.6L991.8 697.7L992.5 696.8L993.1 695.9L993.6 694.8L994.2 693.6L994.7 692.4L995.4 690.9L996.0 689.2L996.4 688.3L996.7 687.4L997.0 686.5L997.3 685.5L997.7 684.5L998.0 683.5L998.3 682.4L998.7 681.3L999.0 680.2L999.5 678.6L1000.0 676.9L1000.5 675.1L1001.0 673.2L1001.5 671.3L1002.0 669.3L1002.5 667.3L1003.0 665.2L1003.5 663.2L1004.0 661.2L1004.5 659.1L1005.0 657.1L1005.5 655.0L1006.0 652.9L1006.6 650.7L1007.1 648.5L1007.6 646.3L1008.1 644.1L1008.6 641.9L1009.1 639.7L1009.6 637.5L1010.1 635.3L1010.5 633.1L1011.0 630.9L1011.4 628.9L1011.9 626.9L1012.3 624.9L1012.7 622.8L1013.1 620.8L1013.5 618.8L1013.9 616.9L1014.3 614.9L1014.7 612.9L1015.0 610.9L1015.4 608.9L1015.8 606.9L1016.2 604.9L1016.5 602.8L1016.9 600.8L1017.3 598.8L1017.6 596.7L1018.0 594.7L1018.3 592.7L1018.6 590.7L1019.0 588.7L1019.3 586.7L1019.7 584.8L1020.0 582.9L1020.3 581.2L1020.6 579.6L1020.9 578.0L1021.2 576.4L1021.5 574.8L1021.7 573.2L1022.0 571.7L1022.3 570.1L1022.6 568.6L1022.9 567.1L1023.2 565.6L1023.5 564.2L1023.8 562.9L1024.0 561.6L1024.3 560.4L1024.6 559.2L1024.8 558.0L1025.1 556.8L1025.4 555.6L1025.6 554.4L1025.9 553.2L1026.2 552.0L1026.5 550.8L1026.8 549.6L1027.1 548.3L1027.4 546.9L1027.8 545.6L1028.1 544.2L1028.5 542.9L1028.8 541.5L1029.2 540.1L1029.5 538.8L1029.9 537.4L1030.3 536.1L1030.6 534.8L1031.0 533.5L1031.4 532.3L1031.7 531.2L1032.1 530.0L1032.4 528.8L1032.8 527.7L1033.2 526.5L1033.6 525.4L1033.9 524.3L1034.3 523.2L1034.7 522.1L1035.1 521.1L1035.5 520.0L1036.2 518.4L1036.9 516.7L1037.6 515.1L1038.3 513.6L1039.1 512.2L1039.8 510.7L1040.4 509.6L1041.0 508.5L1041.6 507.4L1042.3 506.4L1042.9 505.5L1043.5 504.6L1044.2 503.6L1044.9 502.6L1045.7 501.8L1046.5 501.2L1047.4 500.7L1048.3 500.4L1049.6 500.2L1051.2 500.3L1052.1 500.6L1053.1 501.1L1054.0 501.5L1055.0 502.0L1056.0 502.5L1057.1 503.0L1058.3 503.6L1059.4 504.2L1060.6 504.8L1061.8 505.5L1063.0 506.1L1064.3 506.8L1065.6 507.6L1066.9 508.4L1068.3 509.2L1069.6 509.9L1071.0 510.6L1072.4 511.2L1073.8 511.8L1075.3 512.4L1076.7 512.8L1078.2 513.2L1079.6 513.3L1081.0 513.2L1082.4 513.0L1083.8 512.6L1085.2 512.1L1086.6 511.6L1088.0 511.0L1089.7 510.2L1090.5 509.8L1091.3 509.3L1092.1 508.8L1093.0 508.3L1093.8 507.8L1094.7 507.3L1095.5 506.7L1096.4 506.2L1097.2 505.6L1098.1 505.1L1099.1 504.5L1100.0 503.9L1101.0 503.2L1102.0 502.6L1102.9 501.9L1103.9 501.2L1104.9 500.6L1105.9 499.9L1106.9 499.3L1107.9 498.7L1109.0 498.1L1110.0 497.6L1111.0 497.1L1112.1 496.6L1113.2 496.1L1114.3 495.7L1115.4 495.2L1116.5 494.8L1117.6 494.4L1118.7 494.1L1119.7 493.8L1120.8 493.5L1121.9 493.4L1123.8 493.3L1125.5 493.5L1127.2 493.8L1128.8 494.3L1130.5 494.9L1132.2 495.5L1133.9 496.1L1134.8 496.4L1135.7 496.8L1136.5 497.1L1137.4 497.5L1138.3 497.9L1139.2 498.3L1140.1 498.7L1141.0 499.1L1141.8 499.4L1142.7 499.8L1143.6 500.2L1144.5 500.6L1145.3 501.0L1146.2 501.3L1147.1 501.7L1147.9 502.1L1148.8 502.5L1149.7 502.9L1150.5 503.3L1151.4 503.6L1152.3 504.0L1154.0 504.6L1155.7 505.1L1157.4 505.7L1159.1 506.1L1160.8 506.5L1162.5 506.8L1164.2 507.0L1166.0 507.0L1167.8 506.9L1169.6 506.7L1171.4 506.5L1173.2 506.1L1175.0 505.8L1176.7 505.4L1178.3 505.0L1180.0 504.5L1181.6 503.9L1183.3 503.4L1184.9 502.9L1186.6 502.4L1188.2 501.9L1189.9 501.3L1191.6 500.8L1193.3 500.3L1195.0 499.9L1196.7 499.5L1198.5 499.1L1200.2 498.8L1202.0 498.5L1203.7 498.3L1205.5 498.2L1207.2 498.2L1209.0 498.3L1210.8 498.5L1212.5 498.7L1214.3 499.0L1216.0 499.2L1217.7 499.4L1219.4 499.7L1221.1 500.0L1222.8 500.3L1224.5 500.7L1226.2 501.0L1228.0 501.4L1229.8 501.8L1231.5 502.2L1233.3 502.6L1235.2 503.0L1237.0 503.4L1238.9 503.7L1240.9 504.1L1242.8 504.4L1244.8 504.7L1246.8 504.9L1248.9 505.0L1251.2 505.0L1252.3 504.9L1253.5 504.8L1254.7 504.7L1255.9 504.6L1257.0 504.5L1258.2 504.4L1259.4 504.2L1260.6 504.1L1261.8 503.9L1263.0 503.8L1264.2 503.7L1265.5 503.5L1266.7 503.4L1267.9 503.2L1269.2 503.1L1270.4 502.9L1271.7 502.7L1272.9 502.6L1274.2 502.4L1275.4 502.3L1276.6 502.1L1277.8 502.0L1278.9 501.9L1280.0 501.8L1281.1 501.7L1282.2 501.5L1284.4 501.3L1286.6 501.1L1288.8 501.0L1291.0 500.8L1292.2 500.7L1293.3 500.7L1294.5 500.6L1295.6 500.6L1296.8 500.5L1298.0 500.5L1299.1 500.4L1300.3 500.4L1301.5 500.3L1302.7 500.3L1303.8 500.2L1305.0 500.2" stroke="#d2a6ea" stroke-width="1.3"/><path d="M150.5 502.4L152.1 502.2L153.7 501.9L155.3 501.7L156.9 501.4L158.4 501.2L160.0 501.0L161.4 500.8L162.9 500.6L164.2 500.3L165.7 500.1L167.1 500.0L168.6 499.9L170.4 499.9L172.3 500.0L174.2 500.1L176.1 500.3L178.1 500.5L180.0 500.7L182.0 500.9L184.0 501.1L186.1 501.3L188.1 501.5L190.1 501.7L192.2 501.9L194.3 502.0L196.5 502.1L198.6 502.2L200.8 502.2L202.9 502.3L205.0 502.3L206.8 502.3L208.6 502.3L210.4 502.3L212.2 502.2L214.0 502.2L215.8 502.1L217.8 502.0L219.8 501.8L221.9 501.7L223.9 501.5L226.0 501.2L228.0 501.0L229.9 500.7L231.8 500.5L233.8 500.2L235.7 499.9L237.5 499.5L239.4 499.2L241.2 498.9L243.0 498.5L244.9 498.2L246.6 497.8L248.4 497.4L250.0 497.0L251.3 496.7L252.5 496.3L253.7 495.9L254.9 495.6L256.0 495.1L257.1 494.7L258.1 494.2L259.1 493.8L260.1 493.3L261.1 492.7L262.1 492.2L263.0 491.7L263.9 491.2L264.7 490.7L265.6 490.2L266.4 489.7L267.2 489.2L268.0 488.7L269.1 488.0L270.1 487.2L271.0 486.4L272.0 485.6L272.7 484.9L273.4 484.2L274.1 483.5L274.7 482.8L275.4 482.0L276.0 481.2L276.6 480.4L277.2 479.5L277.8 478.7L278.3 477.8L278.9 476.8L279.5 475.7L279.9 474.9L280.4 474.0L280.8 473.0L281.3 472.0L281.8 471.0L282.2 470.0L282.7 468.9L283.2 467.8L283.6 466.7L284.1 465.6L284.6 464.5L285.0 463.4L285.5 462.2L285.9 461.0L286.4 459.8L286.9 458.6L287.3 457.3L287.8 456.1L288.2 454.8L288.7 453.6L289.1 452.3L289.5 451.0L290.0 449.8L290.4 448.5L290.8 447.2L291.3 445.9L291.7 444.6L292.2 443.2L292.6 441.9L293.0 440.6L293.4 439.2L293.9 437.9L294.3 436.6L294.7 435.2L295.1 433.9L295.5 432.5L295.9 431.1L296.3 429.7L296.7 428.3L297.1 426.9L297.4 425.4L297.8 424.0L298.2 422.6L298.5 421.2L298.9 419.7L299.3 418.3L299.6 416.9L300.0 415.5L300.4 414.1L300.8 412.7L301.1 411.3L301.5 409.9L301.9 408.5L302.3 407.1L302.6 405.8L303.0 404.4L303.4 403.0L303.8 401.7L304.1 400.3L304.5 399.0L304.8 397.8L305.2 396.6L305.5 395.4L305.8 394.2L306.1 393.1L306.4 391.9L306.8 390.8L307.1 389.6L307.4 388.5L307.7 387.3L308.0 386.2L308.3 385.0L308.6 383.8L308.9 382.7L309.2 381.5L309.5 380.3L309.8 379.2L310.1 378.0L310.4 376.8L310.7 375.7L310.9 374.5L311.2 373.3L311.5 372.2L311.8 371.0L312.1 369.8L312.4 368.7L312.7 367.5L312.9 366.3L313.2 365.2L313.5 364.0L313.8 362.8L314.1 361.7L314.4 360.5L314.6 359.3L314.9 358.2L315.2 357.0L315.5 355.8L315.8 354.7L316.0 353.5L316.3 352.3L316.6 351.2L316.9 350.0L317.2 348.8L317.5 347.6L317.7 346.5L318.0 345.3L318.3 344.2L318.6 343.0L318.9 341.9L319.2 340.7L319.4 339.6L319.7 338.4L320.0 337.3L320.3 336.2L320.5 335.0L320.8 333.9L321.1 332.8L321.4 331.7L321.7 330.6L322.0 329.5L322.3 328.5L322.6 327.4L322.9 326.4L323.2 325.4L323.6 324.4L323.9 323.4L324.2 322.4L324.6 321.4L324.9 320.4L325.2 319.4L325.6 318.5L325.9 317.5L326.5 315.8L327.1 314.0L327.8 312.4L328.4 310.7L329.0 309.1L329.7 307.5L330.3 306.1L330.9 304.7L331.5 303.3L332.2 302.0L332.8 300.7L333.5 299.5L334.1 298.5L334.8 297.5L335.4 296.6L336.1 295.7L336.8 294.8L337.5 294.0L338.1 293.3L338.8 292.5L339.4 291.7L340.1 291.1L341.1 290.4L342.2 290.3L343.4 290.5L344.6 291.0L345.3 291.5L346.4 292.3L347.1 293.1L347.8 294.0L348.5 294.9L349.1 296.0L349.7 297.0L350.3 298.0L350.8 299.1L351.4 300.3L351.8 301.4L352.3 302.6L352.8 303.9L353.3 305.3L353.8 306.8L354.3 308.4L354.8 310.0L355.3 311.7L355.8 313.6L356.3 315.8L356.6 317.1L356.9 318.5L357.2 320.0L357.5 321.5L357.8 323.0L358.1 324.5L358.4 326.1L358.7 327.6L359.0 329.1L359.2 330.6L359.5 332.0L359.7 333.3L360.0 334.6L360.2 335.9L360.4 337.2L360.6 338.5L360.8 339.8L361.0 341.0L361.2 342.3L361.4 343.6L361.6 344.9L361.8 346.2L362.0 347.5L362.2 348.9L362.4 350.3L362.7 351.7L362.9 353.1L363.1 354.5L363.4 355.9L363.6 357.4L363.8 358.8L364.0 360.2L364.3 361.6L364.5 363.1L364.7 364.5L364.9 366.0L365.1 367.4L365.4 368.9L365.6 370.4L365.8 371.8L366.0 373.3L366.2 374.8L366.4 376.2L366.7 377.7L366.9 379.2L367.1 380.7L367.3 382.2L367.5 383.7L367.7 385.2L367.9 386.7L368.2 388.2L368.4 389.7L368.6 391.2L368.8 392.8L369.0 394.3L369.2 395.9L369.4 397.6L369.7 399.2L369.9 401.0L370.2 403.4L370.5 405.9L370.9 408.5L371.2 411.2L371.5 414.0L371.9 416.8L372.2 419.6L372.5 422.4L372.9 425.3L373.2 428.2L373.6 431.0L373.9 433.8L374.2 436.7L374.6 439.7L374.9 442.6L375.3 445.6L375.6 448.7L376.0 451.7L376.3 454.7L376.7 457.6L377.0 460.6L377.4 463.4L377.7 466.3L378.0 469.0L378.3 471.3L378.5 473.5L378.8 475.7L379.0 477.9L379.3 480.0L379.5 482.1L379.8 484.3L380.0 486.4L380.3 488.5L380.5 490.6L380.8 492.7L381.0 494.9L381.2 497.0L381.5 499.1L381.7 501.3L382.0 503.3L382.2 505.4L382.5 507.5L382.7 509.6L383.0 511.7L383.2 513.8L383.5 515.9L383.7 518.1L384.0 520.3L384.3 522.9L384.6 525.6L385.0 528.4L385.3 531.2L385.6 534.0L386.0 536.9L386.3 539.7L386.6 542.7L387.0 545.6L387.3 548.5L387.7 551.4L388.0 554.4L388.4 557.5L388.7 560.6L389.1 563.7L389.4 566.8L389.8 570.0L390.2 573.2L390.6 576.4L390.9 579.5L391.3 582.7L391.7 585.9L392.0 589.1L392.4 592.3L392.8 595.6L393.2 598.9L393.5 602.2L393.9 605.5L394.3 608.8L394.7 612.1L395.1 615.5L395.5 618.8L395.8 622.1L396.2 625.4L396.6 628.7L397.0 632.0L397.4 635.4L397.8 638.8L398.2 642.3L398.6 645.9L399.0 649.4L399.4 652.9L399.8 656.3L400.2 659.7L400.6 662.9L401.0 666.0L401.4 669.0L401.7 671.7L401.9 673.5L402.1 675.1L402.3 676.7L402.5 678.3L402.7 679.8L402.9 681.2L403.1 682.6L403.3 684.0L403.4 685.4L403.6 686.7L403.8 688.1L404.0 689.5L404.2 690.7L404.3 691.9L404.5 693.1L404.7 694.3L404.8 695.5L405.0 696.6L405.2 697.8L405.3 698.9L405.5 700.0L405.7 701.2L405.8 702.3L406.0 703.4L406.3 705.5L406.7 707.5L407.0 709.5L407.3 711.5L407.7 713.4L408.0 715.4L408.3 717.2L408.6 718.9L409.0 720.6L409.3 722.4L409.6 724.1L410.0 725.9L410.2 727.0L410.4 728.0L410.7 729.1L410.9 730.2L411.2 731.3L411.4 732.4L411.7 733.5L412.0 734.6L412.2 735.7L412.5 736.8L412.7 737.8L413.0 738.9L413.5 740.8L414.0 742.7L414.5 744.5L415.0 746.3L415.5 748.1L416.0 749.9L416.5 751.6L417.0 753.2L417.5 754.8L418.0 756.4L418.5 757.9L419.0 759.5L419.5 760.9L419.9 762.4L420.4 763.8L420.9 765.2L421.4 766.6L422.0 768.1L422.4 769.1L422.7 770.0L423.1 771.0L423.5 772.0L423.9 773.0L424.3 774.0L424.8 775.1L425.2 776.1L425.6 777.1L426.1 778.1L426.5 779.1L427.0 780.1L427.5 781.1L427.9 782.1L428.4 783.1L428.9 784.1L429.4 785.1L429.9 786.1L430.4 787.1L430.9 788.0L431.5 789.0L432.0 789.9L432.5 790.8L433.0 791.6L433.8 792.9L434.6 794.2L435.4 795.4L436.2 796.6L437.1 797.6L438.0 798.6L438.8 799.4L439.6 800.2L440.5 800.9L441.4 801.5L442.3 802.0L443.2 802.4L444.6 802.5L446.0 802.4L447.5 802.1L448.5 801.8L449.6 801.5L450.8 801.1L452.0 800.6L453.1 800.0L454.3 799.4L455.5 798.7L456.5 798.0L457.6 797.2L458.6 796.3L459.6 795.4L460.5 794.5L461.5 793.5L462.5 792.6L463.4 791.7L464.4 790.8L465.3 789.9L466.3 788.9L467.3 787.9L468.5 786.5L469.2 785.6L470.0 784.8L470.8 783.8L471.5 782.9L472.3 781.9L473.1 780.9L473.9 779.9L474.7 778.8L475.5 777.8L476.2 776.8L477.0 775.8L477.8 774.8L478.6 773.7L479.4 772.7L480.1 771.6L480.9 770.6L481.7 769.5L482.5 768.4L483.2 767.3L484.0 766.2L484.8 765.1L485.5 764.0L486.3 762.9L487.1 761.6L487.9 760.3L488.7 759.0L489.5 757.7L490.4 756.4L491.2 755.1L492.0 753.8L492.8 752.4L493.6 751.1L494.4 749.7L495.2 748.4L496.0 747.0L496.8 745.7L497.7 744.3L498.5 742.9L499.4 741.6L500.3 740.2L501.1 738.8L502.0 737.4L502.8 736.0L503.7 734.6L504.6 733.2L505.4 731.7L506.3 730.2L507.3 728.5L508.3 726.8L509.3 725.0L510.2 723.2L511.2 721.4L512.2 719.5L513.2 717.7L514.2 715.8L515.2 713.9L516.2 712.1L517.2 710.2L518.2 708.4L519.2 706.5L520.2 704.7L521.2 702.9L522.2 701.0L523.2 699.2L524.2 697.3L525.3 695.5L526.3 693.6L527.3 691.8L528.2 689.9L529.2 688.1L530.2 686.2L531.2 684.4L532.1 682.5L533.1 680.7L534.0 678.8L535.0 677.0L535.9 675.1L536.8 673.2L537.8 671.4L538.7 669.5L539.6 667.7L540.5 665.8L541.4 664.0L542.3 662.2L543.1 660.4L544.0 658.6L544.8 656.8L545.6 655.0L546.5 653.2L547.3 651.4L548.1 649.6L548.9 647.8L549.8 646.0L550.6 644.3L551.4 642.5L552.2 640.8L553.0 639.1L553.8 637.4L554.6 635.7L555.4 634.0L556.2 632.3L557.0 630.7L557.8 629.0L558.6 627.3L559.4 625.7L560.2 624.0L561.0 622.4L561.8 620.7L562.6 619.1L563.3 617.5L564.1 615.9L564.9 614.4L565.6 612.8L566.4 611.2L567.2 609.6L568.0 608.0L568.8 606.4L569.7 604.8L570.5 603.2L571.4 601.5L572.3 599.7L573.2 597.9L574.2 596.2L575.1 594.4L576.1 592.6L577.1 590.8L578.0 589.1L579.0 587.4L580.0 585.7L581.1 584.1L582.1 582.6L583.0 581.2L583.9 579.9L584.9 578.7L585.8 577.4L586.8 576.2L587.7 575.0L588.7 573.8L589.7 572.7L590.7 571.6L591.7 570.5L592.7 569.5L593.7 568.5L594.6 567.6L595.6 566.7L596.5 565.9L597.4 565.1L598.4 564.3L599.4 563.6L600.3 562.9L601.3 562.2L602.3 561.5L603.3 560.8L604.3 560.2L605.3 559.5L606.2 559.0L607.2 558.4L608.1 557.9L609.1 557.4L610.1 557.0L611.0 556.5L612.0 556.0L613.0 555.6L614.0 555.2L614.9 554.8L615.9 554.4L616.9 554.0L617.9 553.6L618.8 553.2L619.8 552.9L620.7 552.5L621.7 552.2L622.7 551.9L623.6 551.6L624.6 551.3L625.6 551.0L626.6 550.7L627.5 550.4L628.5 550.1L629.5 549.9L631.3 549.5L633.2 549.1L635.1 548.7L637.0 548.3L638.0 548.1L639.0 547.8L640.0 547.6L641.2 547.2L642.4 546.8L643.6 546.3L644.8 545.8L646.0 545.4L647.3 544.8L648.5 544.3L649.7 543.8L651.0 543.3L652.2 542.7L653.5 542.2L654.7 541.7L655.9 541.2L657.2 540.7L658.4 540.1L659.6 539.5L660.9 539.0L662.1 538.4L663.3 537.9L664.5 537.3L665.8 536.8L667.0 536.3L668.3 535.8L669.5 535.4L670.7 535.0L672.0 534.5L673.2 534.1L674.5 533.7L675.7 533.3L677.0 533.0L678.2 532.6L679.5 532.3L680.7 532.0L681.9 531.8L683.1 531.5L684.2 531.3L686.0 531.1L687.8 531.0L689.5 530.9L691.1 531.0L692.9 531.0L694.6 531.2L696.5 531.4L698.4 531.7L700.4 532.0L702.3 532.4L703.3 532.7L704.4 532.9L705.4 533.1L706.4 533.3L707.6 533.5L708.8 533.7L710.0 534.0L711.2 534.2L712.4 534.5L713.6 534.8L714.9 535.0L716.1 535.3L717.4 535.5L718.6 535.7L719.9 535.9L721.1 536.0L722.3 536.2L723.6 536.3L724.8 536.4L726.0 536.5L727.3 536.6L728.5 536.7L729.7 536.8L731.0 536.8L732.2 536.8L733.4 536.8L734.7 536.8L735.9 536.8L737.1 536.8L738.4 536.7L739.6 536.6L740.8 536.5L742.0 536.3L743.2 536.2L744.5 536.0L745.7 535.9L746.9 535.7L748.1 535.6L749.4 535.5L750.6 535.4L751.8 535.3L753.1 535.2L754.3 535.1L755.5 535.0L756.8 535.0L758.0 534.9L759.2 534.8L760.5 534.8L761.7 534.7L762.9 534.7L764.2 534.6L765.4 534.6L766.6 534.6L767.9 534.6L769.2 534.6L770.5 534.6L771.8 534.6L773.1 534.6L774.4 534.7L775.6 534.7L776.8 534.7L779.1 534.7L780.8 534.6L782.0 534.5L783.2 534.4L784.3 534.3L785.4 534.1L786.5 533.9L787.9 533.7L789.2 533.4L790.4 533.1L791.5 532.7L792.6 532.1L793.5 531.5L794.3 530.8L795.2 530.1L796.1 529.3L797.1 528.7L798.0 528.0L798.6 527.4L799.3 526.7L800.5 525.4L801.1 524.7L801.7 523.8L802.3 523.0L802.9 522.1L803.6 521.2L804.2 520.2L804.9 519.2L805.5 518.3L806.1 517.3L806.7 516.4L807.3 515.4L808.0 514.3L808.6 513.3L809.2 512.2L809.9 511.1L810.5 510.0L811.1 508.9L811.7 507.8L812.3 506.7L812.9 505.6L813.4 504.5L814.0 503.4L814.5 502.4L815.1 501.3L815.6 500.3L816.1 499.2L816.6 498.1L817.1 497.1L817.6 496.0L818.1 494.9L818.6 493.8L819.0 492.7L819.5 491.6L820.0 490.5L820.5 489.3L821.0 488.0L821.5 486.8L822.0 485.5L822.5 484.2L823.0 482.9L823.5 481.7L824.0 480.4L824.5 479.1L825.0 477.8L825.5 476.5L826.0 475.2L826.5 473.9L827.0 472.6L827.5 471.3L828.0 470.0L828.5 468.7L829.0 467.4L829.5 466.0L830.0 464.7L830.5 463.3L831.0 462.0L831.5 460.7L832.0 459.3L832.5 458.0L833.0 456.8L833.5 455.5L834.0 454.2L834.5 453.0L835.0 451.7L835.5 450.4L836.0 449.2L836.5 447.9L837.0 446.7L837.5 445.4L838.0 444.2L838.5 443.0L839.0 441.7L839.5 440.5L840.0 439.3L840.5 438.0L841.0 436.8L841.5 435.6L842.0 434.4L842.5 433.2L843.0 432.0L843.5 430.7L844.0 429.5L844.5 428.3L845.0 427.1L845.5 426.0L846.0 424.8L846.5 423.6L847.0 422.4L847.5 421.2L848.0 420.0L848.5 418.9L849.0 417.7L849.5 416.5L850.0 415.4L850.5 414.2L851.0 413.1L851.5 412.0L852.0 410.8L852.5 409.7L853.0 408.6L853.6 407.5L854.1 406.4L854.6 405.3L855.0 404.2L855.5 403.2L856.0 402.1L856.4 401.3L856.8 400.4L857.2 399.6L857.6 398.7L857.9 397.9L858.7 396.3L859.4 394.7L860.1 393.1L860.8 391.5L861.5 389.9L862.2 388.3L862.9 386.7L863.5 385.2L864.2 383.6L864.8 382.0L865.5 380.4L866.2 378.8L866.8 377.2L867.5 375.7L868.2 374.1L868.8 372.7L869.5 371.3L870.1 370.0L870.8 368.7L871.5 367.3L872.2 366.0L872.9 364.7L873.6 363.3L874.3 362.0L875.1 360.7L875.8 359.3L876.6 358.0L877.4 356.7L878.2 355.4L879.0 354.2L879.8 352.9L880.6 351.7L881.5 350.4L882.5 349.1L883.1 348.4L883.6 347.8L884.2 347.1L884.8 346.4L885.4 345.7L886.0 345.0L886.6 344.3L887.2 343.7L887.8 343.0L888.4 342.4L889.5 341.3L890.5 340.3L891.5 339.3L892.5 338.3L893.5 337.4L894.5 336.6L895.4 335.8L896.3 335.1L897.1 334.4L897.9 333.7L898.7 333.1L899.6 332.6L900.4 332.2L901.2 331.8L902.5 331.3L903.8 331.0L905.0 330.7L906.4 330.7L907.7 330.9L908.7 331.1L909.7 331.5L910.7 332.1L911.7 332.8L912.5 333.6L913.4 334.5L913.8 335.3L914.3 336.1L914.7 336.9L915.1 337.8L915.5 338.7L915.9 339.6L916.2 340.6L916.5 341.6L916.8 342.7L917.2 343.8L917.5 345.1L917.8 346.1L918.1 347.1L918.4 348.3L918.7 349.5L919.0 350.7L919.4 351.9L919.7 353.2L920.0 354.5L920.3 355.8L920.7 357.1L921.0 358.3L921.3 359.5L921.6 360.7L921.9 361.9L922.2 363.1L922.5 364.2L922.8 365.4L923.1 366.6L923.4 367.8L923.6 368.9L923.9 370.1L924.2 371.3L924.5 372.5L924.8 373.7L925.1 374.9L925.4 376.1L925.7 377.2L926.0 378.4L926.3 379.6L926.6 380.8L926.9 382.0L927.2 383.2L927.4 384.5L927.7 385.7L928.0 386.9L928.3 388.1L928.6 389.3L928.9 390.5L929.1 391.7L929.4 392.9L929.7 394.1L929.9 395.3L930.2 396.5L930.5 397.7L930.7 399.0L931.0 400.2L931.2 401.4L931.5 402.6L931.7 403.8L932.0 405.0L932.2 406.2L932.5 407.4L932.7 408.5L932.9 409.7L933.1 410.9L933.4 412.1L933.6 413.3L933.9 414.6L934.1 415.9L934.4 417.2L934.7 418.8L935.1 420.5L935.5 422.3L935.9 424.0L936.3 425.8L936.7 427.7L937.1 429.5L937.5 431.4L937.9 433.2L938.3 435.1L938.6 436.9L939.0 438.7L939.4 440.6L939.7 442.4L940.1 444.3L940.4 446.2L940.8 448.0L941.1 449.9L941.4 451.8L941.8 453.6L942.1 455.5L942.4 457.3L942.7 459.1L943.0 461.0L943.3 462.6L943.5 464.3L943.8 465.9L944.0 467.5L944.2 469.1L944.4 470.7L944.6 472.3L944.9 473.9L945.1 475.5L945.3 477.1L945.5 478.8L945.7 480.5L945.9 482.2L946.1 484.0L946.3 485.7L946.5 487.5L946.7 489.3L946.9 491.1L947.1 492.9L947.3 494.7L947.5 496.5L947.8 498.3L948.0 500.2L948.2 502.0L948.5 504.0L948.7 506.1L949.0 508.1L949.3 510.2L949.5 512.3L949.8 514.3L950.1 516.4L950.4 518.5L950.7 520.6L950.9 522.7L951.2 524.8L951.5 526.9L951.8 529.0L952.1 531.1L952.4 533.3L952.7 535.5L953.0 537.6L953.2 539.8L953.5 542.0L953.8 544.1L954.1 546.3L954.4 548.4L954.7 550.5L955.0 552.6L955.3 554.5L955.5 556.5L955.8 558.4L956.1 560.3L956.3 562.2L956.6 564.1L956.8 566.0L957.1 567.8L957.4 569.7L957.6 571.6L957.9 573.5L958.2 575.4L958.5 577.3L958.8 579.2L959.1 581.1L959.4 583.0L959.8 585.0L960.1 586.9L960.4 588.8L960.7 590.7L961.1 592.6L961.4 594.4L961.7 596.3L962.0 598.1L962.3 599.8L962.5 601.4L962.8 603.0L963.1 604.5L963.3 606.1L963.6 607.7L963.8 609.2L964.1 610.8L964.4 612.3L964.6 613.9L964.9 615.5L965.2 617.0L965.5 618.6L965.8 620.2L966.1 621.8L966.4 623.4L966.7 625.0L967.0 626.6L967.3 628.1L967.7 629.7L968.0 631.3L968.3 632.8L968.7 634.4L969.0 635.9L969.3 637.3L969.6 638.6L970.0 640.0L970.3 641.4L970.6 642.7L970.9 644.1L971.3 645.4L971.6 646.7L972.0 648.0L972.3 649.3L972.7 650.6L973.0 651.9L973.3 653.0L973.6 654.2L974.0 655.3L974.3 656.4L974.6 657.6L974.9 658.7L975.3 659.8L975.6 660.8L976.0 661.9L976.3 663.0L976.6 664.0L977.0 665.0L977.3 665.9L977.6 666.8L978.0 667.7L978.6 669.4L979.3 671.1L979.9 672.7L980.6 674.2L981.3 675.4L981.8 676.4L982.4 677.4L982.9 678.2L983.5 679.0L984.2 679.7L985.0 680.5L985.9 681.1L986.8 681.5L988.0 681.7L989.2 681.5L990.1 681.1L991.0 680.5L991.8 679.7L992.5 679.0L993.1 678.1L993.6 677.1L994.2 676.1L994.7 675.0L995.4 673.7L996.0 672.2L996.7 670.6L997.3 668.8L997.7 668.0L998.0 667.0L998.3 666.1L998.7 665.1L999.0 664.1L999.5 662.6L1000.0 661.1L1000.5 659.5L1001.0 657.8L1001.5 656.1L1002.0 654.3L1002.5 652.5L1003.0 650.7L1003.5 648.9L1004.0 647.0L1004.5 645.2L1005.0 643.4L1005.5 641.5L1006.0 639.6L1006.6 637.7L1007.1 635.7L1007.6 633.7L1008.1 631.7L1008.6 629.7L1009.1 627.8L1009.6 625.8L1010.1 623.8L1010.5 621.9L1011.0 619.9L1011.4 618.1L1011.9 616.3L1012.3 614.4L1012.7 612.6L1013.1 610.8L1013.5 609.0L1013.9 607.2L1014.3 605.4L1014.7 603.6L1015.0 601.8L1015.4 600.0L1015.8 598.2L1016.2 596.4L1016.5 594.6L1016.9 592.7L1017.3 590.9L1017.6 589.0L1018.0 587.2L1018.3 585.3L1018.6 583.5L1019.0 581.7L1019.3 579.9L1019.7 578.2L1020.0 576.4L1020.3 574.9L1020.6 573.4L1020.9 572.0L1021.2 570.5L1021.5 569.1L1021.7 567.6L1022.0 566.2L1022.3 564.8L1022.6 563.4L1022.9 562.0L1023.2 560.7L1023.5 559.3L1023.8 558.2L1024.0 557.0L1024.3 555.9L1024.6 554.8L1024.8 553.7L1025.1 552.6L1025.4 551.5L1025.6 550.5L1025.9 549.4L1026.2 548.3L1026.5 547.2L1026.8 546.0L1027.1 544.8L1027.4 543.6L1027.8 542.4L1028.1 541.1L1028.5 539.9L1028.8 538.6L1029.2 537.4L1029.5 536.1L1029.9 534.9L1030.3 533.7L1030.6 532.4L1031.0 531.3L1031.4 530.2L1031.7 529.1L1032.1 528.0L1032.4 526.9L1032.8 525.9L1033.2 524.8L1033.6 523.8L1033.9 522.7L1034.3 521.7L1034.7 520.7L1035.1 519.8L1035.5 518.8L1036.2 517.3L1036.9 515.7L1037.6 514.3L1038.3 512.9L1039.1 511.5L1039.8 510.2L1040.4 509.1L1041.0 508.1L1041.6 507.1L1042.3 506.1L1042.9 505.3L1043.5 504.4L1044.2 503.5L1044.9 502.6L1045.7 501.8L1046.5 501.2L1047.4 500.7L1048.3 500.4L1049.6 500.2L1051.2 500.3L1052.1 500.6L1053.1 501.1L1054.0 501.5L1055.0 502.0L1056.0 502.5L1057.1 503.0L1058.3 503.6L1059.4 504.2L1060.6 504.8L1061.8 505.5L1063.0 506.1L1064.3 506.8L1065.6 507.6L1066.9 508.4L1068.3 509.2L1069.6 509.9L1071.0 510.6L1072.4 511.2L1073.8 511.8L1075.3 512.4L1076.7 512.8L1078.2 513.2L1079.6 513.3L1081.0 513.2L1082.4 513.0L1083.8 512.6L1085.2 512.1L1086.6 511.6L1088.0 511.0L1089.7 510.2L1090.5 509.8L1091.3 509.3L1092.1 508.8L1093.0 508.3L1093.8 507.8L1094.7 507.3L1095.5 506.7L1096.4 506.2L1097.2 505.6L1098.1 505.1L1099.1 504.5L1100.0 503.9L1101.0 503.2L1102.0 502.6L1102.9 501.9L1103.9 501.2L1104.9 500.6L1105.9 499.9L1106.9 499.3L1107.9 498.7L1109.0 498.1L1110.0 497.6L1111.0 497.1L1112.1 496.6L1113.2 496.1L1114.3 495.7L1115.4 495.2L1116.5 494.8L1117.6 494.4L1118.7 494.1L1119.7 493.8L1120.8 493.5L1121.9 493.4L1123.8 493.3L1125.5 493.5L1127.2 493.8L1128.8 494.3L1130.5 494.9L1132.2 495.5L1133.9 496.1L1134.8 496.4L1135.7 496.8L1136.5 497.1L1137.4 497.5L1138.3 497.9L1139.2 498.3L1140.1 498.7L1141.0 499.1L1141.8 499.4L1142.7 499.8L1143.6 500.2L1144.5 500.6L1145.3 501.0L1146.2 501.3L1147.1 501.7L1147.9 502.1L1148.8 502.5L1149.7 502.9L1150.5 503.3L1151.4 503.6L1152.3 504.0L1154.0 504.6L1155.7 505.1L1157.4 505.7L1159.1 506.1L1160.8 506.5L1162.5 506.8L1164.2 507.0L1166.0 507.0L1167.8 506.9L1169.6 506.7L1171.4 506.5L1173.2 506.1L1175.0 505.8L1176.7 505.4L1178.3 505.0L1180.0 504.5L1181.6 503.9L1183.3 503.4L1184.9 502.9L1186.6 502.4L1188.2 501.9L1189.9 501.3L1191.6 500.8L1193.3 500.3L1195.0 499.9L1196.7 499.5L1198.5 499.1L1200.2 498.8L1202.0 498.5L1203.7 498.3L1205.5 498.2L1207.2 498.2L1209.0 498.3L1210.8 498.5L1212.5 498.7L1214.3 499.0L1216.0 499.2L1217.7 499.4L1219.4 499.7L1221.1 500.0L1222.8 500.3L1224.5 500.7L1226.2 501.0L1228.0 501.4L1229.8 501.8L1231.5 502.2L1233.3 502.6L1235.2 503.0L1237.0 503.4L1238.9 503.7L1240.9 504.1L1242.8 504.4L1244.8 504.7L1246.8 504.9L1248.9 505.0L1251.2 505.0L1252.3 504.9L1253.5 504.8L1254.7 504.7L1255.9 504.6L1257.0 504.5L1258.2 504.4L1259.4 504.2L1260.6 504.1L1261.8 503.9L1263.0 503.8L1264.2 503.7L1265.5 503.5L1266.7 503.4L1267.9 503.2L1269.2 503.1L1270.4 502.9L1271.7 502.7L1272.9 502.6L1274.2 502.4L1275.4 502.3L1276.6 502.1L1277.8 502.0L1278.9 501.9L1280.0 501.8L1281.1 501.7L1282.2 501.5L1284.4 501.3L1286.6 501.1L1288.8 501.0L1291.0 500.8L1292.2 500.7L1293.3 500.7L1294.5 500.6L1295.6 500.6L1296.8 500.5L1298.0 500.5L1299.1 500.4L1300.3 500.4L1301.5 500.3L1302.7 500.3L1303.8 500.2L1305.0 500.2" stroke="#e2bc66" stroke-width="1.3"/><path d="M150.5 502.4L152.1 502.2L153.7 501.9L155.3 501.7L156.9 501.4L158.4 501.2L160.0 501.0L161.4 500.8L162.9 500.5L164.2 500.3L165.7 500.1L167.1 499.9L168.6 499.9L170.4 499.9L172.3 499.9L174.2 500.1L176.1 500.3L178.1 500.5L180.0 500.7L182.0 500.9L184.0 501.1L186.1 501.3L188.1 501.5L190.1 501.7L192.2 501.9L194.3 502.0L196.5 502.1L198.6 502.2L200.8 502.2L202.9 502.3L205.0 502.3L206.8 502.3L208.6 502.3L210.4 502.3L212.2 502.2L214.0 502.2L215.8 502.1L217.8 502.0L219.8 501.8L221.9 501.6L223.9 501.4L226.0 501.2L228.0 501.0L229.9 500.7L231.8 500.4L233.8 500.1L235.7 499.8L237.5 499.5L239.4 499.1L241.2 498.8L243.0 498.5L244.9 498.1L246.6 497.7L248.4 497.3L250.0 496.9L251.3 496.5L252.5 496.2L253.7 495.8L254.9 495.4L256.0 495.0L257.1 494.6L258.1 494.1L259.1 493.6L260.1 493.1L261.1 492.6L262.1 492.0L263.0 491.5L263.9 491.0L264.7 490.5L265.6 490.0L266.4 489.5L267.2 489.0L268.0 488.4L268.7 487.9L269.7 487.2L270.7 486.4L271.7 485.6L272.3 484.9L273.0 484.2L273.7 483.5L274.4 482.8L275.1 482.0L275.7 481.2L276.3 480.4L276.9 479.5L277.5 478.6L278.1 477.7L278.6 476.8L279.2 475.7L279.9 474.3L280.4 473.4L280.8 472.4L281.3 471.4L281.8 470.4L282.2 469.3L282.7 468.2L283.2 467.1L283.6 466.0L284.1 464.9L284.6 463.7L285.0 462.6L285.5 461.4L285.9 460.2L286.4 459.0L286.9 457.7L287.3 456.4L287.8 455.2L288.2 453.9L288.7 452.6L289.1 451.3L289.5 450.0L290.0 448.7L290.4 447.4L290.8 446.1L291.3 444.8L291.7 443.4L292.2 442.1L292.6 440.7L293.0 439.3L293.4 438.0L293.9 436.6L294.3 435.2L294.7 433.9L295.1 432.5L295.5 431.1L295.9 429.7L296.3 428.3L296.7 426.8L297.1 425.4L297.4 423.9L297.8 422.5L298.2 421.0L298.5 419.6L298.9 418.1L299.3 416.6L299.6 415.2L300.0 413.8L300.4 412.4L300.8 410.9L301.1 409.5L301.5 408.1L301.9 406.7L302.3 405.3L302.6 403.8L303.0 402.4L303.4 401.0L303.8 399.7L304.1 398.3L304.5 396.9L304.8 395.7L305.2 394.5L305.5 393.3L305.8 392.1L306.1 390.9L306.4 389.7L306.8 388.6L307.1 387.4L307.4 386.2L307.7 385.0L308.0 383.8L308.3 382.7L308.6 381.5L308.9 380.3L309.2 379.1L309.5 377.9L309.8 376.7L310.1 375.5L310.4 374.3L310.7 373.1L310.9 371.9L311.2 370.8L311.5 369.6L311.8 368.4L312.1 367.2L312.4 366.0L312.7 364.8L312.9 363.6L313.2 362.4L313.5 361.2L313.8 360.0L314.1 358.9L314.4 357.7L314.6 356.5L314.9 355.3L315.2 354.1L315.5 352.9L315.8 351.7L316.0 350.5L316.3 349.3L316.6 348.1L316.9 346.9L317.2 345.7L317.5 344.6L317.7 343.4L318.0 342.2L318.3 341.0L318.6 339.8L318.9 338.7L319.2 337.5L319.4 336.3L319.7 335.2L320.0 334.0L320.3 332.9L320.5 331.7L320.8 330.6L321.1 329.4L321.4 328.3L321.7 327.2L322.0 326.0L322.3 325.0L322.6 323.9L322.9 322.9L323.2 321.9L323.6 320.8L323.9 319.8L324.2 318.8L324.6 317.8L324.9 316.8L325.2 315.8L325.6 314.8L325.9 313.8L326.5 312.0L327.1 310.3L327.8 308.6L328.4 306.9L329.0 305.2L329.7 303.6L330.3 302.2L330.9 300.7L331.5 299.3L332.2 298.0L332.8 296.7L333.5 295.4L334.1 294.4L334.8 293.4L335.4 292.5L336.1 291.5L336.8 290.7L337.5 289.8L338.1 289.1L338.8 288.3L339.4 287.5L340.1 286.8L341.1 286.2L342.2 286.0L343.4 286.3L344.6 286.8L345.3 287.3L346.0 287.8L346.8 288.5L347.5 289.3L348.2 290.3L348.8 291.3L349.4 292.4L350.0 293.4L350.6 294.5L351.1 295.6L351.6 296.8L352.1 298.0L352.5 299.3L353.0 300.5L353.5 302.1L354.1 303.7L354.6 305.3L355.0 307.1L355.5 308.9L356.0 310.7L356.3 312.1L356.6 313.4L356.9 314.9L357.2 316.4L357.5 317.9L357.8 319.4L358.1 321.0L358.4 322.5L358.7 324.1L359.0 325.6L359.2 327.1L359.5 328.6L359.7 329.9L360.0 331.3L360.2 332.6L360.4 333.9L360.6 335.2L360.8 336.5L361.0 337.8L361.2 339.1L361.4 340.4L361.6 341.7L361.8 343.1L362.0 344.4L362.2 345.8L362.4 347.2L362.7 348.7L362.9 350.1L363.1 351.6L363.4 353.0L363.6 354.5L363.8 355.9L364.0 357.4L364.3 358.8L364.5 360.3L364.7 361.7L364.9 363.2L365.1 364.7L365.4 366.2L365.6 367.7L365.8 369.2L366.0 370.7L366.2 372.2L366.4 373.7L366.7 375.2L366.9 376.8L367.1 378.3L367.3 379.8L367.5 381.4L367.7 382.9L367.9 384.4L368.2 386.0L368.4 387.5L368.6 389.0L368.8 390.6L369.0 392.2L369.2 393.8L369.4 395.5L369.7 397.2L369.9 399.0L370.2 401.4L370.5 404.0L370.9 406.7L371.2 409.4L371.5 412.2L371.9 415.1L372.2 417.9L372.5 420.9L372.9 423.8L373.2 426.7L373.6 429.6L373.9 432.4L374.2 435.4L374.6 438.4L374.9 441.5L375.3 444.5L375.6 447.6L376.0 450.7L376.3 453.7L376.7 456.7L377.0 459.7L377.4 462.7L377.7 465.5L378.0 468.3L378.3 470.7L378.5 473.0L378.8 475.2L379.0 477.4L379.3 479.6L379.5 481.7L379.8 483.9L380.0 486.0L380.3 488.2L380.5 490.3L380.8 492.5L381.0 494.7L381.2 496.9L381.5 499.0L381.7 501.2L382.0 503.4L382.2 505.6L382.5 507.7L382.7 509.9L383.0 512.2L383.2 514.4L383.5 516.7L383.7 519.0L384.0 521.0L384.3 524.0L384.7 526.9L385.0 529.9L385.3 532.8L385.7 535.7L386.0 538.7L386.3 541.6L386.7 544.6L387.0 547.6L387.3 550.6L387.7 553.6L388.0 556.6L388.4 559.8L388.7 563.1L389.1 566.3L389.4 569.6L389.8 572.9L390.2 576.2L390.6 579.5L390.9 582.9L391.3 586.2L391.7 589.5L392.0 592.9L392.4 596.2L392.8 599.6L393.2 603.1L393.5 606.5L393.9 610.0L394.3 613.4L394.7 616.9L395.1 620.3L395.5 623.8L395.8 627.3L396.2 630.7L396.6 634.2L397.0 637.6L397.4 641.0L397.8 644.6L398.2 648.1L398.6 651.7L399.0 655.3L399.4 658.9L399.8 662.4L400.2 665.8L400.6 669.1L401.0 672.2L401.4 675.2L401.7 678.0L401.9 679.7L402.1 681.3L402.3 682.9L402.5 684.4L402.7 685.8L402.9 687.2L403.0 688.6L403.2 690.0L403.4 691.3L403.6 692.7L403.8 694.1L404.0 695.5L404.2 696.9L404.4 698.3L404.7 699.7L404.9 701.1L405.1 702.5L405.4 703.9L405.6 705.3L405.8 706.7L406.1 708.0L406.3 709.4L406.6 710.7L406.8 712.0L407.0 713.1L407.2 714.3L407.5 715.4L407.7 716.5L407.9 717.6L408.1 718.6L408.3 719.7L408.6 720.8L408.8 721.8L409.0 722.9L409.3 723.9L409.5 725.0L409.7 726.0L410.0 727.0L410.2 728.1L410.5 729.1L410.7 730.1L410.9 731.1L411.2 732.1L411.4 733.1L411.7 734.1L412.0 735.0L412.2 736.0L412.5 737.0L412.8 737.9L413.0 738.9L413.6 740.7L414.2 742.5L414.7 744.4L415.3 746.2L415.6 747.1L415.9 748.0L416.2 748.9L416.5 749.9L416.8 750.8L417.1 751.7L417.4 752.7L417.7 753.6L418.0 754.5L418.3 755.4L418.6 756.4L418.9 757.3L419.5 759.0L420.1 760.5L420.6 762.0L421.2 763.4L421.8 764.8L422.4 766.2L423.0 767.5L423.5 768.5L424.0 769.5L424.5 770.5L425.0 771.4L425.6 772.4L426.2 773.3L426.9 774.4L427.7 775.4L428.5 776.5L429.3 777.5L430.2 778.5L431.0 779.5L431.7 780.3L432.5 781.1L433.2 781.9L434.0 782.6L434.7 783.3L435.5 784.0L436.2 784.6L437.0 785.2L437.7 785.7L438.5 786.2L439.6 786.7L440.7 786.9L442.2 786.9L443.4 786.7L444.5 786.4L445.7 785.9L446.5 785.5L447.3 785.1L448.1 784.6L448.9 784.0L449.7 783.6L450.4 783.0L451.1 782.5L451.8 782.0L452.4 781.4L453.1 780.8L453.9 780.2L454.7 779.4L455.5 778.7L456.3 777.9L457.1 777.1L458.0 776.3L459.2 775.1L459.9 774.4L460.6 773.6L461.4 772.9L462.2 772.1L463.0 771.2L463.8 770.4L464.6 769.5L465.4 768.6L466.2 767.8L467.0 766.9L467.8 766.0L468.6 765.1L469.4 764.1L470.2 763.1L471.0 762.2L471.7 761.2L472.5 760.2L473.3 759.2L474.1 758.2L474.8 757.1L475.6 756.1L476.3 755.1L477.1 754.0L477.9 752.9L478.7 751.8L479.4 750.6L480.2 749.5L481.0 748.3L481.8 747.1L482.5 746.0L483.3 744.8L484.0 743.6L484.8 742.4L485.5 741.2L486.3 740.0L487.1 738.7L487.9 737.5L488.6 736.2L489.4 734.9L490.2 733.6L491.0 732.3L491.8 731.1L492.5 729.7L493.3 728.4L494.1 727.1L494.8 725.8L495.6 724.5L496.4 723.1L497.2 721.8L497.9 720.4L498.7 719.1L499.5 717.7L500.3 716.3L501.0 714.9L501.8 713.5L502.6 712.2L503.4 710.8L504.1 709.4L504.9 708.0L505.7 706.6L506.4 705.2L507.2 703.8L508.0 702.4L508.7 701.0L509.5 699.6L510.2 698.2L511.0 696.8L511.8 695.4L512.5 693.9L513.3 692.5L514.1 691.0L515.0 689.4L515.8 687.8L516.7 686.1L517.6 684.5L518.5 682.8L519.4 681.1L520.3 679.5L521.2 677.8L522.1 676.1L523.0 674.4L523.9 672.6L524.8 670.9L525.8 669.0L526.8 667.1L527.8 665.2L528.9 663.3L529.9 661.4L531.0 659.4L532.0 657.5L533.1 655.5L534.1 653.6L535.1 651.6L536.1 649.6L537.1 647.7L538.1 645.8L539.0 643.8L539.9 641.9L540.8 640.0L541.8 638.0L542.7 636.1L543.6 634.1L544.5 632.2L545.3 630.2L546.2 628.3L547.1 626.4L548.0 624.5L548.9 622.7L549.7 620.9L550.5 619.0L551.4 617.2L552.2 615.4L553.1 613.6L553.9 611.8L554.7 610.1L555.6 608.3L556.4 606.5L557.2 604.8L558.0 603.0L558.8 601.3L559.5 599.7L560.3 598.1L561.0 596.4L561.8 594.8L562.5 593.2L563.2 591.6L564.0 589.9L564.7 588.3L565.5 586.7L566.2 585.1L567.0 583.5L567.8 581.9L568.5 580.3L569.3 578.6L570.1 577.0L570.9 575.4L571.6 573.7L572.4 572.1L573.2 570.5L574.0 569.0L574.8 567.4L575.5 565.9L576.3 564.5L576.9 563.3L577.6 562.1L578.2 561.0L578.8 559.9L579.5 558.8L580.1 557.7L580.7 556.6L581.4 555.6L582.0 554.5L582.7 553.5L583.3 552.5L584.0 551.5L584.6 550.6L585.3 549.7L585.9 548.8L586.6 547.9L587.2 547.1L587.9 546.2L588.6 545.4L589.2 544.6L589.9 543.8L590.6 543.0L591.3 542.2L592.0 541.5L592.6 540.8L593.3 540.2L594.0 539.6L594.6 538.9L595.3 538.3L596.0 537.8L596.7 537.2L597.4 536.6L598.0 536.1L598.7 535.5L600.0 534.5L601.1 533.7L602.1 532.9L603.1 532.2L604.1 531.5L605.2 530.8L606.4 530.0L607.2 529.5L608.0 529.0L608.8 528.5L609.7 527.9L610.6 527.4L611.5 526.8L612.4 526.3L613.3 525.8L614.2 525.3L615.2 524.8L616.1 524.3L617.0 523.8L617.9 523.3L618.9 522.9L619.8 522.5L620.8 522.0L621.7 521.6L622.7 521.2L623.7 520.8L624.6 520.5L625.6 520.1L626.6 519.7L627.5 519.4L628.5 519.0L629.4 518.7L630.4 518.3L631.3 518.0L632.3 517.7L633.2 517.4L634.1 517.1L635.1 516.8L636.0 516.5L637.0 516.3L638.0 516.0L639.0 515.7L640.0 515.4L641.2 515.1L642.3 514.8L643.5 514.5L644.8 514.2L646.0 513.9L647.2 513.6L648.5 513.3L649.7 513.0L651.0 512.7L652.2 512.4L653.5 512.1L654.7 511.7L655.9 511.3L657.2 510.9L658.4 510.5L659.6 510.0L660.9 509.6L662.1 509.1L663.3 508.7L664.6 508.2L665.8 507.7L667.0 507.3L668.3 506.9L669.5 506.5L670.7 506.1L671.9 505.7L673.2 505.4L674.4 505.0L675.6 504.6L676.8 504.3L678.0 503.9L679.3 503.6L680.5 503.3L681.7 503.0L683.0 502.8L684.2 502.6L685.4 502.4L686.7 502.3L687.9 502.2L689.1 502.1L690.3 502.1L691.6 502.0L692.8 502.0L694.1 502.0L695.3 502.0L696.5 502.0L697.8 502.1L699.0 502.1L700.2 502.2L701.5 502.2L702.7 502.3L703.9 502.5L705.1 502.6L706.4 502.8L707.6 502.9L708.8 503.0L710.0 503.2L711.2 503.3L712.5 503.3L713.7 503.4L714.9 503.4L716.2 503.4L717.4 503.4L718.6 503.4L719.9 503.4L721.1 503.4L722.3 503.3L723.6 503.3L724.8 503.2L726.0 503.1L727.3 503.0L728.5 502.9L729.7 502.8L731.0 502.6L732.2 502.4L733.4 502.2L734.6 502.0L735.9 501.8L737.1 501.5L738.3 501.3L739.5 501.1L740.7 500.9L742.0 500.7L743.2 500.6L744.4 500.5L745.7 500.4L746.9 500.3L748.1 500.2L749.4 500.1L750.6 500.0L751.8 500.0L753.1 499.9L754.3 499.9L755.5 499.9L756.8 499.9L758.0 499.9L759.2 499.9L760.5 500.0L761.7 500.1L763.0 500.2L764.2 500.3L765.5 500.4L766.7 500.6L767.9 500.7L769.1 500.8L770.3 501.0L771.5 501.1L772.7 501.2L774.8 501.4L776.9 501.7L779.0 501.9L781.0 502.1L782.8 502.2L784.5 502.2L786.0 502.0L787.4 501.7L788.7 501.3L790.0 500.8L790.9 500.4L791.7 499.9L792.5 499.4L793.3 498.8L794.1 498.3L794.9 497.7L795.6 497.2L796.3 496.7L797.3 495.9L798.0 495.4L798.7 494.8L799.3 494.2L800.0 493.5L800.7 492.7L801.4 492.0L802.0 491.2L802.7 490.4L803.3 489.6L804.0 488.8L804.7 488.0L805.3 487.1L806.0 486.3L806.7 485.4L807.3 484.6L808.0 483.7L808.7 482.8L809.4 481.9L810.1 480.9L810.8 480.0L811.4 479.0L812.1 477.8L812.8 476.7L813.4 475.5L814.0 474.3L814.7 473.1L815.3 471.9L816.0 470.5L816.7 469.2L817.3 467.9L818.0 466.5L818.7 465.2L819.4 463.8L820.1 462.4L820.9 461.1L821.7 459.7L822.4 458.3L823.2 456.8L824.1 455.0L824.5 454.1L825.0 453.1L825.4 452.0L825.8 451.0L826.3 449.9L826.7 448.8L827.2 447.8L827.6 446.7L828.1 445.6L828.5 444.5L829.0 443.5L829.5 442.5L829.9 441.4L830.4 440.4L830.9 439.3L831.3 438.3L831.8 437.2L832.3 436.2L832.8 435.2L833.2 434.1L833.7 433.1L834.2 432.0L834.6 431.0L835.0 430.0L835.4 429.0L835.9 428.0L836.3 427.0L836.7 426.0L837.1 425.0L837.5 424.0L837.9 423.0L838.3 422.0L838.7 421.0L839.1 420.0L839.5 419.0L839.9 418.0L840.3 416.9L840.7 415.9L841.2 414.8L841.6 413.8L842.0 412.7L842.4 411.7L842.8 410.6L843.2 409.6L843.7 408.6L844.1 407.5L844.5 406.5L844.9 405.5L845.3 404.5L845.7 403.6L846.1 402.6L846.6 401.6L847.0 400.7L847.4 399.7L847.8 398.7L848.2 397.8L848.6 396.9L849.1 395.9L849.5 395.0L849.9 394.1L850.3 393.3L850.7 392.4L851.1 391.6L851.6 390.7L852.0 389.9L852.4 389.1L852.8 388.3L853.2 387.4L853.7 386.6L854.1 385.8L854.5 385.0L855.3 383.5L856.1 381.9L857.0 380.4L857.8 378.9L858.7 377.5L859.5 376.0L860.3 374.6L861.2 373.3L862.0 371.9L862.9 370.6L863.7 369.3L864.5 368.0L865.2 366.9L865.9 365.8L866.5 364.7L867.2 363.6L867.8 362.6L868.5 361.5L869.2 360.4L869.8 359.3L870.5 358.3L871.1 357.2L871.8 356.1L872.5 355.0L873.2 353.8L874.0 352.7L874.7 351.5L875.5 350.4L876.2 349.2L877.0 348.0L877.8 346.8L878.6 345.5L879.4 344.3L880.2 343.0L881.1 341.8L882.0 340.5L882.5 339.8L883.1 339.1L883.6 338.3L884.2 337.6L884.8 336.9L885.4 336.2L886.0 335.4L886.6 334.7L887.2 334.0L887.8 333.3L888.4 332.6L889.0 332.0L890.0 330.9L891.0 329.8L892.0 328.8L893.0 327.8L894.0 326.9L895.0 326.0L895.8 325.3L896.7 324.6L897.5 323.9L898.3 323.3L899.1 322.7L900.0 322.2L900.8 321.8L901.7 321.4L902.9 320.9L904.2 320.6L905.3 320.5L906.7 320.5L908.0 320.8L909.0 321.1L910.0 321.7L911.0 322.4L911.7 323.0L912.2 323.6L912.8 324.3L913.4 325.1L913.8 325.9L914.3 326.8L914.7 327.8L915.1 328.7L915.5 329.7L915.9 330.8L916.2 331.8L916.5 333.0L916.8 334.1L917.2 335.4L917.5 336.7L917.8 337.8L918.1 339.0L918.4 340.2L918.7 341.5L919.0 342.8L919.4 344.2L919.7 345.5L920.0 346.9L920.3 348.3L920.7 349.7L921.0 351.1L921.3 352.4L921.6 353.7L921.9 355.0L922.2 356.3L922.5 357.5L922.8 358.8L923.1 360.1L923.4 361.4L923.6 362.7L923.9 363.9L924.2 365.2L924.5 366.5L924.8 367.8L925.1 369.1L925.4 370.4L925.7 371.7L926.0 373.0L926.3 374.3L926.6 375.5L926.9 376.8L927.2 378.1L927.4 379.4L927.7 380.7L928.0 382.0L928.3 383.3L928.6 384.6L928.9 385.9L929.1 387.2L929.4 388.5L929.7 389.8L929.9 391.0L930.2 392.3L930.5 393.6L930.7 394.9L931.0 396.2L931.2 397.5L931.5 398.8L931.7 400.1L932.0 401.3L932.2 402.6L932.5 403.8L932.7 405.1L932.9 406.3L933.1 407.6L933.4 408.8L933.6 410.1L933.9 411.5L934.1 412.8L934.4 414.2L934.7 415.9L935.1 417.7L935.5 419.6L935.9 421.4L936.3 423.3L936.7 425.3L937.1 427.2L937.5 429.2L937.9 431.1L938.3 433.1L938.6 435.0L939.0 436.9L939.4 438.8L939.7 440.8L940.1 442.7L940.4 444.6L940.8 446.6L941.1 448.5L941.4 450.5L941.8 452.4L942.1 454.3L942.4 456.2L942.7 458.1L943.0 460.0L943.3 461.7L943.5 463.4L943.8 465.1L944.0 466.7L944.2 468.4L944.4 470.0L944.6 471.7L944.9 473.3L945.1 475.0L945.3 476.6L945.5 478.3L945.7 480.0L945.9 481.8L946.1 483.6L946.3 485.4L946.6 487.3L946.8 489.1L947.0 490.9L947.2 492.8L947.4 494.6L947.6 496.5L947.8 498.3L948.0 500.2L948.2 502.0L948.5 504.0L948.7 505.9L949.0 507.8L949.3 509.7L949.5 511.5L949.8 513.3L950.1 515.2L950.4 516.9L950.7 518.7L950.9 520.5L951.2 522.3L951.5 524.1L951.8 525.9L952.1 527.7L952.4 529.5L952.7 531.3L953.0 533.1L953.2 534.9L953.5 536.7L953.8 538.5L954.1 540.3L954.4 542.0L954.7 543.8L955.0 545.5L955.3 547.0L955.5 548.6L955.8 550.1L956.1 551.7L956.3 553.2L956.6 554.7L956.8 556.3L957.1 557.8L957.4 559.4L957.6 561.0L957.9 562.6L958.2 564.2L958.5 565.8L958.8 567.5L959.1 569.1L959.4 570.7L959.8 572.4L960.1 574.0L960.4 575.6L960.7 577.1L961.1 578.7L961.4 580.2L961.7 581.7L962.0 583.2L962.3 584.5L962.5 585.8L962.8 587.0L963.1 588.3L963.3 589.5L963.6 590.8L963.8 592.1L964.1 593.4L964.4 594.8L964.6 596.2L964.9 597.6L965.2 599.0L965.5 600.5L965.8 602.0L966.1 603.5L966.4 604.9L966.7 606.4L967.0 607.8L967.3 609.3L967.7 610.7L968.0 612.2L968.3 613.7L968.7 615.2L969.0 616.6L969.3 618.0L969.6 619.3L970.0 620.7L970.3 622.0L970.6 623.3L970.9 624.6L971.3 625.9L971.6 627.2L972.0 628.5L972.3 629.8L972.7 631.0L973.0 632.3L973.3 633.4L973.6 634.6L974.0 635.7L974.3 636.8L974.6 637.9L974.9 639.0L975.3 640.1L975.6 641.3L976.0 642.4L976.3 643.5L976.6 644.6L977.0 645.7L977.3 646.6L977.6 647.5L978.0 648.4L978.3 649.3L978.6 650.2L978.9 651.1L979.3 652.0L979.6 652.9L979.9 653.8L980.6 655.5L981.3 656.8L981.8 657.9L982.4 658.9L982.9 659.9L983.5 660.9L984.2 661.7L984.8 662.3L985.6 663.0L986.5 663.5L987.4 663.9L988.6 663.8L989.5 663.5L990.4 662.9L991.2 662.2L991.8 661.5L992.5 660.6L993.1 659.5L993.6 658.4L994.2 657.3L994.7 656.2L995.4 654.7L996.0 653.0L996.4 652.1L996.7 651.2L997.0 650.3L997.3 649.4L997.7 648.5L998.0 647.5L998.3 646.6L998.7 645.6L999.0 644.5L999.5 643.0L1000.0 641.4L1000.5 639.8L1001.0 638.1L1001.5 636.4L1002.0 634.7L1002.5 633.0L1003.0 631.4L1003.5 629.7L1004.0 628.0L1004.5 626.3L1005.0 624.7L1005.5 622.9L1006.0 621.2L1006.6 619.4L1007.1 617.7L1007.6 615.9L1008.1 614.2L1008.6 612.4L1009.1 610.7L1009.6 609.0L1010.1 607.2L1010.5 605.6L1011.0 603.9L1011.4 602.3L1011.9 600.8L1012.3 599.2L1012.7 597.7L1013.1 596.2L1013.5 594.7L1013.9 593.2L1014.3 591.7L1014.7 590.2L1015.0 588.7L1015.4 587.2L1015.8 585.7L1016.2 584.1L1016.5 582.6L1016.9 581.1L1017.3 579.6L1017.6 578.1L1018.0 576.6L1018.3 575.2L1018.6 573.7L1019.0 572.3L1019.3 570.9L1019.7 569.5L1020.0 568.1L1020.3 566.9L1020.6 565.7L1020.9 564.5L1021.2 563.3L1021.5 562.2L1021.7 561.0L1022.0 559.9L1022.3 558.7L1022.6 557.6L1022.9 556.4L1023.2 555.3L1023.5 554.2L1023.8 553.2L1024.0 552.2L1024.3 551.3L1024.6 550.3L1024.8 549.4L1025.1 548.4L1025.4 547.5L1025.6 546.5L1025.9 545.6L1026.2 544.6L1026.5 543.6L1026.8 542.6L1027.1 541.5L1027.4 540.3L1027.8 539.2L1028.1 538.1L1028.5 536.9L1028.8 535.8L1029.2 534.6L1029.5 533.5L1029.9 532.4L1030.3 531.3L1030.6 530.1L1031.0 529.1L1031.4 528.1L1031.7 527.1L1032.1 526.1L1032.4 525.1L1032.8 524.1L1033.2 523.2L1033.6 522.2L1033.9 521.2L1034.3 520.3L1034.7 519.4L1035.1 518.5L1035.5 517.6L1036.2 516.2L1036.9 514.8L1037.6 513.4L1038.3 512.1L1039.1 510.9L1039.8 509.7L1040.4 508.7L1041.0 507.7L1041.6 506.8L1042.3 505.9L1042.9 505.1L1043.5 504.3L1044.2 503.4L1044.9 502.6L1045.7 501.8L1046.5 501.2L1047.4 500.8L1048.3 500.4L1049.6 500.2L1051.2 500.3L1052.1 500.6L1053.1 501.1L1054.0 501.5L1055.0 502.0L1056.0 502.5L1057.1 503.0L1058.3 503.6L1059.4 504.2L1060.6 504.8L1061.8 505.5L1063.0 506.1L1064.3 506.8L1065.6 507.6L1066.9 508.4L1068.3 509.2L1069.6 509.9L1071.0 510.6L1072.4 511.2L1073.8 511.8L1075.3 512.4L1076.7 512.8L1078.2 513.2L1079.6 513.3L1081.0 513.2L1082.4 513.0L1083.8 512.6L1085.2 512.1L1086.6 511.6L1088.0 511.0L1089.7 510.2L1090.5 509.8L1091.3 509.3L1092.1 508.8L1093.0 508.3L1093.8 507.8L1094.7 507.3L1095.5 506.7L1096.4 506.2L1097.2 505.6L1098.1 505.1L1099.1 504.5L1100.0 503.9L1101.0 503.2L1102.0 502.6L1102.9 501.9L1103.9 501.2L1104.9 500.6L1105.9 499.9L1106.9 499.3L1107.9 498.7L1109.0 498.1L1110.0 497.6L1111.0 497.1L1112.1 496.6L1113.2 496.1L1114.3 495.7L1115.4 495.2L1116.5 494.8L1117.6 494.4L1118.7 494.1L1119.7 493.8L1120.8 493.5L1121.9 493.4L1123.8 493.3L1125.5 493.5L1127.2 493.8L1128.8 494.3L1130.5 494.9L1132.2 495.5L1133.9 496.1L1134.8 496.4L1135.7 496.8L1136.5 497.1L1137.4 497.5L1138.3 497.9L1139.2 498.3L1140.1 498.7L1141.0 499.1L1141.8 499.4L1142.7 499.8L1143.6 500.2L1144.5 500.6L1145.3 501.0L1146.2 501.3L1147.1 501.7L1147.9 502.1L1148.8 502.5L1149.7 502.9L1150.5 503.3L1151.4 503.6L1152.3 504.0L1154.0 504.6L1155.7 505.1L1157.4 505.7L1159.1 506.1L1160.8 506.5L1162.5 506.8L1164.2 507.0L1166.0 507.0L1167.8 506.9L1169.6 506.7L1171.4 506.5L1173.2 506.1L1175.0 505.8L1176.7 505.4L1178.3 505.0L1180.0 504.5L1181.6 503.9L1183.3 503.4L1184.9 502.9L1186.6 502.4L1188.2 501.9L1189.9 501.3L1191.6 500.8L1193.3 500.3L1195.0 499.9L1196.7 499.5L1198.5 499.1L1200.2 498.8L1202.0 498.5L1203.7 498.3L1205.5 498.2L1207.2 498.2L1209.0 498.3L1210.8 498.5L1212.5 498.7L1214.3 499.0L1216.0 499.2L1217.7 499.4L1219.4 499.7L1221.1 500.0L1222.8 500.3L1224.5 500.7L1226.2 501.0L1228.0 501.4L1229.8 501.8L1231.5 502.2L1233.3 502.6L1235.2 503.0L1237.0 503.4L1238.9 503.7L1240.9 504.1L1242.8 504.4L1244.8 504.7L1246.8 504.9L1248.9 505.0L1251.2 505.0L1252.3 504.9L1253.5 504.8L1254.7 504.7L1255.9 504.6L1257.0 504.5L1258.2 504.4L1259.4 504.2L1260.6 504.1L1261.8 503.9L1263.0 503.8L1264.2 503.7L1265.5 503.5L1266.7 503.4L1267.9 503.2L1269.2 503.1L1270.4 502.9L1271.7 502.7L1272.9 502.6L1274.2 502.4L1275.4 502.3L1276.6 502.1L1277.8 502.0L1278.9 501.9L1280.0 501.8L1281.1 501.7L1282.2 501.5L1284.4 501.3L1286.6 501.1L1288.8 501.0L1291.0 500.8L1292.2 500.7L1293.3 500.7L1294.5 500.6L1295.6 500.6L1296.8 500.5L1298.0 500.5L1299.1 500.4L1300.3 500.4L1301.5 500.3L1302.7 500.3L1303.8 500.2L1305.0 500.2" stroke="#48d2d8" stroke-width="1.4"/></g><rect x="342.6" y="136.5" width="3.3" height="5.4" fill="#1a1a1a"/><rect x="342.6" y="158.1" width="3.3" height="5.4" fill="#1a1a1a"/><rect x="342.6" y="179.7" width="3.3" height="5.4" fill="#1a1a1a"/><rect x="342.6" y="201.3" width="3.3" height="5.4" fill="#1a1a1a"/><rect x="342.6" y="222.9" width="3.3" height="5.4" fill="#1a1a1a"/><rect x="342.6" y="244.6" width="3.3" height="5.4" fill="#1a1a1a"/><rect x="342.6" y="266.2" width="3.3" height="5.4" fill="#1a1a1a"/><rect x="342.6" y="287.8" width="3.3" height="5.4" fill="#1a1a1a"/><rect x="342.6" y="309.4" width="3.3" height="5.4" fill="#1a1a1a"/><rect x="342.6" y="331.0" width="3.3" height="5.4" fill="#1a1a1a"/><rect x="342.6" y="352.6" width="3.3" height="5.4" fill="#1a1a1a"/><rect x="342.6" y="374.2" width="3.3" height="5.4" fill="#1a1a1a"/><rect x="342.6" y="395.8" width="3.3" height="5.4" fill="#1a1a1a"/><rect x="342.6" y="417.4" width="3.3" height="5.4" fill="#1a1a1a"/><rect x="342.6" y="439.0" width="3.3" height="5.4" fill="#1a1a1a"/><rect x="342.6" y="460.7" width="3.3" height="5.4" fill="#1a1a1a"/><rect x="342.6" y="482.3" width="3.3" height="5.4" fill="#1a1a1a"/><rect x="342.6" y="503.9" width="3.3" height="5.4" fill="#1a1a1a"/><rect x="342.6" y="525.5" width="3.3" height="5.4" fill="#1a1a1a"/><rect x="342.6" y="547.1" width="3.3" height="5.4" fill="#1a1a1a"/><rect x="342.6" y="568.7" width="3.3" height="5.4" fill="#1a1a1a"/><rect x="342.6" y="590.3" width="3.3" height="5.4" fill="#1a1a1a"/><rect x="342.6" y="611.9" width="3.3" height="5.4" fill="#1a1a1a"/><rect x="342.6" y="633.5" width="3.3" height="5.4" fill="#1a1a1a"/><rect x="342.6" y="655.1" width="3.3" height="5.4" fill="#1a1a1a"/><rect x="342.6" y="676.8" width="3.3" height="5.4" fill="#1a1a1a"/><rect x="342.6" y="698.4" width="3.3" height="5.4" fill="#1a1a1a"/><rect x="342.6" y="720.0" width="3.3" height="5.4" fill="#1a1a1a"/><rect x="342.6" y="741.6" width="3.3" height="5.4" fill="#1a1a1a"/><rect x="342.6" y="763.2" width="3.3" height="5.4" fill="#1a1a1a"/><rect x="342.6" y="784.8" width="3.3" height="5.4" fill="#1a1a1a"/><rect x="342.6" y="806.4" width="3.3" height="5.4" fill="#1a1a1a"/><rect x="342.6" y="828.0" width="3.3" height="5.4" fill="#1a1a1a"/><rect x="342.6" y="849.6" width="3.3" height="5.4" fill="#1a1a1a"/><rect x="342.6" y="871.2" width="3.3" height="5.4" fill="#1a1a1a"/><rect x="342.6" y="892.9" width="3.3" height="5.4" fill="#1a1a1a"/><rect x="342.6" y="914.5" width="3.3" height="5.4" fill="#1a1a1a"/><rect x="342.6" y="936.1" width="3.3" height="5.4" fill="#1a1a1a"/><rect x="342.6" y="957.7" width="3.3" height="5.4" fill="#1a1a1a"/><rect x="342.6" y="979.3" width="3.3" height="5.4" fill="#1a1a1a"/><rect x="342.6" y="1000.9" width="3.3" height="5.4" fill="#1a1a1a"/><rect x="342.6" y="1022.5" width="3.3" height="5.4" fill="#1a1a1a"/><rect x="342.6" y="1044.5" width="3.2" height="2.5" fill="#555"/><rect x="985.9" y="35.2" width="3.3" height="5.4" fill="#1a1a1a"/><rect x="985.9" y="56.8" width="3.3" height="5.4" fill="#1a1a1a"/><rect x="985.9" y="78.4" width="3.3" height="5.4" fill="#1a1a1a"/><rect x="985.9" y="100.0" width="3.3" height="5.4" fill="#1a1a1a"/><rect x="985.9" y="121.6" width="3.3" height="5.4" fill="#1a1a1a"/><rect x="985.9" y="143.2" width="3.3" height="5.4" fill="#1a1a1a"/><rect x="985.9" y="164.8" width="3.3" height="5.4" fill="#1a1a1a"/><rect x="985.9" y="186.4" width="3.3" height="5.4" fill="#1a1a1a"/><rect x="985.9" y="208.0" width="3.3" height="5.4" fill="#1a1a1a"/><rect x="985.9" y="229.6" width="3.3" height="5.4" fill="#1a1a1a"/><rect x="985.9" y="251.2" width="3.3" height="5.4" fill="#1a1a1a"/><rect x="985.9" y="272.8" width="3.3" height="5.4" fill="#1a1a1a"/><rect x="985.9" y="294.4" width="3.3" height="5.4" fill="#1a1a1a"/><rect x="985.9" y="316.0" width="3.3" height="5.4" fill="#1a1a1a"/><rect x="985.9" y="337.6" width="3.3" height="5.4" fill="#1a1a1a"/><rect x="985.9" y="359.2" width="3.3" height="5.4" fill="#1a1a1a"/><rect x="985.9" y="380.8" width="3.3" height="5.4" fill="#1a1a1a"/><rect x="985.9" y="402.4" width="3.3" height="5.4" fill="#1a1a1a"/><rect x="985.9" y="424.0" width="3.3" height="5.4" fill="#1a1a1a"/><rect x="985.9" y="445.6" width="3.3" height="5.4" fill="#1a1a1a"/><rect x="985.9" y="467.2" width="3.3" height="5.4" fill="#1a1a1a"/><rect x="985.9" y="488.8" width="3.3" height="5.4" fill="#1a1a1a"/><rect x="985.9" y="510.4" width="3.3" height="5.4" fill="#1a1a1a"/><rect x="985.9" y="532.0" width="3.3" height="5.4" fill="#1a1a1a"/><rect x="985.9" y="553.6" width="3.3" height="5.4" fill="#1a1a1a"/><rect x="985.9" y="575.2" width="3.3" height="5.4" fill="#1a1a1a"/><rect x="985.9" y="596.8" width="3.3" height="5.4" fill="#1a1a1a"/><rect x="985.9" y="618.4" width="3.3" height="5.4" fill="#1a1a1a"/><rect x="985.9" y="640.0" width="3.3" height="5.4" fill="#1a1a1a"/><rect x="985.9" y="661.6" width="3.3" height="5.4" fill="#1a1a1a"/><rect x="985.9" y="683.2" width="3.3" height="5.4" fill="#1a1a1a"/><rect x="985.9" y="704.8" width="3.3" height="5.4" fill="#1a1a1a"/><rect x="985.9" y="726.4" width="3.3" height="5.4" fill="#1a1a1a"/><rect x="985.9" y="748.0" width="3.3" height="5.4" fill="#1a1a1a"/><rect x="985.9" y="769.6" width="3.3" height="5.4" fill="#1a1a1a"/><rect x="985.9" y="791.2" width="3.3" height="5.4" fill="#1a1a1a"/><rect x="985.9" y="812.8" width="3.3" height="5.4" fill="#1a1a1a"/><rect x="985.9" y="834.4" width="3.3" height="5.4" fill="#1a1a1a"/><rect x="985.9" y="856.0" width="3.3" height="5.4" fill="#1a1a1a"/><rect x="985.9" y="877.6" width="3.3" height="5.4" fill="#1a1a1a"/><rect x="985.9" y="899.2" width="3.3" height="5.4" fill="#1a1a1a"/><rect x="985.9" y="920.8" width="3.3" height="5.4" fill="#1a1a1a"/><rect x="985.9" y="942.4" width="3.3" height="5.4" fill="#1a1a1a"/><rect x="985.9" y="964.0" width="3.3" height="5.4" fill="#1a1a1a"/><rect x="149.5" y="36.6" width="1156.5" height="931.0" fill="none" stroke="#111" stroke-width="3"/><path d="M149.5 36.6h17M149.5 94.8h9M149.5 153.0h17M149.5 211.2h9M149.5 269.4h17M149.5 327.5h9M149.5 385.7h17M149.5 443.9h9M149.5 502.1h17M149.5 560.3h9M149.5 618.5h17M149.5 676.7h9M149.5 734.9h17M149.5 793.0h9M149.5 851.2h17M149.5 909.4h9M149.5 967.6h17M149.5 967.6v-17M294.1 967.6v-9M438.6 967.6v-17M583.2 967.6v-9M727.8 967.6v-17M872.3 967.6v-9M1016.9 967.6v-17M1161.4 967.6v-9M1306.0 967.6v-17" stroke="#111" stroke-width="3" fill="none"/><rect x="172.7" y="55" width="543.8" height="73.5" fill="#fff" stroke="#5e5e5e" stroke-width="2"/><line x1="183.4" y1="95.2" x2="303" y2="95.2" stroke="#9a9a9a" stroke-width="3" stroke-dasharray="4.6 6.8"/><text x="304.6" y="106.8" font-family="Liberation Serif, serif" font-size="48.5" fill="#000">Extremes of samples</text><rect x="1007.6" y="50" width="260.8" height="423" fill="#fff" stroke="#5e5e5e" stroke-width="2"/><line x1="1013.3" y1="83.85" x2="1122.3" y2="83.85" stroke="#7a7a7a" stroke-width="1.4"/><text x="1133.7" y="99.8" font-family="Liberation Serif, serif" font-size="48" fill="#000">30 s</text><line x1="1013.3" y1="143.35" x2="1122.3" y2="143.35" stroke="#ee8690" stroke-width="1.4"/><text x="1133.7" y="159.3" font-family="Liberation Serif, serif" font-size="48" fill="#000">300 s</text><line x1="1013.3" y1="202.85" x2="1122.3" y2="202.85" stroke="#6b92d0" stroke-width="1.4"/><text x="1133.7" y="218.8" font-family="Liberation Serif, serif" font-size="48" fill="#000">600 s</text><line x1="1013.3" y1="262.35" x2="1122.3" y2="262.35" stroke="#6cc49f" stroke-width="1.4"/><text x="1133.7" y="278.4" font-family="Liberation Serif, serif" font-size="48" fill="#000">900 s</text><line x1="1013.3" y1="321.85" x2="1122.3" y2="321.85" stroke="#d2a6ea" stroke-width="1.4"/><text x="1135.9" y="337.9" font-family="Liberation Serif, serif" font-size="48" fill="#000">1200 s</text><line x1="1013.3" y1="381.35" x2="1122.3" y2="381.35" stroke="#e2bc66" stroke-width="1.4"/><text x="1135.9" y="397.4" font-family="Liberation Serif, serif" font-size="48" fill="#000">1500 s</text><line x1="1013.3" y1="440.85" x2="1122.3" y2="440.85" stroke="#48d2d8" stroke-width="1.4"/><text x="1135.9" y="456.9" font-family="Liberation Serif, serif" font-size="48" fill="#000">1800 s</text><text x="128.5" y="48.4" text-anchor="end" font-family="Liberation Sans, sans-serif" font-size="38" fill="#000">4</text><text x="128.5" y="164.8" text-anchor="end" font-family="Liberation Sans, sans-serif" font-size="38" fill="#000">3</text><text x="128.5" y="281.2" text-anchor="end" font-family="Liberation Sans, sans-serif" font-size="38" fill="#000">2</text><text x="128.5" y="397.5" text-anchor="end" font-family="Liberation Sans, sans-serif" font-size="38" fill="#000">1</text><text x="128.5" y="513.9" text-anchor="end" font-family="Liberation Sans, sans-serif" font-size="38" fill="#000">0</text><text x="128.5" y="630.3" text-anchor="end" font-family="Liberation Sans, sans-serif" font-size="38" fill="#000">-1</text><text x="128.5" y="746.6" text-anchor="end" font-family="Liberation Sans, sans-serif" font-size="38" fill="#000">-2</text><text x="128.5" y="863.0" text-anchor="end" font-family="Liberation Sans, sans-serif" font-size="38" fill="#000">-3</text><text x="128.5" y="979.4" text-anchor="end" font-family="Liberation Sans, sans-serif" font-size="38" fill="#000">-4</text><text x="149.5" y="1018" text-anchor="middle" font-family="Liberation Sans, sans-serif" font-size="38" letter-spacing="1" fill="#000">0</text><text x="438.6" y="1018" text-anchor="middle" font-family="Liberation Sans, sans-serif" font-size="38" letter-spacing="1" fill="#000">100</text><text x="727.8" y="1018" text-anchor="middle" font-family="Liberation Sans, sans-serif" font-size="38" letter-spacing="1" fill="#000">200</text><text x="1016.9" y="1018" text-anchor="middle" font-family="Liberation Sans, sans-serif" font-size="38" letter-spacing="1" fill="#000">300</text><text x="1306.0" y="1018" text-anchor="middle" font-family="Liberation Sans, sans-serif" font-size="38" letter-spacing="1" fill="#000">400</text><text x="727.7" y="1101" text-anchor="middle" font-family="Liberation Serif, serif" font-size="57" fill="#000">Thickness(μm)</text><text transform="translate(60,502.2) rotate(-90)" text-anchor="middle" font-family="Liberation Serif, serif" font-size="57.4" fill="#000">Chargr Density/(C/m<tspan font-size="37" dy="-24">3</tspan><tspan dy="24">)</tspan></text><text x="518.5" y="1265.8" font-family="Liberation Serif, serif" font-size="65" textLength="69" lengthAdjust="spacingAndGlyphs" fill="#000">(<tspan font-weight="bold">a</tspan>)</text><text x="603.5" y="1265.8" font-family="Liberation Serif, serif" font-size="65" textLength="268.5" lengthAdjust="spacingAndGlyphs" fill="#000">Material 1</text></svg>
</body></html>
